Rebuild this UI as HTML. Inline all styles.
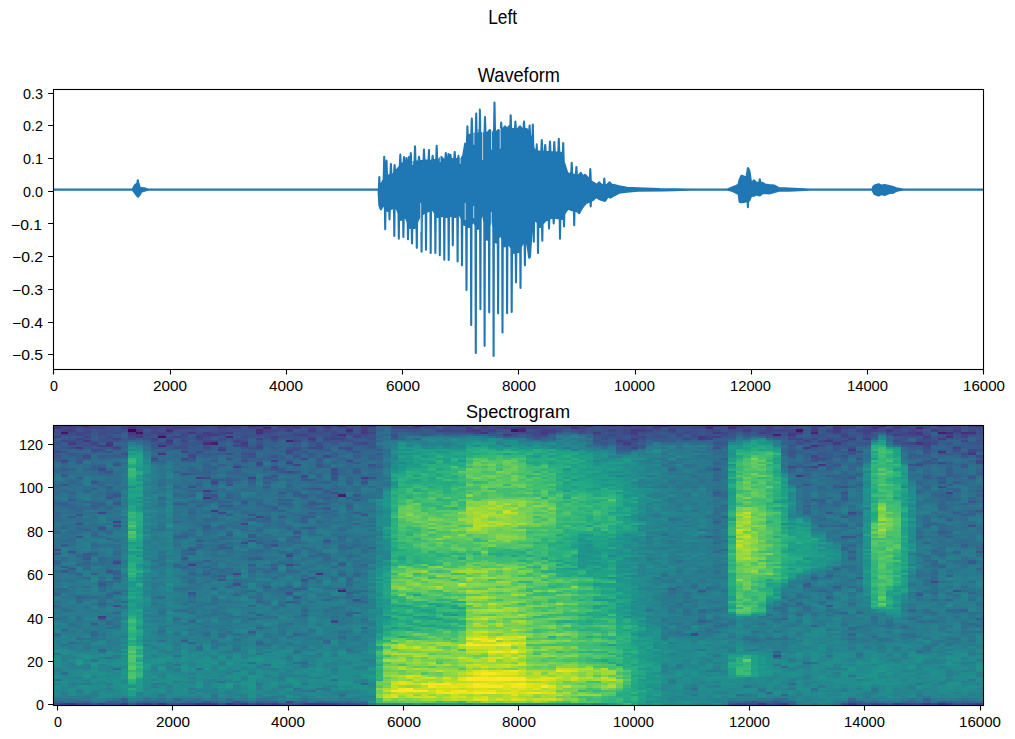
<!DOCTYPE html>
<html><head><meta charset="utf-8"><style>
html,body{margin:0;padding:0;background:#fff;width:1015px;height:739px;overflow:hidden}
svg{display:block}
text{font-family:"Liberation Sans",sans-serif;font-size:100px;fill:#000}
</style></head><body>
<svg width="1015" height="739" viewBox="0 0 1015 739">
<rect width="1015" height="739" fill="#fff"/>
<g transform="matrix(7.5 0 0 2.170543 53 425)" fill="none" stroke-width="1" shape-rendering="crispEdges"><path stroke="#440154" d="M10 2.5h1"/><path stroke="#470d60" d="M14 5.5h1M61 2.5h1"/><path stroke="#471365" d="M1 3.5h1m9 0h1M99 2.5h1"/><path stroke="#481d6f" d="M38 32.5h1M21 8.5h1M96 4.5h1M118 3.5h1"/><path stroke="#482374" d="M38 76.5h1M31 7.5h1M101 3.5h1M62 2.5h1M28 1.5h1m86 0h1"/><path stroke="#482878" d="M23 5.5h1M87 1.5h1m2 0h1M110 0.5h1"/><path stroke="#472d7b" d="M118 128.5h1M14 9.5h1M20 8.5h1M119 5.5h1M38 4.5h1M27 3.5h1m91 0h1m1 0h1M15 2.5h1m11 0h1m11 0h1M62 1.5h1m6 0h1m39 0h1M38 0.5h1m9 0h1"/><path stroke="#46327e" d="M2 128.5h1m11 0h1m4 0h1m3 0h1m70 0h1M35 68.5h1M20 33.5h1M118 12.5h1M101 9.5h1M115 8.5h1M57 3.5h1m64 0h1M0 1.5h1m9 0h1m93 0h1M26 0.5h1m54 0h1m5 0h1"/><path stroke="#453781" d="M21 39.5h1M102 18.5h1M14 13.5h1m107 0h1M3 10.5h1m96 0h1M7 9.5h1M7 8.5h1m17 0h1m78 0h1M4 7.5h1m10 0h1m87 0h1M34 6.5h1M86 5.5h1M21 4.5h1m76 0h1M10 3.5h1m7 0h1m4 0h1m17 0h1m23 0h1m22 0h1m10 0h1m15 0h1M11 2.5h1m44 0h1m20 0h1m33 0h1M16 1.5h1m38 0h1m4 0h1m51 0h1M4 0.5h1m37 0h1m28 0h1m51 0h1"/><path stroke="#443b84" d="M1 128.5h1m7 0h1m2 0h1m7 0h2m3 0h1m8 0h2m61 0h1m8 0h1m5 0h1m10 0h1M6 88.5h1M20 30.5h1M19 24.5h1m21 0h1M99 23.5h1M29 16.5h1M22 11.5h1m83 0h1M2 8.5h1m73 0h1M75 7.5h1M77 6.5h1m8 0h1m21 0h1m9 0h1M11 5.5h1m7 0h1m96 0h1M14 4.5h1m45 0h1m51 0h1m2 0h1M20 3.5h1m51 0h1m4 0h1m36 0h1M31 2.5h1m2 0h1m6 0h1m13 0h1m9 0h2m11 0h1m13 0h1m8 0h1m2 0h1m12 0h1m2 0h1M17 1.5h1m4 0h1m9 0h1m8 0h1m19 0h1m1 0h2m5 0h1m9 0h1m14 0h1m5 0h1M1 0.5h1m10 0h1m6 0h1m2 0h1m4 0h1m2 0h1m1 0h1m8 0h1m12 0h1m21 0h1m41 0h1"/><path stroke="#424086" d="M27 128.5h1m1 0h1m6 0h2m78 0h1m2 0h1M18 64.5h1M8 44.5h1M119 31.5h1M24 19.5h1m76 0h1M31 17.5h1M1 16.5h1M8 10.5h1m111 0h1M6 9.5h1m18 0h1M5 8.5h1m9 0h1M24 7.5h1m77 0h1M3 6.5h1m4 0h1m4 0h1m13 0h1m9 0h1m49 0h1m18 0h1M0 5.5h1m15 0h1m12 0h1m10 0h1m47 0h1M10 4.5h2m8 0h1m12 0h1m31 0h1m39 0h1m13 0h1M22 3.5h1m33 0h1m37 0h1m3 0h1m5 0h1m3 0h1M1 2.5h2m25 0h1m29 0h1m23 0h1m12 0h1m12 0h2M2 1.5h1m1 0h1m4 0h1m1 0h1m1 0h1m1 0h1m2 0h1m5 0h1m5 0h2m2 0h1m1 0h1m11 0h1m8 0h1m1 0h1m45 0h1M2 0.5h1m7 0h1m12 0h1m12 0h1m12 0h1m30 0h1m9 0h2m10 0h1m10 0h1m8 0h1"/><path stroke="#404588" d="M4 128.5h1m1 0h1m11 0h1m14 0h1M31 127.5h1M96 106.5h1M37 90.5h1M24 68.5h1M31 64.5h1M8 63.5h1M31 60.5h1M25 45.5h1M27 42.5h1M6 40.5h1M21 26.5h1M26 24.5h1M33 23.5h1M31 21.5h1M32 18.5h1M123 17.5h1M123 16.5h1M17 15.5h1M101 14.5h1M17 12.5h1m13 0h1m90 0h1M27 10.5h1m6 0h1m42 0h1M116 9.5h1M41 8.5h1m72 0h1m1 0h1M1 7.5h1m15 0h1m14 0h1m67 0h1m4 0h1m15 0h1M19 6.5h1m9 0h1m6 0h1m1 0h1m59 0h2M4 5.5h1m73 0h1m8 0h1m17 0h1m15 0h1M1 4.5h1m15 0h1m1 0h1m12 0h1m31 0h1m12 0h1m35 0h2m6 0h1M3 3.5h2m8 0h3m23 0h1m2 0h1m23 0h1m9 0h1m12 0h1m5 0h1m15 0h1m1 0h1M13 2.5h1m15 0h1m21 0h2m21 0h1m4 0h1m16 0h3m4 0h1m3 0h1m6 0h1M5 1.5h2m5 0h1m13 0h1m12 0h1m6 0h2m4 0h1m5 0h1m6 0h1m12 0h1m3 0h1m2 0h1m5 0h2m13 0h1m1 0h1m11 0h1M0 0.5h1m13 0h1m9 0h1m6 0h1m1 0h1m11 0h2m22 0h1m8 0h1m7 0h1m1 0h1m15 0h1"/><path stroke="#3e4989" d="M0 128.5h1m10 0h1m5 0h1m10 0h1m63 0h1m3 0h1m12 0h1m3 0h2m2 0h1m4 0h1M85 96.5h1M117 72.5h1M25 54.5h1M22 40.5h1m83 0h1M118 28.5h1M20 24.5h1M37 22.5h1M6 20.5h1m30 0h1M29 19.5h1m68 0h1M27 18.5h1m87 0h1M27 17.5h1m90 0h1M39 16.5h1M13 15.5h1m19 0h1m68 0h1M4 14.5h1m13 0h1m17 0h1m86 0h1M26 13.5h1m94 0h1M0 12.5h1m18 0h1M5 11.5h1m25 0h1m90 0h1M2 10.5h1m13 0h1m3 0h1m1 0h1m12 0h1m2 0h2m76 0h1M24 9.5h1m2 0h1m7 0h1M99 8.5h1m17 0h1M2 7.5h1m10 0h1m6 0h2m3 0h1m8 0h1m41 0h2m38 0h1M15 6.5h1m6 0h1m61 0h1m16 0h1m1 0h1m12 0h1M7 5.5h1m2 0h1m9 0h1m4 0h1m8 0h1m2 0h2m59 0h1M3 4.5h1m8 0h1m9 0h1m4 0h1m9 0h1m2 0h2m32 0h1m8 0h1m1 0h1m3 0h1m18 0h1m7 0h1M2 3.5h1m3 0h1m1 0h1m8 0h1m3 0h1m6 0h1m5 0h1m2 0h1m24 0h3m19 0h1m35 0h1M4 2.5h1m17 0h1m13 0h1m16 0h2m2 0h1m6 0h1m2 0h1m2 0h1m5 0h1m10 0h2m1 0h1m3 0h1m17 0h1m2 0h1m2 0h1m3 0h1M1 1.5h1m12 0h1m8 0h1m3 0h1m10 0h1m3 0h1m2 0h1m20 0h2m8 0h2m5 0h1m2 0h1m10 0h1m12 0h1m2 0h2m1 0h1m1 0h1m4 0h1M3 0.5h1m11 0h2m11 0h1m8 0h1m12 0h1m2 0h1m3 0h1m7 0h1m2 0h1m4 0h2m8 0h1m11 0h1m5 0h1m3 0h2m5 0h1m6 0h2"/><path stroke="#3d4e8a" d="M3 128.5h1m9 0h1m1 0h1m8 0h1m14 0h1m51 0h1m15 0h1m2 0h1m10 0h1M8 83.5h1M40 80.5h1M31 77.5h1M120 76.5h1M24 73.5h1M33 71.5h1M2 58.5h1M0 57.5h1M29 55.5h1M26 53.5h1M8 46.5h1m113 0h1M37 31.5h1m67 0h1M18 28.5h1m86 0h1M23 27.5h1M28 24.5h1m8 0h1M17 22.5h1M7 21.5h1M29 20.5h1M25 16.5h1m75 0h1M101 15.5h1M26 14.5h1M9 13.5h1m13 0h1m1 0h1m5 0h1M106 12.5h1M6 11.5h1m25 0h1m6 0h1m80 0h1m2 0h1M17 10.5h1m8 0h1m5 0h1m55 0h1m17 0h1M4 9.5h1m12 0h1m2 0h1m55 0h1m25 0h1M3 8.5h1m10 0h1m2 0h1m6 0h1m10 0h1m4 0h1m34 0h1m37 0h1M3 7.5h1m3 0h1m11 0h1m16 0h1m1 0h2m72 0h1m2 0h1m1 0h1m5 0h1M4 6.5h1m1 0h2m2 0h1m1 0h1m4 0h1m2 0h1m3 0h1m7 0h1m9 0h1m30 0h1m1 0h1m2 0h1m36 0h1M17 5.5h1m10 0h1m1 0h1m2 0h1m2 0h1m5 0h1m2 0h1m18 0h1m8 0h1m6 0h2m3 0h1m10 0h1m9 0h1m1 0h1M2 4.5h1m1 0h1m1 0h1m18 0h1m2 0h1m2 0h1m3 0h1m25 0h1m10 0h1m3 0h1m3 0h1m6 0h1m7 0h1m1 0h1m3 0h1m16 0h1m3 0h1M0 3.5h1m6 0h1m4 0h1m6 0h1m9 0h1m2 0h2m1 0h1m19 0h1m2 0h1m2 0h1m8 0h1m4 0h1m2 0h2m2 0h2m1 0h1m1 0h1m4 0h1m3 0h1m6 0h1m1 0h1m1 0h1m4 0h1m10 0h1M0 2.5h1m5 0h2m1 0h1m4 0h1m1 0h1m1 0h1m2 0h1m1 0h2m5 0h1m6 0h1m4 0h1m16 0h1m3 0h1m5 0h1m3 0h1m1 0h1m4 0h1m3 0h2m5 0h1m1 0h1m11 0h1m4 0h1m8 0h1M3 1.5h1m3 0h1m11 0h3m18 0h1m9 0h1m2 0h2m1 0h1m11 0h1m2 0h1m1 0h3m3 0h1m4 0h1m3 0h2m4 0h1m3 0h2m11 0h1m7 0h1m2 0h1M6 0.5h1m4 0h1m6 0h1m1 0h2m33 0h1m3 0h1m3 0h1m11 0h1m1 0h1m1 0h1m9 0h1m4 0h1m2 0h2m9 0h2m6 0h1"/><path stroke="#3a538b" d="M7 128.5h2m7 0h1m9 0h1m3 0h2m6 0h1m1 0h1m52 0h1m1 0h1m9 0h1m2 0h1m6 0h1M24 127.5h1m71 0h1M6 89.5h1M22 71.5h1M7 67.5h1M18 57.5h1M36 53.5h1M105 51.5h1M32 49.5h1M6 47.5h1M3 45.5h1M3 41.5h1m37 0h1M103 40.5h1M123 39.5h1M8 36.5h1M25 35.5h1M7 33.5h1M8 32.5h1m12 0h1M35 29.5h1M1 27.5h1m98 0h1M5 26.5h1m35 0h1M21 25.5h1m11 0h2M42 24.5h1M29 23.5h1M30 21.5h1m6 0h1M88 20.5h1M8 18.5h1m26 0h1m6 0h1m61 0h1m9 0h1M116 16.5h1M18 15.5h1m4 0h1m83 0h1m9 0h1M0 14.5h1m28 0h1m2 0h1m72 0h1m15 0h1M18 13.5h1m79 0h1m3 0h1m3 0h1m11 0h1M1 12.5h1m3 0h1m1 0h1m32 0h1m57 0h1m8 0h1m8 0h1m3 0h1M0 11.5h1m103 0h1m11 0h1M1 10.5h1m23 0h1m78 0h1M2 9.5h2m1 0h1m36 0h1m34 0h2m19 0h1m5 0h1M0 8.5h1m3 0h1m14 0h1m7 0h1m9 0h1m35 0h1m3 0h1m10 0h1m13 0h2m1 0h1m2 0h1m10 0h1m3 0h1M6 7.5h1m1 0h1m13 0h1m4 0h1m1 0h1m7 0h1m34 0h1m5 0h1m20 0h1m4 0h1m1 0h1M2 6.5h1m15 0h1m4 0h1m1 0h1m50 0h1m23 0h1m3 0h1m7 0h2m3 0h1M12 5.5h2m1 0h1m6 0h1m3 0h1m4 0h2m8 0h1m32 0h2m1 0h1m5 0h1m5 0h1m11 0h1m11 0h2m3 0h1M7 4.5h1m5 0h1m1 0h1m10 0h1m2 0h2m3 0h1m1 0h1m2 0h1m2 0h1m2 0h1m27 0h1m1 0h1m2 0h1m7 0h1m1 0h1m5 0h1m7 0h1m3 0h1m2 0h1m1 0h1m8 0h1M25 3.5h1m10 0h1m1 0h1m1 0h1m11 0h3m5 0h1m13 0h1m5 0h1m9 0h1m6 0h1m18 0h1M3 2.5h1m1 0h1m2 0h1m8 0h1m1 0h2m4 0h2m6 0h1m1 0h1m2 0h1m1 0h1m6 0h2m11 0h1m10 0h2m8 0h1m4 0h1m2 0h1m16 0h1m6 0h1m9 0h1M25 1.5h1m3 0h1m3 0h1m1 0h1m1 0h1m11 0h1m31 0h1m11 0h1m2 0h1m10 0h1m9 0h1m3 0h1M5 0.5h1m1 0h1m1 0h1m3 0h1m3 0h1m7 0h1m8 0h2m16 0h1m3 0h1m1 0h1m1 0h1m1 0h1m1 0h1m1 0h1m3 0h1m1 0h1m9 0h1m1 0h2m7 0h1m2 0h1m17 0h2m1 0h1"/><path stroke="#38588c" d="M5 128.5h1m16 0h1m67 0h1m29 0h1M20 127.5h1m72 0h1M26 95.5h1M5 91.5h1M103 83.5h1M31 81.5h1M32 79.5h1M115 78.5h1M18 77.5h1M86 76.5h1M32 75.5h1M6 73.5h1M8 70.5h1M22 69.5h1M1 67.5h1M1 65.5h1M38 64.5h1M8 62.5h1M4 61.5h1m12 0h1M0 59.5h1m3 0h1M123 58.5h1M22 56.5h1M3 51.5h1m102 0h1M33 47.5h1M30 42.5h1M26 41.5h1M36 38.5h1M23 37.5h1M34 36.5h2M122 35.5h1M2 34.5h1m98 0h1M105 33.5h1M40 32.5h1M30 31.5h1m57 0h1M36 30.5h1M34 29.5h1M104 28.5h1M118 26.5h1M22 25.5h1m14 0h1M33 24.5h1m72 0h1m11 0h1m3 0h1M1 23.5h1M32 21.5h1m7 0h1M30 20.5h1M35 19.5h1m64 0h1m20 0h1M121 18.5h1M40 17.5h1m74 0h2M3 16.5h1m14 0h1m12 0h1M0 15.5h1m3 0h1m20 0h1m9 0h1M6 14.5h1m18 0h1m72 0h1M2 13.5h1m31 0h1m84 0h1M33 12.5h1M17 11.5h1m2 0h1m5 0h1m9 0h1m61 0h1M4 10.5h1m1 0h2m5 0h1m15 0h1m1 0h1m1 0h1m8 0h1m32 0h2m24 0h1m21 0h1M13 9.5h1m1 0h2m1 0h1m86 0h2m6 0h3M13 8.5h1m4 0h1m13 0h1m1 0h1m7 0h1m46 0h1m10 0h1m6 0h1m4 0h1m9 0h1M5 7.5h1m35 0h2m38 0h1m19 0h1m11 0h1M1 6.5h1m7 0h1m1 0h1m2 0h1m13 0h1m2 0h1m1 0h1m5 0h1m1 0h1m32 0h1m6 0h1m3 0h1m19 0h1m13 0h3m1 0h1M2 5.5h2m2 0h1m1 0h1m9 0h1m2 0h1m5 0h1m32 0h1m2 0h1m1 0h1m6 0h1m3 0h1m2 0h1m4 0h1m5 0h1m4 0h1m1 0h1m4 0h2m5 0h1m2 0h1m2 0h1m1 0h1m2 0h1m2 0h1M0 4.5h1m4 0h1m2 0h1m7 0h1m6 0h2m24 0h1m8 0h2m3 0h1m15 0h1m1 0h1m8 0h1m1 0h2m5 0h1m4 0h1m2 0h1m15 0h1M5 3.5h1m3 0h1m6 0h1m7 0h1m1 0h1m3 0h2m19 0h1m15 0h1m3 0h1m1 0h1m12 0h1m15 0h1m6 0h1M12 2.5h1m19 0h1m12 0h2m3 0h1m17 0h1m14 0h1m16 0h1m1 0h1m13 0h1m4 0h1M8 1.5h1m42 0h1m20 0h1m27 0h1m1 0h2M8 0.5h1m20 0h1m9 0h2m6 0h1m13 0h1m30 0h1m6 0h2"/><path stroke="#365c8d" d="M10 128.5h1m21 0h1m8 0h1m69 0h1M106 127.5h1M17 99.5h1M31 78.5h1M8 77.5h1M28 74.5h1m75 0h1M100 73.5h1M34 70.5h1M119 69.5h1M5 68.5h1m2 0h1m11 0h1M2 66.5h1m26 0h1M26 64.5h1M0 63.5h1m121 0h1M122 62.5h1M27 61.5h1M31 59.5h1M23 56.5h1M1 55.5h1m119 0h1M27 54.5h1M19 53.5h1M26 51.5h1m5 0h1M23 50.5h1M118 49.5h1M6 48.5h1M34 47.5h1M20 46.5h1M33 44.5h1M26 43.5h1m92 0h1M2 42.5h1m30 0h2m70 0h1M23 41.5h1m97 0h1M34 40.5h1m5 0h1m79 0h1M29 38.5h1M5 37.5h1m16 0h1m16 0h1M0 36.5h2m4 0h1m9 0h1m13 0h1M34 35.5h1M21 34.5h1m9 0h1m8 0h1m61 0h1m2 0h1M21 33.5h1m11 0h1m2 0h1M20 32.5h1m11 0h2M32 31.5h1M21 30.5h1m98 0h1M7 28.5h1m20 0h1M119 27.5h1M23 26.5h1m4 0h1m10 0h1m80 0h1M23 25.5h2m1 0h1m2 0h1M3 24.5h1m112 0h1M37 23.5h1m65 0h2m11 0h1m2 0h1m2 0h1M18 22.5h1m104 0h1M119 21.5h1M1 20.5h1m38 0h1m62 0h1m15 0h1M5 19.5h2m35 0h1m56 0h1m3 0h1M22 18.5h1m8 0h1m67 0h1M1 17.5h1m1 0h1m99 0h1m13 0h1m1 0h1M13 16.5h1m3 0h1m3 0h1m13 0h1M3 15.5h1m23 0h1m2 0h1m72 0h1m19 0h1M3 14.5h1m4 0h1m25 0h1m5 0h1m61 0h3m9 0h2M0 13.5h1m2 0h2m14 0h3m10 0h1m4 0h1m5 0h1m56 0h1m2 0h1m12 0h1M6 12.5h1m7 0h1m3 0h1m6 0h2m12 0h1m59 0h1m2 0h1m2 0h1m17 0h1M3 11.5h1m4 0h1m9 0h1m2 0h1m5 0h1m7 0h1m39 0h2m24 0h1m16 0h1M0 10.5h1m4 0h1m8 0h2m3 0h1m16 0h1m4 0h1m36 0h1m19 0h1m3 0h1m2 0h1m8 0h2m5 0h2M0 9.5h2m6 0h1m12 0h2m3 0h1m5 0h1m1 0h1m4 0h3m33 0h1m12 0h1m11 0h1m6 0h1m12 0h4M1 8.5h1m4 0h1m9 0h1m55 0h1m25 0h1m2 0h1m19 0h1M0 7.5h1m8 0h1m4 0h1m1 0h1m6 0h1m9 0h1m6 0h1m32 0h2m5 0h1m1 0h1m3 0h1m1 0h2m8 0h1m8 0h2m9 0h1M16 6.5h1m4 0h1m8 0h1m9 0h1m4 0h1m18 0h1m7 0h1m6 0h2m1 0h2m4 0h1m7 0h1m5 0h1m4 0h1M1 5.5h1m3 0h1m3 0h1m14 0h1m10 0h1m25 0h1m20 0h1m16 0h2m3 0h1m2 0h1m14 0h1M18 4.5h1m31 0h1m31 0h1m1 0h1m18 0h1M45 3.5h1m2 0h3m8 0h1m9 0h1m11 0h1m9 0h1m1 0h1m6 0h1m5 0h1m3 0h1m6 0h1M49 2.5h1M111 0.5h1m9 0h1"/><path stroke="#34608d" d="M98 128.5h1M7 127.5h1m1 0h1m17 0h1m79 0h1m10 0h1M9 126.5h1M18 100.5h1m8 0h1M86 90.5h1M97 89.5h1m25 0h1M27 87.5h1m5 0h1m5 0h1M40 86.5h1m64 0h1M121 85.5h1M6 82.5h1m92 0h1M27 81.5h1M36 80.5h1M3 79.5h1m99 0h1M0 78.5h1m6 0h1m10 0h1M39 77.5h1M33 75.5h1m4 0h1m43 0h1M31 74.5h1M101 70.5h1m5 0h1M103 69.5h1M3 68.5h1m34 0h1M3 64.5h1m12 0h1m12 0h1m2 0h1M20 62.5h1M26 61.5h1m79 0h1M4 60.5h1M5 59.5h1m12 0h1M106 58.5h1m13 0h1M18 56.5h2m19 0h1m65 0h1M22 55.5h1M29 53.5h1M16 51.5h2m69 0h1m31 0h1M26 50.5h1M4 48.5h1M1 47.5h1m18 0h1M102 46.5h1m2 0h1m10 0h1M117 45.5h1M88 44.5h1M28 43.5h1m4 0h1M28 42.5h1m60 0h1M106 41.5h1M18 40.5h1m103 0h1M30 39.5h1M118 38.5h1M1 37.5h1m17 0h1m80 0h1M17 36.5h1m7 0h1m1 0h1m8 0h1m84 0h1M4 35.5h1m3 0h1m13 0h1m79 0h1M30 34.5h1m88 0h1M23 33.5h1m15 0h1M7 32.5h1m10 0h1m4 0h1m81 0h1m12 0h2m3 0h1M2 31.5h1m5 0h1m11 0h1m15 0h1M123 30.5h1M5 29.5h1m31 0h1M16 28.5h1m99 0h1M19 27.5h1m1 0h1m82 0h1m2 0h1M26 26.5h1m9 0h1M41 25.5h1m46 0h1m29 0h1M23 24.5h1m5 0h1m9 0h1m65 0h1M35 23.5h1m64 0h1m5 0h1m13 0h1M6 22.5h2m12 0h1m79 0h1m6 0h1m11 0h1M6 21.5h1m9 0h1m3 0h1M2 20.5h1m2 0h1m12 0h1m9 0h1m69 0h1m1 0h1M20 19.5h2m3 0h1m10 0h1m6 0h1m60 0h1M20 18.5h1m3 0h1M8 17.5h1m26 0h1m64 0h1m6 0h1M0 16.5h1m25 0h2m74 0h2m13 0h1M1 15.5h1m26 0h1m9 0h1m3 0h1m46 0h1m15 0h1M2 14.5h1m4 0h1m1 0h1m10 0h1m7 0h1m1 0h1m6 0h1m4 0h1m57 0h1m15 0h1M1 13.5h1m20 0h1m78 0h1m3 0h1m8 0h1m5 0h1M22 12.5h1m7 0h1m1 0h1m2 0h1m67 0h2m12 0h1m3 0h1M1 11.5h1m13 0h1m3 0h1m5 0h1m3 0h1m13 0h1m56 0h1m1 0h2m10 0h1m2 0h1m1 0h1M18 10.5h1m2 0h1m1 0h1m95 0h1M19 9.5h1m8 0h1m1 0h1m5 0h1m52 0h1m29 0h1M22 8.5h1m3 0h1m1 0h2m1 0h1m4 0h1m2 0h1m34 0h1m3 0h1m18 0h1m8 0h1m11 0h1M12 7.5h1m5 0h1m9 0h1m55 0h1M0 6.5h1m4 0h1m20 0h1m8 0h1m53 0h2m6 0h1M39 5.5h1m19 0h1m2 0h1m3 0h1m25 0h1M9 4.5h1m38 0h1m3 0h1m3 0h1m5 0h1m3 0h1m33 0h1m16 0h1M47 3.5h1M51 0.5h1m15 0h1m35 0h1m3 0h1"/><path stroke="#32648e" d="M3 127.5h1m8 0h1m12 0h1m7 0h1m1 0h1m56 0h1m1 0h2m2 0h1M116 126.5h1M97 124.5h1M96 104.5h1M6 103.5h1M5 96.5h1m26 0h1m73 0h1M1 94.5h1M27 93.5h1M101 92.5h1M18 90.5h1M26 89.5h1m87 0h1M99 87.5h1M8 86.5h1m98 0h1M33 85.5h1m52 0h1m27 0h1M0 83.5h1M32 81.5h1m8 0h1M117 80.5h1m1 0h1M24 78.5h1M0 77.5h1m114 0h1m1 0h1m4 0h1M102 76.5h1M21 75.5h1m8 0h1M23 74.5h1m76 0h1M6 72.5h2m25 0h1M39 71.5h1M29 70.5h1M40 69.5h1M18 68.5h1m21 0h1m76 0h1M8 67.5h1m17 0h1m1 0h1m2 0h1M21 66.5h1m82 0h1m18 0h1M17 65.5h1m2 0h1m97 0h1M41 64.5h1m75 0h1M4 63.5h1m13 0h1m19 0h1m78 0h1M0 62.5h1M6 61.5h1m29 0h1M3 60.5h1m30 0h1m4 0h1M8 59.5h1m26 0h1M17 58.5h1m70 0h1m28 0h1M21 57.5h1M33 56.5h1m8 0h1M5 55.5h1m13 0h1m8 0h1m77 0h1M36 54.5h1m79 0h1M31 53.5h1M7 52.5h1m14 0h1M38 51.5h1M5 50.5h1m11 0h1m89 0h1M0 49.5h1m6 0h1m15 0h1m95 0h1M18 48.5h1m1 0h1m4 0h1m1 0h1m10 0h1M3 47.5h1m18 0h1m8 0h1M22 46.5h1m81 0h1M40 45.5h1m75 0h1M16 44.5h1m11 0h1m6 0h1M20 43.5h1M118 42.5h1M0 41.5h1m31 0h1m4 0h1m84 0h1M0 40.5h1m24 0h1m10 0h1m63 0h1m6 0h1M3 39.5h1m33 0h1m62 0h1m21 0h1M2 38.5h1m2 0h1m1 0h1m27 0h1m3 0h1M2 37.5h1m3 0h1m21 0h1m2 0h1m1 0h2m69 0h1m13 0h1M5 36.5h1m25 0h1m7 0h1m62 0h1m1 0h1m13 0h1M0 35.5h1m17 0h1m1 0h1m2 0h1m3 0h1m72 0h1m3 0h1M20 34.5h1m15 0h1m83 0h1m1 0h1M14 33.5h1m20 0h1m1 0h1m65 0h1m15 0h1m2 0h1M35 32.5h1m1 0h1m50 0h1m28 0h1M0 31.5h1m6 0h1M1 30.5h1m2 0h1m13 0h2m11 0h1m73 0h1m9 0h1M7 29.5h1m25 0h1m68 0h1m16 0h2M0 28.5h1m30 0h1m5 0h1m64 0h1m3 0h1m16 0h1M0 27.5h1m5 0h1m24 0h1M2 26.5h1m32 0h1m69 0h1m9 0h1M31 25.5h1m73 0h1M104 24.5h1m12 0h1m2 0h1M20 23.5h1m67 0h1m32 0h1M1 22.5h1m17 0h1m3 0h3m5 0h2m5 0h1m1 0h1m64 0h1M0 21.5h1m18 0h1m3 0h2m73 0h1m6 0h1m17 0h1M0 20.5h1m3 0h1m15 0h2m2 0h1m13 0h1m43 0h1m18 0h1m4 0h1m7 0h1m8 0h1M1 19.5h1m25 0h1m11 0h1m66 0h1m12 0h1M5 18.5h2m22 0h1m6 0h1m6 0h1m59 0h1m2 0h2m8 0h1m1 0h3M25 17.5h1m3 0h1m7 0h1m1 0h1m48 0h1m15 0h1M14 16.5h1m85 0h1m4 0h1m16 0h1M6 15.5h1m14 0h1m4 0h1m2 0h1m2 0h1m7 0h1m2 0h1m56 0h1m13 0h1M1 14.5h1m11 0h1m5 0h1m1 0h1m2 0h1m10 0h1m7 0h1m63 0h1m14 0h1M5 13.5h1m2 0h1m19 0h2m3 0h1m4 0h1m1 0h1m58 0h1m4 0h1M2 12.5h1m6 0h1m3 0h1m6 0h1m2 0h2m12 0h1m37 0h1m21 0h1m2 0h2M2 11.5h1m1 0h1m8 0h2m1 0h1m6 0h2m5 0h1m2 0h2m3 0h1m1 0h3m34 0h1m19 0h1m1 0h1m7 0h1m13 0h1M9 10.5h1m14 0h1m5 0h1m9 0h1m2 0h1m59 0h1M9 9.5h1m13 0h1m5 0h1m1 0h1m5 0h2m34 0h1m29 0h1m4 0h1m8 0h2M8 8.5h2m2 0h1m10 0h1m14 0h1M11 7.5h1m14 0h1m3 0h1m4 0h1m7 0h1m35 0h1m3 0h1m1 0h1m1 0h1m9 0h1m16 0h1m4 0h2m1 0h1M46 6.5h1m18 0h2m42 0h1m12 0h1M43 5.5h1m27 0h1m22 0h1m16 0h1M44 4.5h1m2 0h1m5 0h2m36 0h1M46 3.5h1m21 0h1M43 2.5h1M43 1.5h1M44 0.5h1"/><path stroke="#31688e" d="M0 127.5h1m3 0h1m3 0h1m2 0h1m1 0h1m4 0h1m2 0h1m6 0h2m6 0h1m77 0h1m1 0h1m2 0h1m1 0h2M16 126.5h1m89 0h1M95 123.5h1M41 119.5h1M8 112.5h1M33 109.5h1m66 0h1M115 104.5h1M2 100.5h1m33 0h1M36 99.5h1M38 97.5h1m70 0h1M0 96.5h1m19 0h1M5 95.5h1m17 0h1M7 93.5h1m33 0h1m64 0h1M88 92.5h1m34 0h1M7 91.5h1m23 0h1m90 0h1M87 90.5h1M0 89.5h1m15 0h1M39 86.5h1m77 0h1M119 85.5h2M37 84.5h1m58 0h1m3 0h1M26 83.5h1M83 82.5h1m13 0h1m8 0h1M3 81.5h1m5 0h1m8 0h1m21 0h1M27 80.5h1M4 79.5h2m1 0h1m6 0h1m24 0h1M26 76.5h1m4 0h1m8 0h1M0 75.5h2m26 0h1m58 0h1m16 0h1M6 74.5h1m26 0h1m51 0h1m20 0h1M39 73.5h1M18 72.5h1m5 0h1M8 71.5h1m9 0h1m98 0h1M4 70.5h1m32 0h1m1 0h1m77 0h1M21 69.5h1m11 0h1m4 0h1M0 67.5h1m1 0h1m17 0h1m1 0h1m9 0h1m84 0h1M4 66.5h1m12 0h1m5 0h1m3 0h1M16 65.5h1m12 0h1m7 0h1M118 64.5h1M19 63.5h1m10 0h1M4 62.5h1m1 0h1m29 0h1m79 0h2M35 60.5h2m79 0h1m1 0h1M17 59.5h1m18 0h1m81 0h1M8 58.5h1m18 0h1m2 0h1m1 0h1m8 0h1M27 57.5h1m6 0h1m6 0h1m47 0h1m15 0h1m11 0h1M28 56.5h1m9 0h1m79 0h1m4 0h1M38 55.5h1m1 0h1M23 54.5h1m4 0h1m3 0h1m55 0h1m32 0h1M1 53.5h2m5 0h1m12 0h1m5 0h1m93 0h1M2 52.5h1m24 0h1m10 0h1m66 0h1M22 51.5h1m92 0h1M18 50.5h1m99 0h1M2 49.5h1m2 0h1m28 0h1m80 0h1M3 48.5h1m114 0h1M21 47.5h1m2 0h1m93 0h1M1 46.5h1m26 0h1m2 0h1m71 0h1m3 0h1m10 0h1M8 45.5h1m21 0h1M27 44.5h1M0 43.5h1m20 0h1m3 0h1m1 0h1m74 0h1m13 0h1m4 0h1M0 42.5h1m20 0h1m14 0h1m64 0h1m14 0h1M33 41.5h2M3 40.5h1m27 0h1m91 0h1M18 39.5h1m9 0h2m91 0h1M3 38.5h2m18 0h2m3 0h1m5 0h1M27 37.5h1m61 0h1m12 0h1m16 0h1M2 36.5h1m19 0h1M1 35.5h1m3 0h1m15 0h1m8 0h2m5 0h1m80 0h1m4 0h1M22 34.5h1m1 0h4m72 0h1m17 0h1M8 33.5h1m31 0h2m76 0h1m1 0h1M16 32.5h1m7 0h1m5 0h1m5 0h1m52 0h1M6 31.5h1m16 0h1m10 0h1m3 0h1m50 0h1m25 0h1m1 0h2M7 30.5h1m18 0h1m5 0h1m55 0h1m29 0h1m3 0h1M17 29.5h1m7 0h1m2 0h1m2 0h1m6 0h1m65 0h2m10 0h1m6 0h1M4 28.5h1m21 0h1m7 0h1m5 0h1m1 0h1m56 0h1M3 27.5h1m10 0h1m11 0h1m12 0h1m1 0h1m63 0h1m9 0h1m5 0h1M6 26.5h1m1 0h1m10 0h1m14 0h1m86 0h1M2 25.5h1m25 0h1m10 0h1m59 0h1m4 0h1m11 0h1m4 0h2M24 24.5h1m10 0h1M7 23.5h1m9 0h1m7 0h2m1 0h1m12 0h2m59 0h1m2 0h1m1 0h1M21 22.5h1m7 0h1m4 0h2m6 0h1m56 0h1m20 0h2M1 21.5h1m16 0h1m2 0h1m6 0h1m5 0h1m1 0h1m1 0h1m61 0h1m1 0h1m13 0h1M7 20.5h1m24 0h1m1 0h1m7 0h1m44 0h1m28 0h1M18 19.5h1m7 0h1m1 0h1m1 0h1m1 0h1m8 0h1m72 0h1M1 18.5h1m37 0h1m48 0h1m9 0h1m24 0h1M5 17.5h1m8 0h1m5 0h1m3 0h1m73 0h2m5 0h1m15 0h2M2 16.5h1m17 0h1m9 0h1m2 0h1m3 0h1m3 0h1m65 0h1M2 15.5h1m4 0h1m7 0h1m15 0h1m7 0h1m58 0h1m16 0h2M14 14.5h1m1 0h2m5 0h1m3 0h1m5 0h1m7 0h1m64 0h1m11 0h3M6 13.5h2m8 0h2m6 0h1m10 0h2m4 0h2m54 0h1m9 0h1m15 0h1M3 12.5h2m3 0h1m12 0h1m5 0h3m4 0h1m1 0h1m4 0h2m33 0h1m11 0h2m24 0h1m4 0h1M7 11.5h1m1 0h1m18 0h1m58 0h2m16 0h1m7 0h1m1 0h1M28 10.5h1m60 0h1m7 0h1m15 0h1m3 0h2M33 9.5h1m9 0h1m55 0h1M30 8.5h1m2 0h1m45 0h1m7 0h1m32 0h1M10 7.5h1m100 0h1M48 6.5h1m14 0h1m47 0h1m2 0h1M46 4.5h1m10 0h1m13 0h1M43 3.5h1M44 1.5h1M43 0.5h1"/><path stroke="#2f6c8e" d="M1 127.5h2m11 0h1m4 0h1m3 0h1m8 0h1m5 0h2m1 0h1m48 0h2m5 0h1m11 0h1m10 0h1m2 0h1M96 126.5h2M85 121.5h1M98 119.5h1M37 117.5h1M97 111.5h1M28 110.5h1M32 109.5h1M103 106.5h1M32 104.5h1M19 103.5h1m4 0h1m14 0h1M19 102.5h1M14 99.5h1m6 0h1m71 0h1M3 98.5h1m91 0h1m1 0h1m8 0h1m13 0h1M22 97.5h1m8 0h1M22 96.5h1m1 0h1m89 0h1M14 95.5h1m23 0h1m44 0h1m4 0h1m34 0h1M87 94.5h1m18 0h1M113 93.5h1m7 0h1M8 92.5h1m80 0h1m21 0h1m1 0h1m7 0h1M2 91.5h1m80 0h1m10 0h1M7 90.5h1m107 0h1m1 0h1M22 89.5h1m63 0h1m22 0h1M29 88.5h1m79 0h1M95 87.5h1M18 86.5h1m2 0h1m4 0h1m77 0h1M1 85.5h1m15 0h1m66 0h1m3 0h1m8 0h1m2 0h1m15 0h1M0 84.5h1M6 83.5h1m23 0h1m66 0h1M21 82.5h1m6 0h1m1 0h1M0 81.5h1m5 0h1m16 0h1m4 0h1m5 0h1m49 0h1m17 0h1M3 80.5h1m2 0h1m14 0h1m76 0h1M21 79.5h1m5 0h1m9 0h1M39 78.5h1M25 77.5h1m56 0h1m36 0h1M1 76.5h1m4 0h1m23 0h1m10 0h1m40 0h1m6 0h1m13 0h1m17 0h1M16 75.5h2m13 0h1m5 0h1m69 0h1M4 74.5h1m20 0h1m57 0h1m37 0h1M7 73.5h1m25 0h1M0 72.5h1m38 0h1m82 0h1M24 71.5h2m11 0h1m63 0h1m14 0h1M6 70.5h1m15 0h1M19 69.5h2m3 0h1m90 0h1m1 0h1M23 68.5h1m91 0h2M18 67.5h1m4 0h1M7 66.5h1m14 0h1m3 0h1M4 65.5h1m26 0h1m8 0h1m64 0h1m10 0h1M0 64.5h1m3 0h1m3 0h1m12 0h1m6 0h1M6 63.5h2m112 0h1M17 62.5h1m19 0h1m83 0h1M1 61.5h1m6 0h1m22 0h1m89 0h1M5 60.5h1m11 0h1m3 0h1m5 0h1m12 0h1m65 0h1m16 0h1M2 59.5h1m20 0h1m2 0h1m5 0h1m84 0h1M5 58.5h1m17 0h1m2 0h1m7 0h1m83 0h1M17 57.5h1m8 0h1m5 0h1m5 0h1M21 56.5h1m14 0h1m84 0h1M31 55.5h1m91 0h1M2 54.5h1m2 0h1m23 0h3m1 0h1m85 0h2M0 53.5h1m24 0h1m2 0h1m3 0h1m5 0h1m1 0h1m48 0h1m28 0h1M31 52.5h2m55 0h1M5 51.5h2m20 0h1m3 0h1m9 0h1m46 0h1m28 0h1m4 0h1M16 50.5h1m11 0h1m5 0h2m1 0h1M3 49.5h1m13 0h1m2 0h2m101 0h1M22 48.5h1m8 0h2m1 0h1m51 0h1m1 0h1m16 0h1m17 0h1M8 47.5h1m16 0h1m4 0h1m7 0h1m77 0h1m2 0h1m1 0h1m1 0h1M4 46.5h3m12 0h1m3 0h2m5 0h1m5 0h1m82 0h1M19 45.5h1m3 0h1m64 0h1m16 0h1m1 0h1m14 0h1M0 44.5h1m2 0h1m15 0h2m3 0h2m12 0h1m77 0h1M1 43.5h1m6 0h1m21 0h1m1 0h1m55 0h1m17 0h1M5 42.5h1m12 0h1m100 0h3M18 41.5h1m2 0h1m5 0h2m78 0h1m10 0h1M1 40.5h2m2 0h1m14 0h2m4 0h1m12 0h1m48 0h1m28 0h1m3 0h1M2 39.5h1m3 0h1m1 0h1m13 0h1m2 0h2m9 0h1m5 0h1m42 0h1m2 0h1m18 0h1m11 0h2M1 38.5h1m16 0h1m3 0h1m4 0h1m72 0h1m1 0h1m16 0h1M0 37.5h1m3 0h1m2 0h1m9 0h1m6 0h2m3 0h2m70 0h1M14 36.5h1m4 0h2m2 0h1m9 0h1m66 0h1m2 0h1m18 0h1M3 35.5h1m2 0h1m12 0h1m9 0h1m6 0h1m68 0h1m11 0h1M0 34.5h1m7 0h1m25 0h1m2 0h1m3 0h1m74 0h1m6 0h1M2 33.5h1m21 0h1m75 0h1m16 0h1m5 0h1M2 32.5h1m2 0h1m11 0h1m9 0h1m6 0h1m65 0h1m1 0h1m17 0h1M16 31.5h1m1 0h1m2 0h1m2 0h1m98 0h1M0 30.5h1m1 0h1m19 0h1m1 0h1m3 0h1m5 0h2m1 0h2m1 0h1m2 0h1m56 0h1m6 0h1m11 0h1M0 29.5h1m15 0h1m1 0h3m1 0h1m7 0h1m9 0h1m2 0h1m74 0h1M19 28.5h1m1 0h1m13 0h1m2 0h1m83 0h1M2 27.5h1m15 0h1m9 0h1m15 0h1m58 0h1m12 0h1M3 26.5h1m3 0h1m9 0h1m6 0h1m73 0h1m1 0h1m6 0h1m8 0h1M3 25.5h1m1 0h1m1 0h1m6 0h1m5 0h1m4 0h1m4 0h1m4 0h1m6 0h1m59 0h2m2 0h1m8 0h1m1 0h1m2 0h1M22 24.5h1m2 0h1m6 0h1m7 0h1m47 0h1m10 0h3M8 23.5h1m10 0h1m4 0h1m14 0h1m45 0h1m28 0h2m1 0h2M2 22.5h1m1 0h2m2 0h1m21 0h1m2 0h1m5 0h1m3 0h1m44 0h1m9 0h1m17 0h1M4 21.5h2m11 0h1m9 0h1m1 0h1m13 0h1m59 0h1m14 0h1m1 0h2M17 20.5h1m1 0h1m5 0h2m4 0h1m3 0h1m3 0h1m1 0h1m1 0h1m58 0h1m1 0h1m15 0h2M3 19.5h1m13 0h1m4 0h1m11 0h1m3 0h1m48 0h2m13 0h1m12 0h1M3 18.5h2m11 0h1m8 0h1m4 0h1m9 0h1m48 0h1m10 0h2m3 0h1m11 0h1M9 17.5h1m8 0h2m1 0h1m4 0h1m5 0h1m1 0h1m3 0h1m4 0h1m38 0h1m18 0h1m4 0h1m13 0h1M16 16.5h1m6 0h2m3 0h1m3 0h1m5 0h1m1 0h1m2 0h1m44 0h1m9 0h1m5 0h1m14 0h1M20 15.5h1m3 0h1m12 0h1m50 0h1m30 0h1m1 0h2M22 14.5h1m8 0h1m6 0h1m78 0h1M13 13.5h1m1 0h1m14 0h1m57 0h2m25 0h1m1 0h1M38 12.5h1m4 0h1M37 11.5h1m6 0h1M37 10.5h1m35 0h1m25 0h1m7 0h2M12 9.5h1m58 0h2M81 8.5h3m1 0h2M65 7.5h1M43 6.5h1m51 0h1M46 5.5h1m46 0h1M43 4.5h1m7 0h1m3 0h1m12 0h1m1 0h1M44 3.5h1M44 2.5h1"/><path stroke="#2d708e" d="M15 127.5h3m19 0h1m75 0h1M23 126.5h1M38 124.5h1m52 0h1M34 122.5h1M101 121.5h1M0 117.5h1M1 114.5h1M19 112.5h1M26 109.5h1m74 0h1M96 107.5h1M16 106.5h1M0 105.5h1m95 0h1m10 0h1M6 104.5h1M116 103.5h1M21 102.5h1m94 0h1M1 101.5h1m20 0h1m4 0h2m88 0h1m1 0h1M27 99.5h1m82 0h1M4 98.5h1m19 0h1m13 0h1m53 0h2m2 0h1m13 0h1M40 97.5h1m51 0h1m4 0h1m16 0h1M30 96.5h1m2 0h1m50 0h1m28 0h1M93 95.5h1m2 0h1m24 0h2M18 94.5h1m15 0h1M28 93.5h1m78 0h1M20 92.5h1m89 0h1M17 91.5h1m1 0h1m69 0h2m14 0h1m5 0h1m9 0h1M111 90.5h1m4 0h1M3 89.5h1m4 0h1m32 0h1m46 0h1m7 0h1M23 88.5h2m3 0h1m3 0h2m3 0h1m1 0h1m80 0h1M20 87.5h2m79 0h1m1 0h1M14 86.5h1m7 0h1m61 0h1m1 0h1m10 0h1m1 0h1m1 0h1m14 0h1m3 0h1m1 0h2M2 85.5h1m13 0h1m4 0h1m14 0h1m66 0h1M1 84.5h1m2 0h1m24 0h1m3 0h1m55 0h1m7 0h1M19 83.5h1m78 0h2M7 82.5h1m9 0h1m2 0h1m11 0h1m69 0h1m20 0h1M21 81.5h1m8 0h1M32 80.5h1m52 0h1m29 0h1m6 0h1M6 79.5h1m11 0h1m7 0h1m14 0h1m55 0h1m1 0h1M27 78.5h1m7 0h1m63 0h1m17 0h1m2 0h1M7 77.5h1m19 0h1m2 0h1m9 0h1m43 0h1m18 0h1M0 76.5h1m7 0h2m15 0h1m2 0h2m2 0h1m68 0h1m5 0h1m8 0h2M6 75.5h1m11 0h1m17 0h1m65 0h1m14 0h1M2 74.5h1m27 0h1m5 0h1m50 0h1m29 0h1m1 0h1M19 73.5h1m8 0h1m2 0h1m53 0h1m30 0h2M2 72.5h1m5 0h1m11 0h1m4 0h1m2 0h1m6 0h1m80 0h1m1 0h1M0 71.5h1m1 0h1m32 0h1m70 0h1M3 70.5h1m13 0h1m3 0h1m11 0h1m68 0h2M0 69.5h1m2 0h1m4 0h1m17 0h1m3 0h1m50 0h1m19 0h1m14 0h1M2 68.5h1m18 0h2m7 0h1m10 0h1m61 0h1M29 67.5h1m4 0h1m3 0h1m49 0h1m26 0h1m3 0h1M18 66.5h1m9 0h1m2 0h1m1 0h1m72 0h1M2 65.5h1m4 0h1m11 0h1m6 0h1m6 0h1m72 0h1m10 0h1m3 0h1M5 64.5h3m6 0h1m106 0h1M3 63.5h1m1 0h1m11 0h1m3 0h1m1 0h1m7 0h1m3 0h1m85 0h1m1 0h1M1 62.5h1m1 0h1m3 0h1m5 0h1m17 0h1m8 0h1m42 0h1m35 0h2M3 61.5h1m3 0h1m6 0h1m10 0h1m2 0h2m3 0h1m82 0h1M22 60.5h2m1 0h2M3 59.5h1m17 0h1m5 0h1m2 0h1m75 0h1m8 0h1m4 0h1M0 58.5h1m13 0h1m3 0h1m6 0h1m2 0h1M22 57.5h2m4 0h1m77 0h1m11 0h1m4 0h1M0 56.5h1m4 0h1m2 0h1M0 55.5h1m1 0h1m3 0h3m7 0h1m3 0h2m1 0h1m1 0h1m4 0h1m8 0h1m1 0h1m63 0h1m13 0h1m2 0h1M0 54.5h1m39 0h1m77 0h1m3 0h2M20 53.5h1m99 0h1m1 0h1M0 52.5h2m14 0h1m2 0h1m1 0h1m1 0h1m1 0h2m1 0h2m6 0h1m3 0h1m74 0h1m4 0h3M1 51.5h2m16 0h1m3 0h1m5 0h1m9 0h1m46 0h1m20 0h1m8 0h1m1 0h1M1 50.5h1m18 0h1m18 0h1m41 0h1m33 0h1m3 0h2m1 0h1M18 49.5h1m8 0h1m76 0h1m12 0h1M0 48.5h1m1 0h1m4 0h1m5 0h2m27 0h1m72 0h1m3 0h3M0 47.5h1m3 0h1m9 0h1m12 0h2m10 0h1m66 0h1m13 0h1M2 46.5h2m21 0h1m8 0h1m4 0h1m1 0h2m78 0h1m1 0h1M1 45.5h2m2 0h1m1 0h1m12 0h1m3 0h1m3 0h2m5 0h1m1 0h1m80 0h1m2 0h1M18 44.5h1m11 0h1m1 0h1m3 0h2m1 0h1m2 0h1m58 0h1m2 0h1m16 0h2M2 43.5h3m2 0h1m10 0h1m3 0h1m13 0h1m2 0h2m1 0h1m39 0h1m20 0h1m16 0h1M3 42.5h1m12 0h2m19 0h1m1 0h1m47 0h1m14 0h1m3 0h1m8 0h1M22 41.5h1m7 0h1m4 0h1m52 0h1m11 0h1m1 0h1m1 0h2m10 0h1m3 0h1M4 40.5h1m2 0h1m8 0h1m11 0h1m6 0h1m1 0h1m3 0h1m62 0h1m14 0h1M0 39.5h1m19 0h1m3 0h1m2 0h1m11 0h1m62 0h2m2 0h1m11 0h1M0 38.5h1m5 0h1m26 0h1m54 0h2m31 0h3M3 37.5h1m4 0h1m7 0h1m3 0h1m15 0h1m66 0h1m2 0h1M3 36.5h1m24 0h1m9 0h1m66 0h1m9 0h1m3 0h2M2 35.5h1m13 0h1m21 0h1m1 0h2m59 0h1m13 0h2m2 0h1M3 34.5h1m1 0h3m6 0h1m8 0h1m5 0h1m58 0h1m17 0h1m10 0h1M5 33.5h1m11 0h1m4 0h1m3 0h1m3 0h1m11 0h1m46 0h1m9 0h1m2 0h1M0 32.5h1m5 0h1m22 0h1m11 0h2M4 31.5h1m22 0h2m11 0h1m2 0h1m56 0h1m1 0h1m1 0h1m15 0h1m1 0h1M8 30.5h1m8 0h1m5 0h1m1 0h1m4 0h1m8 0h1m49 0h1m11 0h3m12 0h2M1 29.5h4m9 0h1m6 0h1m2 0h1m1 0h1m5 0h1m3 0h1m2 0h1m48 0h1m11 0h2m13 0h1m6 0h1M2 28.5h1m2 0h2m2 0h1m23 0h1m49 0h1m1 0h1m14 0h2m5 0h1M5 27.5h1m2 0h1m7 0h2m16 0h1m2 0h1m61 0h1m1 0h1m4 0h1m10 0h2m3 0h2M0 26.5h2m12 0h1m3 0h1m3 0h1m6 0h1m1 0h3m3 0h1m48 0h1m12 0h1m3 0h2m12 0h1m1 0h1m2 0h1M8 25.5h1m8 0h3m12 0h1m7 0h1m2 0h1m42 0h1m11 0h1m1 0h1m18 0h1M7 24.5h2m12 0h1m9 0h1m11 0h2m44 0h1m13 0h1m10 0h1m4 0h1M3 23.5h1m1 0h2m11 0h1m4 0h1m7 0h2m5 0h1m1 0h1m2 0h1m45 0h1m33 0h1M3 22.5h1m12 0h1m9 0h1m75 0h2m2 0h1m7 0h2m1 0h1M2 21.5h2m4 0h1m13 0h1m2 0h1m7 0h1m5 0h1m2 0h1m43 0h1m1 0h1m10 0h1m1 0h1m4 0h1m10 0h1M23 20.5h1m3 0h1m5 0h1m2 0h1m81 0h1M0 19.5h1m1 0h1m1 0h1m3 0h1m22 0h1m5 0h1m2 0h1m41 0h1m1 0h1m12 0h1m9 0h1m8 0h1m1 0h1m1 0h1m2 0h1M2 18.5h1m11 0h1m4 0h1m3 0h1m2 0h1m7 0h1m6 0h1m39 0h1m2 0h1m12 0h1m24 0h1M0 17.5h1m1 0h1m3 0h1m6 0h1m2 0h2m4 0h2m6 0h1m5 0h1m4 0h1m47 0h1m12 0h1m11 0h1M5 16.5h2m1 0h1m25 0h1m7 0h1m46 0h1m7 0h1m1 0h1m8 0h1m6 0h1m2 0h1m2 0h1M5 15.5h1m2 0h2m4 0h1m1 0h1m2 0h1m14 0h1m6 0h1m45 0h1m11 0h1m4 0h1m8 0h1m4 0h1m1 0h1M5 14.5h1m9 0h1m70 0h1m1 0h2m9 0h1m8 0h1M27 13.5h1m11 0h1m4 0h1m63 0h1M15 12.5h2m27 0h1m40 0h1m27 0h1m1 0h1M12 11.5h1m76 0h1M83 10.5h1m3 0h1M74 9.5h1m22 0h1m14 0h1M11 8.5h1M71 7.5h1m18 0h1M44 6.5h1m47 0h1M58 5.5h1m32 0h1"/><path stroke="#2c738e" d="M101 128.5h1M22 127.5h1m11 0h1m70 0h1m2 0h1m6 0h1m1 0h1M0 126.5h1m1 0h1m5 0h1m3 0h1m1 0h1m3 0h2m7 0h2m4 0h1m80 0h1m6 0h1M21 125.5h1M21 124.5h1M32 121.5h1m2 0h1m73 0h1M92 120.5h1M27 119.5h1m87 0h1M22 118.5h1M33 111.5h1M16 110.5h1m16 0h1M5 108.5h1M7 107.5h1M88 106.5h1m18 0h1M27 105.5h1M23 104.5h1M4 102.5h1m19 0h1m8 0h1M31 101.5h1M21 100.5h1m7 0h1m1 0h1m6 0h1m80 0h1M5 99.5h1m18 0h1m69 0h1m13 0h1m2 0h1m6 0h1m3 0h1M5 98.5h2m22 0h1m5 0h1m69 0h1m5 0h1m1 0h1m2 0h1m2 0h1M5 97.5h1m22 0h1m6 0h1m54 0h1m4 0h1m19 0h1M6 96.5h1m9 0h1m9 0h1m1 0h1m54 0h1m3 0h1M2 95.5h1m1 0h1m14 0h2m9 0h1m3 0h1m4 0h1m1 0h1m45 0h1m23 0h1m7 0h1M14 94.5h1m7 0h1m7 0h1m72 0h1m4 0h1m9 0h1M8 93.5h1m12 0h1m59 0h1m2 0h1m3 0h1m22 0h1m6 0h1M3 92.5h1m1 0h1m21 0h1m2 0h1m53 0h1m13 0h1m6 0h1m2 0h1m10 0h1m2 0h1M38 91.5h1m43 0h1m2 0h2m1 0h1m20 0h1m13 0h1M1 90.5h1m1 0h1m21 0h1m15 0h1m48 0h1m5 0h1m2 0h1m9 0h1m8 0h1m2 0h1m1 0h1M1 89.5h1m21 0h1m1 0h1m1 0h1m53 0h1m13 0h1m22 0h1M1 88.5h1m1 0h1m15 0h2m4 0h1m60 0h1m1 0h1m5 0h1m2 0h1m16 0h2m2 0h1m3 0h1M22 87.5h2m60 0h1m32 0h1m4 0h1M0 86.5h1m29 0h1m2 0h1m3 0h2M5 85.5h1m8 0h1m3 0h1m18 0h1m41 0h1m2 0h1m4 0h1M9 84.5h1m8 0h1m3 0h1m2 0h1m12 0h1M2 83.5h1m30 0h1m48 0h2m1 0h1m14 0h1m5 0h1m16 0h1M5 82.5h1m7 0h1m25 0h1m74 0h1m3 0h1M8 81.5h1m13 0h1m1 0h1m14 0h1m47 0h2m10 0h1M4 80.5h1m3 0h1m9 0h1m14 0h1m3 0h1m3 0h1m61 0h1m2 0h1m9 0h1m1 0h1M1 79.5h2m10 0h1m16 0h1m7 0h1m45 0h1m15 0h1m14 0h1m4 0h1m1 0h1M2 78.5h3m24 0h2m51 0h1m1 0h1m34 0h1m3 0h1M1 77.5h2m19 0h1m1 0h1m4 0h1m56 0h1m19 0h1m9 0h1M2 76.5h1m1 0h1m12 0h1m21 0h1m43 0h1m38 0h2M29 75.5h1m9 0h1m43 0h1m34 0h1m2 0h2M18 74.5h2m7 0h1m7 0h1m3 0h1m1 0h1m46 0h1m9 0h1m2 0h1m1 0h1M0 73.5h1m17 0h1m4 0h1m3 0h1m76 0h2m8 0h1M17 72.5h1m8 0h2m54 0h1m17 0h1m18 0h1M1 71.5h1m4 0h1m14 0h1m12 0h1m47 0h1m3 0h1M0 70.5h1m12 0h1m4 0h1m5 0h1m16 0h1m38 0h1m7 0h2m25 0h1M9 69.5h1m7 0h2m9 0h1m6 0h2m4 0h1m62 0h1M0 68.5h1m6 0h1m11 0h1m6 0h1m1 0h1m2 0h1m4 0h1m44 0h1m6 0h1m18 0h1m11 0h1M5 67.5h1m15 0h1m2 0h1m10 0h1m4 0h1m42 0h1m2 0h1m16 0h2m1 0h1m16 0h1M6 66.5h1m13 0h1m19 0h1m66 0h1m9 0h1m2 0h1M8 65.5h1m4 0h1m4 0h1m2 0h1m12 0h1m6 0h1m46 0h1m15 0h1M17 64.5h1m1 0h1m3 0h2m5 0h1m3 0h1m1 0h1m3 0h1m47 0h2m16 0h1m9 0h1M14 63.5h1m5 0h1m8 0h1m2 0h1m3 0h1m3 0h1m1 0h1m72 0h1M14 62.5h1m4 0h1m1 0h2m2 0h2m3 0h1m1 0h2m8 0h1m63 0h1m16 0h1M0 61.5h1m23 0h1m9 0h1m2 0h1m1 0h1m1 0h1m80 0h1M0 60.5h1m7 0h1m5 0h1m5 0h1m17 0h1m76 0h1M6 59.5h1m13 0h1m7 0h1m9 0h2m79 0h1m3 0h1M21 58.5h1m2 0h1m4 0h1m1 0h1m3 0h1m2 0h1M2 57.5h1m5 0h1m11 0h1m8 0h1m12 0h1m45 0h1m27 0h1m3 0h1M20 56.5h1m9 0h1m3 0h1m5 0h2m39 0h1m24 0h1M36 55.5h1m80 0h2m1 0h1M1 54.5h1m14 0h1m2 0h1m1 0h2m1 0h1m12 0h3m66 0h2M16 53.5h1m20 0h1m44 0h1m5 0h1m15 0h2m1 0h1m9 0h1M8 52.5h1m8 0h1m2 0h1m3 0h1m16 0h1m62 0h1m1 0h1m10 0h2M18 51.5h1m1 0h1m7 0h1m8 0h1m4 0h1m60 0h1m16 0h1M2 50.5h1m18 0h1m10 0h1m5 0h1m1 0h1m62 0h1m2 0h1m14 0h1M1 49.5h1m4 0h1m23 0h1m7 0h1m49 0h1m14 0h1m17 0h2M5 48.5h1m2 0h1m10 0h1m1 0h1m4 0h1m10 0h1m49 0h1m16 0h1M2 47.5h1m2 0h1m12 0h1m7 0h1m5 0h1m2 0h2m52 0h1m15 0h1m9 0h1M14 46.5h1m11 0h1m2 0h1m5 0h1m48 0h1m4 0h1m30 0h1M14 45.5h1m3 0h1m14 0h1m2 0h1m2 0h1m61 0h4m15 0h1m2 0h1M1 44.5h2m1 0h1m12 0h1m3 0h1m1 0h1m5 0h1m11 0h1m60 0h2m2 0h2m9 0h1m1 0h1M5 43.5h1m10 0h2m1 0h1m15 0h1m2 0h1m44 0h1m17 0h1m5 0h1m7 0h1M1 42.5h1m6 0h2m4 0h1m4 0h1m4 0h3m4 0h2m74 0h1m9 0h1m4 0h1M1 41.5h2m1 0h1m11 0h1m2 0h1m5 0h1m5 0h1m4 0h1m1 0h2m79 0h1M8 40.5h1m10 0h1m3 0h2m2 0h1m4 0h2m68 0h1M1 39.5h1m5 0h1m8 0h1m2 0h1m13 0h3m4 0h2m47 0h1M16 38.5h2m1 0h1m5 0h2m3 0h2m10 0h1m56 0h1m1 0h1m1 0h2m1 0h1M9 37.5h1m4 0h1m3 0h1m7 0h1m8 0h1m1 0h1m45 0h1m31 0h1m1 0h1m2 0h3M18 36.5h1m7 0h1m14 0h2m42 0h1m1 0h2m34 0h1M17 35.5h1m6 0h1m1 0h1m6 0h1m1 0h1m3 0h1m48 0h1m31 0h1M18 34.5h2m12 0h2m5 0h1m49 0h1m9 0h1m4 0h1m2 0h1M16 33.5h1m1 0h1m6 0h1m1 0h2m5 0h1m3 0h1m4 0h1m57 0h1m2 0h1m1 0h2m8 0h1M1 32.5h1m26 0h1m2 0h1m11 0h1m40 0h1m14 0h1m7 0h1m14 0h1M1 31.5h1m3 0h1m7 0h1m3 0h1m4 0h1m8 0h1m3 0h1m6 0h1m56 0h1m16 0h1M3 30.5h1m1 0h2m7 0h1m12 0h1m1 0h1m3 0h1m53 0h1m11 0h1m4 0h1M6 29.5h1m1 0h2m17 0h1m1 0h1m57 0h1m1 0h1m9 0h1m3 0h1m3 0h1M1 28.5h1m1 0h1m4 0h1m8 0h1m6 0h2m1 0h1m4 0h1m3 0h1m2 0h1m41 0h1m5 0h3m13 0h1m11 0h1m3 0h1M32 27.5h1m2 0h2m47 0h1m2 0h2m13 0h1M16 26.5h1m3 0h1m4 0h1m18 0h1m37 0h1m1 0h1m3 0h1m12 0h2m3 0h1M1 25.5h1m4 0h1m8 0h2m10 0h1m8 0h1m1 0h1m48 0h1m26 0h1M1 24.5h2m2 0h2m10 0h2m11 0h1m3 0h1m50 0h2m15 0h1m12 0h1m5 0h1m1 0h1M2 23.5h1m18 0h1m8 0h1m67 0h1m2 0h1M0 22.5h1m21 0h1m4 0h2m7 0h1m4 0h1m40 0h3m4 0h1m11 0h1m2 0h1m13 0h1m3 0h1M9 21.5h1m4 0h1m11 0h1m8 0h1m5 0h1m47 0h1m17 0h1m6 0h1m7 0h1M3 20.5h1m4 0h2m4 0h3m5 0h1m63 0h1m2 0h1m7 0h1m1 0h1m5 0h1m9 0h1m1 0h1m4 0h1M7 19.5h1m8 0h1m2 0h1m3 0h1m9 0h1m10 0h1m72 0h1m4 0h1M0 18.5h1m8 0h1m7 0h2m2 0h1m6 0h1m4 0h1m3 0h2m5 0h1m40 0h1M7 17.5h1m25 0h1m8 0h1m1 0h1m38 0h1M4 16.5h1m2 0h1m7 0h1m3 0h1m2 0h1m58 0h1m32 0h1m5 0h1M22 15.5h1m13 0h1m46 0h3m11 0h1m8 0h1m1 0h1M39 14.5h1m4 0h1m42 0h1m9 0h1m15 0h1M75 13.5h2M86 12.5h2m20 0h1M12 10.5h1m68 0h1m4 0h1M83 9.5h1m3 0h1M84 8.5h1m26 0h1M44 7.5h1m21 0h1m3 0h1M67 6.5h1M44 5.5h1m4 0h1m3 0h1M67 4.5h1"/><path stroke="#2a778e" d="M104 128.5h1M5 127.5h2m3 0h1m15 0h1m13 0h1m69 0h3M1 126.5h1m1 0h2m8 0h1m3 0h1m3 0h1m17 0h1m54 0h2m26 0h1M4 125.5h1m24 0h1m86 0h1M14 124.5h1m70 0h1m6 0h1m22 0h1M3 122.5h1m29 0h1m60 0h1m10 0h1m3 0h1M18 121.5h1m17 0h1m57 0h1m3 0h1M102 120.5h1M33 119.5h1M82 118.5h1M122 117.5h1M106 115.5h1M87 113.5h1M37 112.5h1M27 111.5h1m55 0h1M96 110.5h1M98 108.5h1M31 107.5h1M8 106.5h1M35 105.5h1m86 0h1M39 104.5h2m75 0h1m1 0h1M4 103.5h1m29 0h1m51 0h1m6 0h1m21 0h1M2 102.5h1m27 0h1m75 0h1m1 0h1m1 0h1m1 0h1M4 101.5h1m11 0h1m4 0h1m2 0h1m7 0h1m64 0h1m24 0h1M3 100.5h2m17 0h1m74 0h1m8 0h1m10 0h1m2 0h1M7 99.5h1m21 0h1m10 0h1m65 0h1m10 0h1m2 0h1M17 98.5h1m16 0h1m1 0h2m2 0h1m40 0h1m12 0h1m3 0h1m8 0h2m13 0h1M0 97.5h1m2 0h1m2 0h1m13 0h1m4 0h1m3 0h1m3 0h1m47 0h1m11 0h1m12 0h1m6 0h1m5 0h1m2 0h1M14 96.5h1m3 0h1m4 0h1m1 0h1m12 0h1m43 0h1m3 0h1m12 0h1m8 0h2m11 0h1M1 95.5h1m30 0h1m4 0h1m44 0h1m3 0h1m7 0h1m10 0h1M4 94.5h1m1 0h1m20 0h1m10 0h1m75 0h1m6 0h1M3 93.5h1m10 0h1m4 0h2m1 0h1m7 0h1m52 0h1m3 0h1m24 0h1m1 0h1M2 92.5h1m3 0h1m8 0h1m5 0h3m7 0h1m60 0h1m4 0h1m9 0h1m10 0h1M8 91.5h1m15 0h1m5 0h1m2 0h1m1 0h1m1 0h1m4 0h1m55 0h1m3 0h1m5 0h1m3 0h1m3 0h1M4 90.5h3m1 0h1m7 0h1m3 0h1m2 0h1m8 0h2m4 0h2m41 0h1m3 0h1m2 0h1m13 0h1m2 0h1M18 89.5h1m9 0h1m4 0h1m3 0h2m45 0h1m4 0h1m15 0h3m3 0h1m1 0h1m3 0h1m2 0h1m1 0h1M7 88.5h2m13 0h1m4 0h1m8 0h1m1 0h1m67 0h1m16 0h1M3 87.5h1m3 0h1m4 0h1m1 0h1m10 0h1m2 0h1m3 0h1m3 0h2m47 0h2m10 0h1m7 0h2M6 86.5h2m20 0h1m7 0h1m45 0h1m4 0h1m10 0h1m1 0h1m1 0h1m11 0h2m3 0h1m1 0h1M4 85.5h1m15 0h1m1 0h1m6 0h1m1 0h1m2 0h1m3 0h2m49 0h1m6 0h1m2 0h1m4 0h1m2 0h1m7 0h1M6 84.5h1m12 0h1m7 0h1m2 0h1m10 0h1m40 0h2m4 0h1m12 0h1m1 0h1m10 0h1m5 0h2M4 83.5h1m2 0h1m1 0h1m4 0h1m7 0h1m1 0h1m3 0h2m4 0h1m3 0h1m1 0h1m73 0h1m2 0h1m2 0h1M0 82.5h2m1 0h1m14 0h2m61 0h1M1 81.5h1m15 0h1m1 0h1m62 0h1m2 0h1m12 0h1m2 0h1m4 0h1m10 0h1m5 0h1M1 80.5h2m13 0h1m5 0h2m4 0h1m1 0h1m4 0h1m3 0h1m41 0h1m5 0h1M29 79.5h1m3 0h1m2 0h1m3 0h1m40 0h2m31 0h1m2 0h1M6 78.5h1m1 0h2m9 0h1m3 0h1m2 0h1m6 0h1m2 0h1m65 0h2m2 0h1m7 0h1m7 0h1M17 77.5h1m2 0h1m7 0h1m5 0h1m1 0h1m46 0h1m30 0h1m8 0h1M16 76.5h1m7 0h1m75 0h1m3 0h1m13 0h1M2 75.5h1m4 0h1m5 0h1m5 0h1m4 0h2m59 0h2m1 0h2m10 0h2m1 0h1m11 0h1m7 0h1M0 74.5h1m2 0h1m3 0h1m5 0h1m3 0h1m3 0h1m2 0h1m4 0h1m8 0h1m45 0h1m17 0h1m4 0h1M3 73.5h1m9 0h2m10 0h1m9 0h1m52 0h1m14 0h1m2 0h1m14 0h1M1 72.5h1m29 0h1m2 0h1m2 0h1m2 0h1m40 0h1m2 0h1m1 0h1m12 0h1m5 0h2M3 71.5h2m12 0h1m2 0h1m2 0h1m2 0h1m2 0h1m2 0h1m51 0h1m15 0h1m4 0h1m1 0h1M1 70.5h2m17 0h1m5 0h1m5 0h1m2 0h1m47 0h1m21 0h1m10 0h1M1 69.5h2m13 0h1m10 0h1m1 0h1m2 0h1m1 0h1m4 0h1m47 0h1m17 0h1m15 0h1M1 68.5h1m4 0h1m7 0h1m14 0h1m2 0h3m66 0h1m19 0h1m1 0h1M6 67.5h1m10 0h1m9 0h1m8 0h1m70 0h1m8 0h1m3 0h1M0 66.5h2m6 0h1m4 0h1m5 0h1m4 0h1m7 0h1m4 0h1m3 0h2m44 0h2m16 0h1m9 0h2m1 0h2m1 0h1M0 65.5h1m22 0h1m3 0h1m8 0h1m1 0h1m42 0h1m4 0h1m20 0h1m12 0h1M2 64.5h1m17 0h1m14 0h1m69 0h1m1 0h1m12 0h1m1 0h1M24 63.5h3m14 0h1m41 0h1m32 0h1M2 62.5h1m6 0h1m8 0h1m5 0h1m2 0h1m1 0h1m5 0h1m3 0h1m1 0h1m46 0h1m16 0h1M2 61.5h1m18 0h3m6 0h1m4 0h1m43 0h1m38 0h1M2 60.5h1m3 0h2m7 0h1m3 0h1m4 0h1m3 0h2m2 0h1m4 0h1m4 0h1M14 59.5h1m9 0h2m8 0h1m2 0h1m2 0h2m63 0h1m8 0h1M1 58.5h1m1 0h2m1 0h1m13 0h1m18 0h1m2 0h1m40 0h1m35 0h1M3 57.5h1m1 0h1m3 0h1m9 0h1m4 0h1m5 0h1m2 0h1m1 0h1m3 0h1m81 0h1M2 56.5h1m3 0h1m10 0h1m7 0h1m6 0h1m52 0h1m1 0h2m28 0h1m2 0h1m1 0h1M24 55.5h1m2 0h1m4 0h4m6 0h1m45 0h1m18 0h1m7 0h1M3 54.5h1m3 0h1m1 0h1m8 0h1m1 0h1m13 0h2m5 0h2m39 0h1m2 0h1m19 0h1m9 0h1m1 0h1M4 53.5h1m17 0h2m9 0h1m7 0h2m73 0h1m2 0h1m3 0h1M4 52.5h1m4 0h1m3 0h1m93 0h1m11 0h1M0 51.5h1m12 0h1m7 0h1m2 0h1m5 0h1m3 0h1m1 0h1m3 0h1m38 0h1m2 0h1m21 0h1m16 0h1M0 50.5h1m2 0h1m2 0h2m19 0h1m1 0h2m2 0h1m7 0h2m45 0h1m15 0h2m10 0h2m5 0h1M4 49.5h1m11 0h1m8 0h2m6 0h1m3 0h1m1 0h1m67 0h1m8 0h1M15 48.5h3m5 0h1m9 0h1m2 0h1m64 0h2m19 0h1M7 47.5h1m8 0h1m2 0h1m3 0h1m5 0h1m11 0h1m46 0h1m13 0h1m1 0h1m17 0h1M0 46.5h1m8 0h1m3 0h1m3 0h2m19 0h1m1 0h1m47 0h1m17 0h1M0 45.5h1m3 0h1m1 0h1m9 0h2m4 0h1m11 0h1m3 0h1m3 0h1m72 0h1M5 44.5h1m1 0h1m6 0h1m7 0h1m61 0h1m4 0h1m25 0h1M23 43.5h2m4 0h1m1 0h1m2 0h1m2 0h1m51 0h1m14 0h1m13 0h1M7 42.5h1m12 0h1m1 0h1m6 0h1m8 0h1m1 0h2m42 0h1m3 0h1m15 0h1m18 0h1M5 41.5h4m5 0h1m14 0h1m10 0h1m39 0h1m6 0h1m1 0h1m9 0h1m1 0h1m1 0h1m11 0h1m1 0h1m5 0h1M17 40.5h1m11 0h2m11 0h1m58 0h1m16 0h1M4 39.5h2m11 0h1m5 0h1m7 0h2m50 0h1m15 0h1m4 0h1m12 0h1M8 38.5h1m12 0h1m10 0h1m4 0h1m3 0h1m73 0h1m4 0h1M13 37.5h1m18 0h1m5 0h1m2 0h2m45 0h1m10 0h1m5 0h1m17 0h1M4 36.5h1m2 0h1m13 0h1m2 0h1m4 0h1m2 0h1m4 0h1m2 0h1m42 0h1m5 0h1m9 0h1m1 0h1m14 0h2M9 35.5h1m4 0h1m13 0h1m3 0h1m49 0h1m1 0h1m2 0h1m11 0h1m3 0h1m2 0h2m13 0h1M1 34.5h1m26 0h1m6 0h1m2 0h1m43 0h1m20 0h1m17 0h1M0 33.5h2m1 0h1m2 0h1m22 0h1m1 0h2m49 0h1m5 0h1m32 0h1M3 32.5h1m5 0h1m12 0h1m3 0h1m12 0h1m47 0h1m15 0h2m10 0h2M3 31.5h1m25 0h1m3 0h1m7 0h1m40 0h1m1 0h1m18 0h1m3 0h1m13 0h1M16 30.5h1m24 0h2m63 0h1m14 0h1M83 29.5h1m22 0h1M14 28.5h1m5 0h1m2 0h1m5 0h1m11 0h1m1 0h1m36 0h1m3 0h1m32 0h1m2 0h2M7 27.5h1m1 0h1m10 0h1m1 0h1m1 0h2m3 0h1m3 0h1m4 0h1m3 0h2m37 0h1m1 0h1m1 0h2m2 0h1m8 0h1m21 0h1M9 26.5h1m3 0h1m1 0h1m14 0h1m7 0h1m1 0h1m1 0h2m41 0h1m1 0h1m1 0h1m33 0h1M9 25.5h1m72 0h2m23 0h1m15 0h1M9 24.5h1m4 0h1m1 0h1m10 0h1m8 0h1m1 0h1m42 0h1m16 0h1m8 0h1M0 23.5h1m3 0h1m9 0h1m1 0h1m5 0h1m13 0h1m42 0h1m6 0h2M14 22.5h1m70 0h1M13 21.5h1m68 0h2m1 0h1m1 0h1m9 0h1m6 0h1m10 0h1M83 20.5h1m23 0h1M14 19.5h1m70 0h1m3 0h1m15 0h1M7 18.5h1m5 0h1m68 0h1M4 17.5h1m23 0h1m56 0h3m9 0h1M36 16.5h1m42 0h1m2 0h2m22 0h1M80 15.5h2m4 0h1M82 14.5h1m2 0h1M81 13.5h1m31 0h1M81 12.5h1m1 0h1M78 11.5h1m3 0h2m1 0h1m22 0h1M44 10.5h1m23 0h1m5 0h1m9 0h1M44 9.5h1m34 0h1M43 8.5h1m27 0h1M45 7.5h1m17 0h2M47 6.5h1m12 0h1m8 0h3m19 0h1M54 5.5h1m2 0h1M110 4.5h1"/><path stroke="#297b8e" d="M99 128.5h1M30 127.5h1m73 0h1M7 126.5h1m17 0h1m3 0h1m8 0h1m51 0h1m17 0h2m3 0h1m3 0h1m2 0h1M2 125.5h1m11 0h1m15 0h1m2 0h1m4 0h1m69 0h1m6 0h1M99 124.5h1M1 123.5h1m3 0h1m31 0h2m69 0h2m10 0h1M36 122.5h1M7 121.5h1m19 0h1M13 120.5h1m16 0h1m54 0h1M2 119.5h1m1 0h1m2 0h1M121 118.5h1M21 117.5h1m8 0h1m67 0h1m8 0h1M3 116.5h1m96 0h1M28 115.5h1m71 0h1M0 113.5h1m15 0h1m7 0h1m6 0h1m56 0h1m30 0h1m1 0h1M0 112.5h1m12 0h1m2 0h1m11 0h2m73 0h1M3 111.5h2m10 0h1m25 0h1m57 0h1m4 0h1M2 110.5h1m31 0h1m48 0h1M116 109.5h1m4 0h1M112 108.5h1m10 0h1M21 107.5h1m1 0h1m83 0h1m5 0h1M34 106.5h2m1 0h1m73 0h1M37 105.5h1m44 0h1M15 104.5h1m8 0h2m2 0h1m69 0h1m11 0h1M8 103.5h1m7 0h1m10 0h1m4 0h2m3 0h1m52 0h1m5 0h1M5 102.5h3m20 0h1m6 0h1m1 0h4m56 0h1M2 101.5h2m4 0h1m16 0h1m7 0h1m7 0h1m74 0h1M0 100.5h1m6 0h2m7 0h1m6 0h1m1 0h1m2 0h1m4 0h1m1 0h1m5 0h1m51 0h1m1 0h1m2 0h1m14 0h1m8 0h1M2 99.5h2m15 0h1m13 0h1m4 0h1m46 0h1m6 0h1m4 0h1m1 0h1m7 0h1M18 98.5h1m1 0h1m4 0h1m5 0h1m7 0h1m46 0h1m2 0h1m19 0h1m4 0h1M9 97.5h1m7 0h1m14 0h1m1 0h1m51 0h2m17 0h1m2 0h1m2 0h2m3 0h1m1 0h1m1 0h1M2 96.5h2m15 0h1m9 0h1m4 0h1m1 0h2m1 0h1m41 0h1m8 0h1m14 0h1m5 0h1m3 0h1m6 0h1M6 95.5h1m9 0h1m1 0h1m80 0h1m7 0h2m1 0h1m3 0h1m1 0h1M2 94.5h1m14 0h1m2 0h1m2 0h1m2 0h1m5 0h1m6 0h1m1 0h1m40 0h2m4 0h1m5 0h1m10 0h1m1 0h1m7 0h2M0 93.5h3m2 0h2m11 0h1m4 0h2m6 0h2m6 0h1m46 0h1m8 0h1m1 0h1m10 0h1m7 0h1m5 0h1M7 92.5h1m6 0h1m14 0h1m3 0h1m4 0h1m44 0h1m15 0h1m2 0h1m6 0h1m2 0h1m1 0h1M3 91.5h2m11 0h1m3 0h4m2 0h2m11 0h1m47 0h1m11 0h1m1 0h1m8 0h1m2 0h1m4 0h1M2 90.5h1m10 0h1m8 0h1m3 0h1m1 0h1m2 0h1m50 0h2m5 0h1m3 0h2m11 0h1m7 0h1m4 0h2m1 0h1M19 89.5h2m8 0h1m2 0h1m7 0h1m41 0h2m17 0h1m1 0h1m11 0h1m5 0h1M0 88.5h1m4 0h1m7 0h2m1 0h1m4 0h1m4 0h1m8 0h1m5 0h1m41 0h1m1 0h1m9 0h2m4 0h1m1 0h1m13 0h1M0 87.5h1m1 0h1m1 0h1m1 0h1m1 0h1m10 0h1m6 0h1m2 0h1m8 0h1m69 0h2m5 0h2m2 0h2m2 0h1M1 86.5h4m14 0h2m2 0h1m7 0h2m52 0h1m2 0h2m18 0h1m9 0h1M0 85.5h1m2 0h1m2 0h1m1 0h1m10 0h1m5 0h2m8 0h1m65 0h1m11 0h1m3 0h1m5 0h1M2 84.5h2m4 0h1m4 0h3m1 0h1m2 0h2m2 0h1m1 0h1m8 0h2m5 0h1m41 0h2m1 0h1m11 0h1m16 0h1m1 0h1m4 0h1M1 83.5h1m11 0h1m4 0h1m1 0h2m1 0h1m8 0h1m3 0h1m2 0h1m41 0h1m2 0h1m4 0h1m23 0h1m4 0h1M8 82.5h1m5 0h1m8 0h2m2 0h1m12 0h2m40 0h1m2 0h1m2 0h1m11 0h1m19 0h1m1 0h1M13 81.5h1m2 0h1m8 0h1m63 0h1m6 0h1m8 0h1m1 0h1m8 0h1m1 0h2m2 0h1M0 80.5h1m6 0h1m5 0h1m3 0h1m16 0h1m7 0h1m39 0h1m1 0h1m1 0h1m1 0h2m12 0h1m1 0h1M16 79.5h2m1 0h1m15 0h1m44 0h1m2 0h1m4 0h2m14 0h1m11 0h1m2 0h1m3 0h1M5 78.5h1m11 0h1m2 0h2m3 0h1m2 0h1m9 0h1m2 0h1m39 0h1m4 0h1m10 0h1M5 77.5h2m2 0h1m3 0h1m1 0h1m3 0h1m3 0h1m9 0h1m1 0h1m5 0h1m39 0h1m5 0h1m1 0h1m7 0h1m1 0h4m2 0h1m12 0h1m1 0h2M7 76.5h1m10 0h3m1 0h1m10 0h2m1 0h1m5 0h1m44 0h1m27 0h1M4 75.5h1m3 0h1m11 0h1m2 0h1m16 0h2m39 0h1m2 0h1m12 0h1m7 0h1m13 0h2M5 74.5h1m14 0h1m1 0h1m9 0h1m1 0h1m2 0h1m44 0h1m22 0h1m9 0h2m3 0h1M1 73.5h2m2 0h1m14 0h3m14 0h1m2 0h2m42 0h1m16 0h1m17 0h1m2 0h1M14 72.5h1m4 0h1m1 0h1m1 0h1m63 0h1m10 0h1m2 0h1m2 0h1m16 0h1M9 71.5h1m9 0h1m10 0h1m10 0h1m39 0h1m7 0h1m12 0h3m13 0h1M19 70.5h1m8 0h1m1 0h1m5 0h1m45 0h1m3 0h2m16 0h1m1 0h1m11 0h1m4 0h1M5 69.5h3m6 0h1m8 0h1m13 0h1m46 0h2m2 0h2m10 0h1m6 0h1m6 0h1m7 0h1M39 68.5h1m45 0h2m17 0h1m13 0h1M4 67.5h1m9 0h1m4 0h1m10 0h1m2 0h1m5 0h1m1 0h1m43 0h1m1 0h1m1 0h1m31 0h2M14 66.5h1m1 0h1m17 0h1m1 0h1m1 0h1m44 0h1m5 0h1m32 0h1M3 65.5h1m2 0h1m2 0h1m4 0h1m7 0h1m1 0h1m7 0h1m9 0h1m44 0h1m15 0h1m15 0h1m3 0h1M1 64.5h1m11 0h1m13 0h1m5 0h1m3 0h1m46 0h2m28 0h1m4 0h1m3 0h1M1 63.5h2m6 0h1m5 0h2m5 0h1m4 0h1m5 0h2m4 0h1m40 0h1m1 0h1m22 0h3m10 0h2M5 62.5h1m17 0h1m4 0h1m5 0h1m3 0h1m43 0h1m1 0h2m29 0h1M13 61.5h1m6 0h1m11 0h1m7 0h1m1 0h1m39 0h1m2 0h1m1 0h3m15 0h1m9 0h1m4 0h1m2 0h1M18 60.5h1m11 0h1m2 0h1m7 0h1m40 0h1m3 0h1m1 0h1m16 0h1m1 0h1m9 0h1m2 0h3M7 59.5h1m8 0h1m2 0h1m2 0h1m19 0h1m44 0h2m18 0h1m8 0h1m5 0h1M9 58.5h1m6 0h1m5 0h1m10 0h1m6 0h1m74 0h1m5 0h1M6 57.5h1m9 0h1m23 0h1m43 0h2m36 0h1M1 56.5h1m1 0h2m8 0h1m2 0h1m7 0h1m1 0h2m1 0h1m5 0h1m1 0h1m42 0h1m1 0h2m5 0h1M3 55.5h1m5 0h1m3 0h1m3 0h2m18 0h1m47 0h1m1 0h1m28 0h1M6 54.5h1m1 0h1m3 0h1m1 0h1m69 0h1m1 0h2m1 0h1m14 0h1M5 53.5h1m1 0h1m1 0h1m3 0h2m3 0h1m11 0h1m4 0h1m3 0h1m41 0h1m33 0h1M3 52.5h1m1 0h2m7 0h1m20 0h1m1 0h1m1 0h1m2 0h1m42 0h3m15 0h1m12 0h1m6 0h1M4 51.5h1m2 0h3m15 0h1m63 0h1M4 50.5h1m8 0h1m29 0h1m42 0h1m2 0h1M9 49.5h1m9 0h1m2 0h1m5 0h2m1 0h1m8 0h1m1 0h1m38 0h1m5 0h1m18 0h1m13 0h1M1 48.5h1m7 0h1m14 0h1m3 0h1m1 0h1m8 0h2m43 0h1m18 0h1m2 0h2m8 0h2M17 47.5h1m22 0h1m1 0h1m44 0h1m15 0h1m3 0h1M7 46.5h1m8 0h1m4 0h1m5 0h1m4 0h2m47 0h1m1 0h1m31 0h1m1 0h1M27 45.5h1m3 0h2m8 0h1m43 0h1m20 0h1m12 0h1M6 44.5h1m6 0h1m12 0h1m4 0h1m2 0h1m5 0h1m41 0h1m4 0h1m17 0h1m12 0h1m1 0h1m2 0h1M13 43.5h3m25 0h1m43 0h1m1 0h1m17 0h1m11 0h1m4 0h2M4 42.5h1m18 0h1m11 0h1m6 0h1m37 0h1m5 0h1m16 0h1M17 41.5h1m2 0h1m3 0h1M14 40.5h1m23 0h1m47 0h1M14 39.5h1m23 0h1m62 0h1M9 38.5h1m4 0h1m5 0h1m17 0h1m43 0h1m2 0h1m21 0h1m8 0h2M40 37.5h1m41 0h1M9 36.5h1m74 0h1m21 0h2M7 35.5h1m5 0h1m71 0h1M4 34.5h1m4 0h1m6 0h2m97 0h1M83 33.5h2m1 0h1M4 32.5h1m9 0h1m91 0h1m14 0h1M14 31.5h1m4 0h1m5 0h2m12 0h1m43 0h1m2 0h2m13 0h1m4 0h1M13 30.5h1m71 0h1M13 29.5h1m1 0h1m7 0h1m17 0h2m42 0h1m31 0h1m3 0h1M13 28.5h1m8 0h1m7 0h1m13 0h1m34 0h1m2 0h1M4 27.5h1m10 0h1m11 0h1m2 0h1m9 0h1M27 26.5h1m51 0h1M0 25.5h1m3 0h1m39 0h1m35 0h1m3 0h1m4 0h1m11 0h1M0 24.5h1m3 0h1m78 0h2M27 23.5h1m6 0h1m9 0h1m38 0h1M9 22.5h1m71 0h1m4 0h2M85 20.5h1M9 19.5h1m3 0h1m72 0h1M15 18.5h1m70 0h2M15 17.5h1m63 0h1m33 0h1M9 16.5h1m34 0h1m39 0h1m1 0h2m25 0h1M44 15.5h1M81 14.5h1M12 13.5h1m66 0h1m3 0h2m1 0h2M12 12.5h1m65 0h1m3 0h1m1 0h1M69 11.5h1m4 0h1m4 0h1m4 0h1M72 10.5h1m7 0h1M81 9.5h1m3 0h1M10 8.5h1m33 0h2m3 0h1m30 0h1M46 7.5h1m1 0h1m13 0h1m33 0h1M61 6.5h1M47 5.5h2m3 0h1m17 0h1"/><path stroke="#277f8e" d="M42 128.5h1m46 0h1m13 0h1M89 127.5h1M11 126.5h1m3 0h1m4 0h1m1 0h1m1 0h1m7 0h1m1 0h2m4 0h1m50 0h3m4 0h1m1 0h1m6 0h1m7 0h1m2 0h2m3 0h1M0 125.5h2m1 0h1m1 0h1m13 0h1m8 0h1m62 0h2m4 0h2m22 0h1M1 124.5h1m2 0h2m18 0h2m1 0h1m4 0h1m60 0h1m14 0h1m13 0h1M18 123.5h1m4 0h1m7 0h1m7 0h1m49 0h1m25 0h1M19 122.5h2m11 0h1m52 0h1m15 0h1m13 0h1M84 121.5h1m20 0h1m1 0h1m6 0h1M15 120.5h1m8 0h1m2 0h1m3 0h1m4 0h1m51 0h1m25 0h1M3 119.5h1m9 0h2m85 0h1m17 0h1m4 0h1M16 118.5h1m3 0h1m3 0h1m15 0h2m44 0h1m1 0h1m12 0h1m16 0h1M41 117.5h1m40 0h1m36 0h1M18 116.5h1m6 0h1m4 0h1m4 0h1M14 115.5h1m15 0h4m85 0h1m3 0h1M18 114.5h1m4 0h1m2 0h1m77 0h1m14 0h1m3 0h1M37 113.5h1m43 0h1M4 112.5h1m16 0h1m3 0h1m14 0h1m47 0h1m9 0h1m5 0h2M7 111.5h1m24 0h1m3 0h1m44 0h1m6 0h1m29 0h1M4 110.5h1m1 0h1m15 0h1m77 0h1m3 0h1M2 109.5h1m12 0h1m6 0h1m14 0h1m1 0h1m46 0h1m1 0h1m33 0h1M1 108.5h1m29 0h1m1 0h1m7 0h2m44 0h1m12 0h1m16 0h1M1 107.5h2m3 0h1m1 0h1m16 0h1m95 0h1M1 106.5h1m11 0h1m17 0h1m1 0h1m79 0h1M32 105.5h1m78 0h1m1 0h1m5 0h1m3 0h1M3 104.5h1m10 0h1m7 0h1m4 0h1m62 0h1m6 0h1m19 0h1m4 0h1M2 103.5h2m3 0h1m6 0h1m3 0h1m21 0h2m55 0h1m5 0h1m2 0h1m3 0h1m1 0h1m1 0h1m4 0h1M1 102.5h1m11 0h1m2 0h1m10 0h1m4 0h1m56 0h1m4 0h1m1 0h1m3 0h1m2 0h1m14 0h1m2 0h1m1 0h1M7 101.5h1m4 0h1m5 0h2m10 0h1m3 0h2m2 0h1m1 0h1m52 0h1m1 0h2m9 0h1m3 0h1m10 0h1m1 0h1M17 100.5h1m1 0h1m4 0h1m1 0h1m3 0h1m3 0h1m47 0h1m7 0h1m1 0h1m1 0h1m7 0h1m4 0h4m4 0h1m2 0h1m2 0h1M0 99.5h1m7 0h1m3 0h1m3 0h1m3 0h1m4 0h1m8 0h2m3 0h1m55 0h2m1 0h1m10 0h1m2 0h3m4 0h1M1 98.5h1m5 0h2m7 0h1m2 0h1m1 0h1m5 0h2m3 0h2m56 0h2m26 0h1M2 97.5h1m5 0h1m5 0h3m2 0h1m4 0h1m5 0h1m5 0h2m1 0h1m43 0h3m17 0h1m3 0h1m13 0h1M1 96.5h1m2 0h1m2 0h1m13 0h1m18 0h3m50 0h1m1 0h1m1 0h1m5 0h2m7 0h1m7 0h1M3 95.5h1m3 0h1m5 0h1m8 0h1m4 0h2m4 0h1m2 0h1m44 0h1m3 0h1m3 0h1m7 0h1m2 0h1m5 0h1m2 0h1m3 0h1m1 0h1m2 0h1m1 0h1M3 94.5h1m1 0h1m1 0h1m11 0h1m8 0h1m2 0h1m4 0h2m4 0h1m38 0h1m2 0h1m1 0h1m6 0h1m2 0h2m2 0h1m3 0h1m4 0h1m3 0h1m6 0h1m1 0h1M4 93.5h1m20 0h1m3 0h1m6 0h2m51 0h1m2 0h1m1 0h1m5 0h1m2 0h1m1 0h1m3 0h1m5 0h1m3 0h1m3 0h1M0 92.5h1m3 0h1m13 0h2m4 0h1m1 0h1m8 0h2m5 0h1m38 0h1m5 0h1m2 0h1m3 0h2m4 0h1m15 0h1M6 91.5h1m11 0h1m6 0h1m6 0h1m7 0h2m38 0h1m12 0h1m2 0h1m9 0h1m7 0h2m1 0h1m1 0h1M0 90.5h1m13 0h1m15 0h1m4 0h1m6 0h1m41 0h1m12 0h1m3 0h1m1 0h1m3 0h2m1 0h1M2 89.5h1m4 0h1m9 0h1m6 0h1m10 0h2m2 0h1m45 0h1m1 0h1m2 0h1m1 0h1m1 0h1m4 0h1m16 0h1m2 0h1M2 88.5h1m1 0h1m7 0h1m18 0h1m47 0h1m2 0h1m1 0h1m4 0h1m9 0h1m5 0h1m4 0h1m2 0h1m5 0h1M1 87.5h1m3 0h1m7 0h1m16 0h1m3 0h2m52 0h1m7 0h1m5 0h1m1 0h1m5 0h1m3 0h1m3 0h1m2 0h1M5 86.5h1m11 0h1m7 0h1m1 0h1m1 0h1m4 0h2m47 0h1m19 0h1m5 0h1M28 85.5h1m1 0h1m1 0h1m8 0h1m43 0h1m16 0h1m2 0h1m2 0h1m9 0h1M23 84.5h1m7 0h2m1 0h1m4 0h2m40 0h1m13 0h1m9 0h4m8 0h1m1 0h1M3 83.5h1m1 0h1m11 0h1m17 0h1m1 0h1m3 0h2m44 0h1m8 0h1m8 0h1m15 0h2M2 82.5h1m1 0h1m11 0h1m5 0h1m2 0h2m4 0h1m1 0h4m1 0h1m3 0h1m43 0h2m1 0h1m8 0h1m6 0h1m7 0h1m1 0h2m4 0h1M5 81.5h1m14 0h1m12 0h1m2 0h2m4 0h1m38 0h1m1 0h1m13 0h1m5 0h1m11 0h1m5 0h1M5 80.5h1m3 0h1m4 0h2m3 0h2m3 0h1m1 0h1m2 0h1m8 0h1m41 0h1m2 0h1m15 0h3m5 0h1m6 0h1m5 0h1m2 0h1M0 79.5h1m7 0h1m11 0h1m2 0h2m3 0h1m69 0h1m2 0h2m3 0h1m11 0h1M1 78.5h1m11 0h2m7 0h1m9 0h1m7 0h1m42 0h1m3 0h1m1 0h1m10 0h1M4 77.5h1m9 0h1m1 0h1m9 0h1m11 0h1m46 0h1m12 0h1m8 0h1M3 76.5h1m8 0h2m13 0h1m9 0h1m46 0h1m3 0h1m16 0h1m13 0h1M3 75.5h1m5 0h1m16 0h2m51 0h2m18 0h1m6 0h1m9 0h1M9 74.5h1m6 0h1m23 0h1m48 0h1m24 0h1m3 0h1m3 0h2M4 73.5h1m3 0h2m7 0h1m16 0h1m3 0h1m3 0h1m37 0h1m2 0h1m2 0h1m11 0h1m16 0h1m2 0h1M3 72.5h2m7 0h2m8 0h1m6 0h2m10 0h1m37 0h2m4 0h1m2 0h1m18 0h1m6 0h2m4 0h1M7 71.5h1m5 0h1m17 0h1m4 0h1m43 0h1m4 0h1m2 0h1m10 0h1m15 0h1m4 0h4M7 70.5h1m6 0h1m1 0h1m8 0h1m1 0h1m12 0h1m40 0h1m2 0h2m14 0h1m20 0h1M4 69.5h1m26 0h1m50 0h2m2 0h1m15 0h1m15 0h1m4 0h1M9 68.5h1m6 0h2m7 0h1m1 0h1m9 0h1m45 0h1m3 0h1m1 0h1m15 0h2m13 0h1m1 0h1M3 67.5h1m12 0h1m20 0h1m64 0h1m2 0h1m12 0h1M5 66.5h1m19 0h1m9 0h1m3 0h1m46 0h1M12 65.5h1m2 0h1m9 0h1m2 0h1m6 0h1m3 0h1m43 0h3m3 0h1m25 0h1m6 0h1M9 64.5h1m5 0h1m9 0h1m13 0h1m42 0h1M37 63.5h1m46 0h1m3 0h2M16 62.5h1m62 0h1m6 0h2m19 0h1m10 0h1M5 61.5h1m6 0h1m2 0h2m1 0h2m18 0h1m41 0h1m2 0h1m23 0h1m9 0h1m1 0h1M1 60.5h1m11 0h1m2 0h1m66 0h2m2 0h1m31 0h1M1 59.5h1m7 0h1m2 0h2m15 0h1m3 0h1m44 0h2m2 0h1m6 0h1m31 0h1M7 58.5h1m11 0h1m62 0h1m2 0h3m1 0h1m15 0h1m1 0h1m8 0h1m5 0h1M1 57.5h1m10 0h4m9 0h1m54 0h2m4 0h2m27 0h1M7 56.5h1m23 0h1m46 0h2m4 0h1m22 0h1m7 0h1m3 0h1M4 55.5h1m9 0h1m28 0h1m35 0h1m2 0h2m2 0h1m2 0h1M4 54.5h1m10 0h1m1 0h1m8 0h1m52 0h1m1 0h1m1 0h1M3 53.5h1m8 0h1m4 0h1m6 0h1m54 0h1m3 0h1m19 0h1m2 0h1M15 52.5h1m2 0h1m14 0h1m9 0h1m35 0h1m1 0h1m1 0h1m5 0h1M14 51.5h1m20 0h1m47 0h1m39 0h1M8 50.5h1m10 0h1m2 0h1m1 0h2m5 0h1m4 0h1m45 0h3m2 0h1M8 49.5h1m3 0h3m20 0h2m4 0h1m1 0h1m35 0h2m2 0h1m5 0h1m15 0h1M29 48.5h1m5 0h1m5 0h1m40 0h1M9 47.5h1m2 0h2m23 0h1m5 0h1m36 0h1m1 0h1m3 0h1M37 46.5h1m47 0h1m1 0h1m13 0h1M9 45.5h1m11 0h1m4 0h1m54 0h2m3 0h2m1 0h1M9 44.5h1m5 0h1m69 0h1M6 43.5h1m2 0h1M6 42.5h1m6 0h1m68 0h2m1 0h1M12 41.5h1m29 0h1m36 0h1M9 40.5h1m74 0h1m4 0h1m9 0h1m5 0h1m9 0h1M84 39.5h1m1 0h1m18 0h1m9 0h2M12 38.5h2m26 0h1m40 0h1m1 0h1m2 0h2m17 0h1m2 0h1M21 37.5h1m63 0h3m19 0h1m8 0h1M13 36.5h1m1 0h1m63 0h1m2 0h1M42 35.5h1m37 0h1m2 0h1m5 0h1M12 34.5h2m1 0h1m65 0h1m2 0h1m1 0h2M4 33.5h1m14 0h1m65 0h1m1 0h1m27 0h1M12 32.5h1m12 0h1m53 0h3m1 0h1m2 0h1m14 0h1M12 31.5h1m67 0h1M9 30.5h1m5 0h1m67 0h1M84 29.5h1M86 28.5h1M12 27.5h2m66 0h1m1 0h1m31 0h1M4 26.5h1m73 0h1m2 0h1m1 0h1m30 0h1M13 25.5h1m64 0h1m6 0h1M13 24.5h1m68 0h1m4 0h1M9 23.5h1m70 0h1m3 0h1M13 22.5h1m30 0h1M15 21.5h1M13 20.5h1m30 0h1m34 0h1m4 0h1M80 19.5h2m1 0h1M80 17.5h2m2 0h1m23 0h1M78 16.5h1m6 0h1M79 15.5h1M12 14.5h1m61 0h2m8 0h1M78 13.5h1M77 12.5h1M72 11.5h1m13 0h1M70 10.5h2m7 0h1m2 0h1m2 0h1M47 9.5h1m4 0h1m27 0h1m30 0h1M52 8.5h1m6 0h1m9 0h1m26 0h1M47 7.5h1m1 0h1m18 0h1m40 0h1M62 6.5h1M50 5.5h2m3 0h1m11 0h2M69 4.5h1"/><path stroke="#26828e" d="M86 128.5h2m12 0h1M88 127.5h1m10 0h2M5 126.5h2m3 0h1m19 0h1m5 0h2m44 0h1m4 0h3m11 0h2m1 0h1m5 0h3M12 125.5h1m3 0h3m4 0h1m1 0h1m1 0h1m6 0h1m5 0h1m1 0h1m40 0h1m3 0h1m1 0h1m3 0h1m1 0h2m3 0h1m5 0h1m3 0h1m2 0h1m3 0h1m4 0h2M3 124.5h1m7 0h1m11 0h1m6 0h1m2 0h1m2 0h1m58 0h1m7 0h2m2 0h1m4 0h1m5 0h1m4 0h1M3 123.5h1m7 0h1m3 0h1m4 0h3m1 0h1m3 0h2m10 0h1m43 0h1m3 0h1m10 0h1m13 0h1m8 0h2M0 122.5h1m4 0h1m9 0h1m5 0h1m1 0h1m5 0h1m8 0h3m62 0h2m7 0h1M15 121.5h1m4 0h2m2 0h1m4 0h2m50 0h1m14 0h2m14 0h1m3 0h1m6 0h1M2 120.5h1m17 0h1m16 0h1m46 0h1m2 0h1m5 0h1m2 0h1m1 0h1m10 0h1M0 119.5h1m19 0h1m61 0h1m2 0h2m6 0h1m27 0h1M4 118.5h1m1 0h1m11 0h1m2 0h1m1 0h1m73 0h2m1 0h1m15 0h1M4 117.5h1m8 0h1m6 0h1m2 0h1m1 0h1m87 0h1M2 116.5h1m2 0h1m23 0h1m4 0h1m60 0h1m3 0h1m15 0h1M1 115.5h1m20 0h1m13 0h1m3 0h1m46 0h1m8 0h1m6 0h2m9 0h1M0 114.5h1m29 0h2m5 0h1m51 0h1m25 0h1m4 0h1M1 113.5h1m5 0h1m5 0h1m9 0h1m65 0h1m12 0h1m10 0h2m7 0h1M2 112.5h1m3 0h2m7 0h1m7 0h1m8 0h1m8 0h1m39 0h3m16 0h1m14 0h1m6 0h1M2 111.5h1m10 0h1m7 0h1m18 0h1m44 0h1m14 0h1M1 110.5h1m12 0h2m2 0h1m12 0h1m4 0h2m43 0h1m4 0h1m19 0h1m2 0h1m5 0h1m5 0h1M18 109.5h1m6 0h1m10 0h1m5 0h1m74 0h2M34 108.5h1m3 0h1m45 0h1m17 0h1m3 0h1m4 0h1m4 0h1m1 0h1M3 107.5h1m26 0h1m2 0h2m51 0h1m10 0h1m2 0h1m2 0h1M2 106.5h1m18 0h1m1 0h1m1 0h2m70 0h1m20 0h1m3 0h1M5 105.5h1m9 0h1m7 0h1m1 0h1m5 0h1m55 0h2m14 0h1m11 0h2m1 0h1M4 104.5h1m3 0h1m7 0h1m1 0h1m65 0h1m10 0h1m7 0h1m3 0h1m4 0h2M21 103.5h1m1 0h1m1 0h1m3 0h1m6 0h1m48 0h1m2 0h1m3 0h1m1 0h1m4 0h1m4 0h2m3 0h1m8 0h1m3 0h1M0 102.5h1m2 0h1m4 0h1m9 0h1m22 0h1m46 0h1m1 0h1m4 0h1m3 0h1m15 0h1m1 0h1m2 0h1M0 101.5h1m5 0h1m16 0h1m2 0h1m2 0h1m6 0h1m2 0h1m47 0h1m4 0h1m1 0h1m3 0h2m3 0h3m2 0h2m10 0h1M1 100.5h1m7 0h1m5 0h1m4 0h1m18 0h2m44 0h1m10 0h1m14 0h1m2 0h1M1 99.5h1m2 0h1m8 0h1m1 0h1m2 0h1m4 0h1m2 0h1m1 0h1m1 0h3m8 0h2m44 0h2m1 0h1m12 0h1m1 0h1m15 0h1M0 98.5h1m1 0h1m10 0h3m6 0h1m7 0h1m10 0h1m41 0h3m1 0h2m10 0h1m2 0h1m1 0h1m7 0h1m4 0h1m3 0h1M4 97.5h1m2 0h1m10 0h1m2 0h1m4 0h1m14 0h2m39 0h1m5 0h2m4 0h1m3 0h3m9 0h1M13 96.5h1m1 0h1m15 0h1m56 0h1m3 0h1m1 0h1m15 0h1m5 0h2m1 0h1m3 0h1M21 95.5h1m7 0h1m1 0h1m10 0h1m52 0h1M8 94.5h1m6 0h2m4 0h1m2 0h1m4 0h1m3 0h1m55 0h1m5 0h1m2 0h1m11 0h2m5 0h1m1 0h1m3 0h1M16 93.5h1m9 0h1m6 0h2m55 0h1m2 0h1m2 0h1m4 0h1m2 0h1m5 0h1m6 0h1M1 92.5h1m14 0h2m7 0h1m2 0h1m3 0h1m4 0h1m1 0h1m1 0h1m44 0h1m19 0h1m8 0h1m1 0h1M1 91.5h1m12 0h1m14 0h1m4 0h1m46 0h1m2 0h1m7 0h1m2 0h1m1 0h1m6 0h1m2 0h1m12 0h1M12 90.5h1m4 0h1m9 0h1m1 0h1m6 0h1m3 0h1m50 0h2m2 0h1m2 0h1m5 0h1m7 0h2M4 89.5h1m4 0h1m3 0h2m15 0h2m61 0h1m8 0h1m5 0h1m1 0h1m1 0h1M9 88.5h1m7 0h2m15 0h1m5 0h1m1 0h1m37 0h2m20 0h1m1 0h1m2 0h2m2 0h1m9 0h1M15 87.5h4m5 0h1m6 0h1m9 0h2m39 0h2m6 0h1m7 0h1m1 0h1m6 0h1m5 0h1M13 86.5h1m2 0h1m24 0h1m38 0h1m14 0h2m9 0h1m3 0h1m2 0h1M7 85.5h1m1 0h1m2 0h2m1 0h1m7 0h2m2 0h1m12 0h1m39 0h2m1 0h1m38 0h1M7 84.5h1m4 0h1m3 0h1m11 0h1m50 0h1m18 0h1m5 0h1m8 0h1m1 0h1m6 0h1M25 83.5h1m1 0h1m3 0h1m48 0h1m5 0h1m1 0h1m6 0h1m5 0h2m4 0h1m7 0h2M9 82.5h1m27 0h1m42 0h1m3 0h1m11 0h1m6 0h1m3 0h2m8 0h1M2 81.5h1m1 0h1m2 0h1m6 0h1m11 0h1m8 0h1m50 0h1m13 0h1m3 0h1m9 0h1m5 0h1M31 80.5h1m46 0h1m18 0h1m23 0h1M31 79.5h1m2 0h1m50 0h3m19 0h2m12 0h1M12 78.5h1m2 0h2m63 0h1m4 0h1m2 0h1m9 0h1m2 0h1m3 0h1m1 0h1m8 0h1m1 0h1M3 77.5h1m8 0h1m19 0h1m9 0h1M5 76.5h1m8 0h1m6 0h1m13 0h1m49 0h1m11 0h3M5 75.5h1m8 0h1m7 0h1m12 0h1m6 0h1m35 0h1m19 0h1m15 0h1M1 74.5h1m6 0h1m3 0h1m1 0h2m63 0h1m6 0h1M12 73.5h1m3 0h1m12 0h2m5 0h1m45 0h1m4 0h1m1 0h1m9 0h1m2 0h1m4 0h1m12 0h1M5 72.5h1m3 0h1m5 0h2m15 0h1m5 0h1m44 0h1m5 0h1M14 71.5h1m1 0h1m10 0h2m11 0h1m38 0h1m7 0h1m31 0h1M9 70.5h1m2 0h1m2 0h1m7 0h1m7 0h1m6 0h1m60 0h1m14 0h1m4 0h2m1 0h1M13 69.5h1m28 0h1m34 0h1m21 0h1m6 0h1m13 0h1M4 68.5h1m7 0h1m29 0h1m35 0h3m3 0h1m17 0h1m11 0h1M13 67.5h1m11 0h1m52 0h1m2 0h2m1 0h1M3 66.5h1m11 0h1m62 0h1m5 0h1M5 65.5h1m72 0h1M22 64.5h1m19 0h1m35 0h1m1 0h2m1 0h1m2 0h2m27 0h1M13 63.5h1m14 0h1m56 0h3m16 0h1M43 62.5h1m45 0h1M9 61.5h1m34 0h1m32 0h1m3 0h1m4 0h1M9 60.5h1m34 0h1m34 0h1M43 59.5h1m36 0h1m3 0h2M13 58.5h1m1 0h1m20 0h2m5 0h2m36 0h1m2 0h1M4 57.5h1m2 0h1m23 0h1m4 0h2m39 0h1m5 0h1m23 0h1m11 0h1M9 56.5h1m2 0h1m1 0h1m28 0h1m42 0h1m29 0h1M12 55.5h1m2 0h1m10 0h1m57 0h1M13 54.5h1m64 0h1M6 53.5h1m27 0h1m45 0h1m5 0h2M30 52.5h1m3 0h1m42 0h1m6 0h1M33 51.5h1m46 0h1m3 0h2M14 50.5h2m64 0h1M24 49.5h1m57 0h1m2 0h1m15 0h2M78 48.5h1m4 0h1m1 0h1M15 47.5h1m63 0h1m5 0h1m15 0h1m15 0h1M12 46.5h1m67 0h1m1 0h1M83 45.5h2M80 44.5h1m2 0h1M78 43.5h1m5 0h1M81 42.5h1m16 0h3M13 41.5h1m67 0h1m1 0h4m11 0h1M13 40.5h1m1 0h1m27 0h1m36 0h1m4 0h1m30 0h1M43 39.5h1m35 0h1m1 0h2m4 0h1M79 38.5h1M81 37.5h1m2 0h1m29 0h1M12 36.5h1m73 0h1M81 35.5h1m4 0h1M83 34.5h1m1 0h1M9 33.5h1m3 0h1m1 0h1m64 0h1M19 32.5h1M9 31.5h1m5 0h1m65 0h1m16 0h1M12 30.5h1m68 0h2m1 0h1m1 0h1M44 29.5h1m35 0h3M78 28.5h1m19 0h1M78 27.5h1M12 26.5h1m67 0h1M15 24.5h1M12 23.5h2m1 0h1m59 0h1m5 0h2M15 22.5h1M44 21.5h1m33 0h2m1 0h1m2 0h1m23 0h1M80 20.5h2M15 19.5h1m63 0h1M83 18.5h1M12 17.5h1m65 0h1M45 15.5h1M45 14.5h1m32 0h3M80 13.5h1M74 12.5h1M73 11.5h1m7 0h1M45 10.5h1M11 9.5h1m33 0h1m3 0h1m10 0h1m5 0h1m3 0h1m11 0h1m13 0h1M50 8.5h2m15 0h1m2 0h1M51 7.5h1m15 0h1m1 0h1m21 0h1M52 6.5h1m4 0h1m10 0h1M56 5.5h1m12 0h1"/><path stroke="#24868e" d="M64 128.5h1m7 0h1m29 0h1M79 127.5h1m21 0h1M26 126.5h1m4 0h1m9 0h1m42 0h3m12 0h1m5 0h1M8 125.5h2m1 0h1m1 0h1m1 0h1m6 0h1m9 0h1m3 0h1m4 0h1m43 0h1m13 0h1m1 0h1m1 0h1m3 0h1m1 0h1m8 0h3M0 124.5h1m12 0h1m5 0h1m15 0h1m1 0h1m3 0h1m42 0h1m2 0h1m10 0h1m10 0h1m1 0h1m1 0h1m2 0h2m1 0h3M0 123.5h1m6 0h1m5 0h1m18 0h5m48 0h2m3 0h1m1 0h1m1 0h1m6 0h1m2 0h1m2 0h1m4 0h1m1 0h1m1 0h2M1 122.5h1m4 0h3m9 0h1m5 0h1m2 0h2m8 0h1m3 0h1m40 0h1m1 0h1m1 0h1m1 0h2m7 0h1m1 0h1m2 0h1m3 0h1m3 0h1m2 0h2m2 0h1m4 0h1M1 121.5h1m1 0h1m2 0h1m5 0h1m6 0h1m5 0h1m7 0h2m55 0h2m11 0h2m1 0h1m3 0h1m2 0h1m3 0h1M1 120.5h1m5 0h1m34 0h1m38 0h1m12 0h1m5 0h1m2 0h1m1 0h1m4 0h1m1 0h2m3 0h1M5 119.5h2m11 0h1m12 0h1m3 0h1m6 0h1m54 0h1m16 0h1m2 0h1m4 0h1M2 118.5h1m6 0h1m7 0h1m9 0h2m1 0h1m2 0h1m58 0h1m2 0h1m7 0h1m9 0h1m8 0h1M1 117.5h3m14 0h2m2 0h1m4 0h3m3 0h1m6 0h1m44 0h1m6 0h2m1 0h1m1 0h1m2 0h1m7 0h1m8 0h1m2 0h1M1 116.5h1m12 0h1m7 0h1m9 0h2m49 0h1m1 0h1m6 0h1m1 0h1m1 0h1m1 0h1m5 0h1m14 0h1M2 115.5h1m2 0h1m1 0h1m9 0h1m66 0h1m16 0h1m8 0h1m1 0h1M2 114.5h1m5 0h1m4 0h2m1 0h2m2 0h1m1 0h1m5 0h1m4 0h1m47 0h2m3 0h1m13 0h1m1 0h1m13 0h1M6 113.5h1m8 0h1m3 0h1m1 0h2m3 0h1m2 0h1m4 0h1m51 0h1m11 0h1m1 0h1m19 0h1M1 112.5h1m1 0h1m22 0h2m2 0h2m53 0h1m11 0h1m9 0h1m10 0h2M1 111.5h1m4 0h1m1 0h2m8 0h1m6 0h1m2 0h1m5 0h1m2 0h1m44 0h1m32 0h1m3 0h1m2 0h1M27 110.5h1m4 0h1m5 0h2m2 0h1m41 0h1m3 0h1m24 0h1m2 0h2m4 0h1M1 109.5h1m2 0h1m11 0h2m6 0h1m6 0h1m2 0h1m3 0h1m1 0h1m43 0h1m2 0h1m1 0h1m8 0h1m13 0h1m1 0h1m5 0h1M4 108.5h1m2 0h1m29 0h1m48 0h1m12 0h1m5 0h1m2 0h1m12 0h1M12 107.5h1m3 0h1m2 0h1m15 0h1m49 0h1m1 0h2m9 0h1m7 0h1m1 0h1m1 0h3m1 0h1m2 0h1M14 106.5h1m4 0h2m8 0h1m11 0h2m39 0h2m5 0h1m10 0h1m7 0h1m8 0h1M2 105.5h1m1 0h1m1 0h1m9 0h1m3 0h1m1 0h1m10 0h1m5 0h3m56 0h1m1 0h1m7 0h1M5 104.5h1m3 0h1m10 0h1m12 0h3m1 0h1m51 0h1m2 0h1m9 0h1m1 0h2m15 0h1M5 103.5h1m6 0h1m9 0h1m5 0h1m1 0h1m4 0h1m2 0h1m44 0h2m2 0h1m7 0h1m2 0h1m2 0h1m5 0h2m4 0h1m3 0h1m2 0h2M9 102.5h1m4 0h1m2 0h1m4 0h2m1 0h2m2 0h1m1 0h1m2 0h1m1 0h1m45 0h1m2 0h1m6 0h1m5 0h1m2 0h1m2 0h2m1 0h1m1 0h1m1 0h1m1 0h2m4 0h1m2 0h1M5 101.5h1m11 0h1m19 0h1m44 0h1m6 0h2m10 0h1m5 0h1m3 0h2m1 0h2m2 0h1M5 100.5h1m8 0h1m17 0h1m50 0h1m4 0h1m10 0h1m1 0h1m1 0h1m1 0h1m6 0h1m3 0h1m6 0h1M6 99.5h1m15 0h1m58 0h1m2 0h1m6 0h1m9 0h2m1 0h1m10 0h1m7 0h1M12 98.5h1m10 0h1m2 0h1m15 0h1m58 0h1m1 0h1m11 0h1m7 0h1M1 97.5h1m10 0h2m9 0h1m3 0h1m63 0h1m4 0h1m5 0h1m14 0h1m5 0h1M8 96.5h2m7 0h1m9 0h1m7 0h1m53 0h1m1 0h1m4 0h1m1 0h1m8 0h1m10 0h1M0 95.5h1m23 0h2m9 0h1m4 0h1m43 0h1m5 0h1m7 0h1m4 0h1m8 0h1m4 0h1M0 94.5h1m12 0h1m11 0h1m9 0h1m49 0h1m4 0h3m19 0h1M12 93.5h2m1 0h1m1 0h1m20 0h1m3 0h1m39 0h1m15 0h2m20 0h1M12 92.5h2m20 0h1m5 0h1m39 0h1m1 0h1m13 0h1m6 0h2m15 0h1M0 91.5h1m8 0h1m3 0h1m1 0h1m20 0h1m63 0h1m2 0h1M15 90.5h1m3 0h1m1 0h1m2 0h1m9 0h1m44 0h2M5 89.5h1m6 0h1m8 0h1m57 0h2m17 0h1m1 0h1M15 88.5h1m14 0h1m56 0h1m2 0h1m1 0h1m5 0h1m1 0h1m15 0h1M9 87.5h1m30 0h1m39 0h2m5 0h1m1 0h1M24 86.5h1m18 0h1m37 0h1M95 85.5h1m2 0h1m7 0h1m2 0h1M5 84.5h1m71 0h1m8 0h1m15 0h1M15 83.5h2m62 0h1m24 0h1m3 0h1M15 82.5h1m13 0h1m48 0h2m21 0h1m2 0h1m14 0h1M15 81.5h1m13 0h1m8 0h1m38 0h1m2 0h1m27 0h1m4 0h1M25 80.5h1m79 0h1m7 0h1M9 79.5h1m5 0h1m6 0h1m2 0h1m16 0h1m36 0h1M34 78.5h1m2 0h1m66 0h1m8 0h1m7 0h1M21 77.5h1m15 0h1m42 0h1m7 0h1m15 0h1M15 76.5h1m7 0h1m55 0h3m24 0h1m7 0h1M34 75.5h1M26 74.5h1m70 0h1m1 0h1M26 73.5h1m5 0h1m48 0h1m41 0h1M102 72.5h2m19 0h1M15 71.5h1m22 0h1m3 0h1m40 0h1m14 0h1m15 0h1M5 70.5h1M15 69.5h1m9 0h1m52 0h1M13 68.5h1m1 0h1m66 0h1M79 67.5h2m20 0h1m12 0h1M30 66.5h1m48 0h1m2 0h1m2 0h1m17 0h1M30 65.5h1m49 0h1M43 64.5h1M79 63.5h1M77 62.5h1m3 0h1M78 61.5h1m5 0h1M12 60.5h1m67 0h1m8 0h1M15 59.5h1m28 0h1M12 58.5h1m67 0h1M43 57.5h1m34 0h2m2 0h1M103 56.5h2M80 55.5h2m22 0h1M15 53.5h1m27 0h1m33 0h2m35 0h1M12 52.5h1m69 0h1M12 51.5h1m2 0h1m27 0h1m37 0h1M9 50.5h1m66 0h1m2 0h1M15 49.5h1m68 0h1M81 48.5h1m7 0h1M81 47.5h1m1 0h2M78 46.5h2M13 45.5h1m65 0h2M12 44.5h1m68 0h1m4 0h1m27 0h1M12 43.5h1m66 0h2m5 0h1m13 0h1M15 42.5h1m62 0h2m34 0h1M15 41.5h1m27 0h1m38 0h1M12 40.5h1m66 0h1m2 0h2m3 0h1m10 0h1M9 39.5h1m70 0h1m17 0h1M15 38.5h1m27 0h1m40 0h1M12 37.5h1m2 0h1m27 0h1m36 0h1M81 36.5h1M42 34.5h1m55 0h1m15 0h1M81 33.5h1M13 32.5h1m1 0h1m69 0h1m12 0h1M85 31.5h1M12 29.5h1m73 0h1M12 28.5h1m2 0h1m97 0h2M77 26.5h1m30 0h1M81 25.5h1M79 24.5h2M78 23.5h1M78 22.5h1M80 21.5h1M77 20.5h1M78 18.5h2M46 17.5h1M72 16.5h1m4 0h1M12 15.5h1m60 0h1M83 14.5h1M82 13.5h1m2 0h1M10 11.5h1m34 0h1m25 0h1M11 10.5h1m54 0h1M10 9.5h1m39 0h1m3 0h1m8 0h1m3 0h1m16 0h1m1 0h1M47 8.5h2m4 0h1m8 0h2m1 0h1m2 0h1m21 0h2M52 7.5h1m4 0h1m1 0h1m32 0h1m2 0h1M50 6.5h2m2 0h1m1 0h1m36 0h1M110 5.5h1"/><path stroke="#238a8d" d="M63 128.5h1m18 0h1m2 0h1M82 127.5h1m2 0h1m16 0h2M42 126.5h1m38 0h1m1 0h1m19 0h1M6 125.5h2m16 0h1m12 0h1m1 0h1m42 0h1m1 0h1m5 0h1m3 0h1m9 0h2m6 0h1m1 0h1M2 124.5h1m3 0h1m1 0h1m3 0h1m2 0h4m1 0h1m1 0h1m5 0h2m4 0h1m4 0h1m2 0h1m38 0h2m3 0h1m2 0h2m5 0h1m4 0h1m3 0h2m7 0h1M2 123.5h1m1 0h1m3 0h1m5 0h1m4 0h1m5 0h1m1 0h1m13 0h1m40 0h1m4 0h1m5 0h1m3 0h2m1 0h1m2 0h1m2 0h1m3 0h1m8 0h1m1 0h1M12 122.5h1m3 0h1m13 0h1m50 0h1m1 0h1m6 0h2m1 0h1m1 0h1m12 0h1m7 0h1m2 0h2m2 0h1M0 121.5h1m13 0h1m1 0h1m5 0h1m14 0h1m2 0h1m39 0h1m1 0h1m6 0h1m3 0h1m1 0h1m26 0h1M0 120.5h1m4 0h1m6 0h1m1 0h1m2 0h2m2 0h1m3 0h1m7 0h1m5 0h1m49 0h1m1 0h1m5 0h1m3 0h1m5 0h1m12 0h2M1 119.5h1m14 0h1m5 0h1m5 0h1m1 0h1m50 0h1m2 0h1m2 0h2m2 0h2m1 0h1m6 0h6M0 118.5h1m33 0h4m4 0h1m44 0h1m2 0h1m2 0h2m7 0h1m8 0h1m5 0h1m1 0h1m3 0h1M7 117.5h1m1 0h1m29 0h1m43 0h1m6 0h2m7 0h1m1 0h1m13 0h2m4 0h1M0 116.5h1m27 0h1m9 0h1m1 0h1m41 0h1m14 0h1m3 0h1m1 0h1m2 0h1m3 0h2m1 0h1m2 0h1m4 0h1M3 115.5h1m2 0h1m1 0h1m3 0h1m3 0h1m1 0h1m1 0h2m3 0h1m73 0h1m7 0h1m7 0h2m4 0h1M3 114.5h1m3 0h1m7 0h1m3 0h1m1 0h1m14 0h1m47 0h1m2 0h2m12 0h1m4 0h2m2 0h1m1 0h1m5 0h1M2 113.5h3m3 0h1m5 0h1m3 0h1m9 0h1m1 0h1m1 0h1m3 0h1m60 0h1m1 0h1m3 0h2m6 0h2m2 0h2m6 0h1M24 112.5h1m8 0h1m2 0h1m47 0h1m2 0h1m11 0h1m2 0h1m5 0h1m3 0h2m3 0h1m2 0h1M0 111.5h1m15 0h1m2 0h1m3 0h2m6 0h1m52 0h1m11 0h1m1 0h1m4 0h1m3 0h2m3 0h2m2 0h2m2 0h2M13 110.5h1m7 0h1m2 0h1m5 0h1m10 0h1m43 0h1m13 0h1m2 0h1m2 0h1m2 0h1m9 0h1M27 109.5h2m52 0h1m1 0h1m12 0h1m5 0h1m1 0h1m1 0h1m8 0h1M2 108.5h1m13 0h1m1 0h1m2 0h2m5 0h1m3 0h1m2 0h1m3 0h2m41 0h1m6 0h1m6 0h2m5 0h1m6 0h1m2 0h2m4 0h1m2 0h1M13 107.5h1m4 0h1m9 0h2m2 0h1m3 0h3m2 0h1m40 0h1m12 0h1m3 0h1m2 0h1m19 0h2M0 106.5h1m4 0h1m1 0h1m7 0h1m1 0h2m11 0h1m1 0h1m3 0h1m1 0h1m1 0h1m40 0h1m2 0h1m2 0h1m10 0h1m5 0h1m1 0h1m3 0h1m12 0h1M8 105.5h1m4 0h2m3 0h1m2 0h1m2 0h1m1 0h1m1 0h2m4 0h1m7 0h1m38 0h1m1 0h3m11 0h1m4 0h1m3 0h1m2 0h2m1 0h1m4 0h1m2 0h1M2 104.5h1m16 0h1m1 0h1m7 0h1m1 0h1m48 0h1m2 0h1m1 0h1m1 0h2m5 0h1m4 0h1m6 0h1m2 0h1m1 0h1m2 0h1m4 0h2m2 0h1M1 103.5h1m11 0h1m1 0h1m1 0h1m2 0h1m68 0h1m10 0h1m10 0h1m11 0h1M20 102.5h1m21 0h1m37 0h1m2 0h1m2 0h2m5 0h1M13 101.5h3m69 0h2m1 0h1m2 0h1m8 0h1m12 0h1M6 100.5h1m6 0h1m23 0h1m4 0h1m37 0h1m3 0h1m4 0h1m14 0h1M9 99.5h1m27 0h1m45 0h1m2 0h1m2 0h1m10 0h1m15 0h1M9 98.5h1m72 0h1m17 0h1M101 97.5h1m2 0h1M12 96.5h1m89 0h1M8 95.5h2m2 0h1m4 0h1m74 0h1m8 0h2M9 94.5h1m2 0h1m27 0h1m58 0h1m1 0h1M9 93.5h1m25 0h1m4 0h1m38 0h1m5 0h1m5 0h1m10 0h1M9 92.5h1m69 0h1m5 0h1m7 0h1M12 91.5h1m15 0h1M100 90.5h1M15 89.5h1m18 0h1m7 0h1m61 0h1M93 88.5h1M78 87.5h2m31 0h1M9 86.5h1m2 0h1m29 0h1M42 85.5h1m35 0h1M43 84.5h1m36 0h1M12 83.5h1m106 0h1M95 82.5h1M79 81.5h1M108 80.5h1M12 79.5h1m92 0h1M42 78.5h1m36 0h1M79 77.5h1M108 76.5h1M12 75.5h1m2 0h1M78 74.5h1m1 0h2M78 73.5h2M36 72.5h1M5 71.5h1m6 0h1m65 0h1M42 70.5h1m36 0h1M12 69.5h1m63 0h1m2 0h1M9 67.5h1m5 0h1m26 0h1M9 66.5h1m67 0h1m2 0h2m20 0h1M75 65.5h2m5 0h1M12 64.5h1m63 0h1m27 0h1M78 63.5h1m2 0h1M12 62.5h1m2 0h1m62 0h1m1 0h1m33 0h1M43 61.5h1m32 0h1m37 0h1M74 60.5h1m6 0h1m3 0h1m28 0h1M81 59.5h1m1 0h1m2 0h1M104 58.5h1m9 0h1M102 57.5h1M15 56.5h1m60 0h2M76 55.5h1m1 0h1M80 54.5h1M84 53.5h2M78 52.5h1m1 0h1M77 51.5h2M101 50.5h1M114 49.5h1M43 48.5h1M114 47.5h1M43 46.5h1m42 0h1M15 45.5h1M43 44.5h1m35 0h1M43 43.5h1m37 0h1M12 42.5h1m30 0h1M9 41.5h1m68 0h1M13 39.5h1m1 0h1m28 0h1m69 0h1M78 38.5h1m19 0h1M78 37.5h2M43 36.5h1m36 0h1m27 0h1M12 35.5h1m2 0h1m92 0h1M79 34.5h1M12 33.5h1M114 31.5h1M79 30.5h1M114 29.5h1M108 28.5h1M77 27.5h1m1 0h1M12 25.5h1m66 0h1M12 24.5h1M77 23.5h1m19 0h1M12 22.5h1m64 0h1m1 0h2m16 0h1M75 21.5h1M78 19.5h1m29 0h1M76 18.5h1m3 0h1m27 0h1M45 17.5h1M12 16.5h1m32 0h1m34 0h1M74 15.5h1m7 0h1M76 14.5h2M72 13.5h1m4 0h1M73 12.5h1m5 0h1M49 10.5h2m1 0h1m1 0h1m12 0h1m1 0h1M65 9.5h1m2 0h2M64 8.5h1M54 7.5h1m5 0h1M49 6.5h1m5 0h1m3 0h1m50 0h1"/><path stroke="#218e8d" d="M55 128.5h1m3 0h1m1 0h2m5 0h3m12 0h1M86 127.5h2M20 125.5h1m14 0h1m45 0h1m4 0h1m15 0h1m8 0h1M7 124.5h1m1 0h1m21 0h1m8 0h1m42 0h1m4 0h1m5 0h1m5 0h1m1 0h1m7 0h1M6 123.5h1m2 0h1m2 0h1m3 0h2m8 0h1m3 0h1m52 0h1m7 0h1m10 0h1m2 0h1m5 0h1m6 0h1M2 122.5h1m1 0h1m8 0h1m3 0h1m4 0h1m2 0h1m5 0h1m3 0h1m51 0h1m4 0h1m3 0h1m1 0h1m1 0h1m6 0h1m10 0h1m2 0h1M2 121.5h1m1 0h2m2 0h1m4 0h1m3 0h1m5 0h1m4 0h1m10 0h1m47 0h2m3 0h1m7 0h1m1 0h1m5 0h1m6 0h1m2 0h1m1 0h2M3 120.5h1m2 0h1m1 0h1m7 0h1m11 0h2m2 0h1m1 0h2m2 0h1m43 0h1m3 0h1m3 0h1m4 0h1m3 0h1m4 0h1m1 0h1m1 0h1m2 0h1m4 0h1m1 0h1m4 0h1M9 119.5h1m2 0h1m2 0h1m1 0h1m3 0h1m2 0h1m9 0h1m1 0h2m2 0h1m42 0h1m11 0h2m2 0h1m9 0h1m3 0h1m2 0h1M1 118.5h1m1 0h1m1 0h1m1 0h1m4 0h1m1 0h1m68 0h3m5 0h1m12 0h1m1 0h2m6 0h2m4 0h1M12 117.5h1m1 0h2m1 0h1m14 0h1m2 0h2m1 0h1m42 0h1m2 0h1m1 0h1m1 0h2m4 0h1m1 0h1m5 0h1m2 0h2m2 0h1m1 0h2m1 0h1m3 0h1m4 0h1M4 116.5h1m1 0h3m8 0h1m1 0h3m1 0h1m3 0h1m3 0h1m4 0h1m2 0h1m46 0h1m6 0h1m11 0h1m2 0h1m3 0h1m1 0h1m2 0h2m1 0h1m1 0h2M0 115.5h1m18 0h1m4 0h1m4 0h1m4 0h2m2 0h2m41 0h1m4 0h1m1 0h2m7 0h1m13 0h1m1 0h1m3 0h2m1 0h1m1 0h1M5 114.5h1m18 0h1m2 0h1m1 0h1m2 0h1m1 0h2m2 0h3m1 0h1m53 0h2m1 0h1m3 0h1m4 0h1m4 0h2m6 0h2M12 113.5h1m7 0h1m6 0h1m5 0h1m4 0h4m40 0h1m1 0h1m16 0h1m3 0h1m1 0h2m9 0h1M5 112.5h1m12 0h1m19 0h2m49 0h1m6 0h1m24 0h1M5 111.5h1m14 0h1m5 0h1m2 0h2m4 0h1m3 0h1m46 0h1m2 0h1m11 0h2m8 0h1M0 110.5h1m6 0h2m8 0h1m1 0h1m6 0h1m8 0h1m46 0h1m6 0h1m7 0h1m3 0h1m12 0h1m5 0h1M0 109.5h1m6 0h1m11 0h2m14 0h1m5 0h1m40 0h1m12 0h1m1 0h1m1 0h1m3 0h1m1 0h1m4 0h2m1 0h1m9 0h1M0 108.5h1m5 0h1m1 0h1m3 0h1m2 0h1m7 0h3m3 0h2m5 0h1m46 0h1m1 0h1m2 0h1m18 0h1m12 0h1M0 107.5h1m4 0h1m33 0h2m1 0h1m40 0h2m4 0h1m11 0h1m2 0h2m10 0h1m1 0h1M3 106.5h1m2 0h1m2 0h1m2 0h1m9 0h1m4 0h2m10 0h1m45 0h2m8 0h1m5 0h2m2 0h1m3 0h1m2 0h1m2 0h2m2 0h3M1 105.5h1m1 0h1m3 0h1m9 0h1m1 0h1m10 0h1m63 0h2m8 0h2m8 0h1M1 104.5h1m5 0h1m4 0h2m12 0h1m3 0h1m5 0h1m4 0h1m49 0h1m1 0h1m6 0h2m6 0h1M0 103.5h1m25 0h1m4 0h1m10 0h1m38 0h1m20 0h1M12 102.5h1m2 0h1m68 0h1m17 0h1M9 101.5h1m10 0h1m21 0h1m37 0h2m1 0h2m17 0h1M12 100.5h1m74 0h1m3 0h1m8 0h1M82 99.5h1M78 96.5h2m20 0h2M43 95.5h1m35 0h1m11 0h1m12 0h1M43 94.5h1m58 0h1M80 93.5h1M91 92.5h1M79 91.5h1m11 0h1M78 90.5h1M91 89.5h1M44 88.5h1m31 0h1m14 0h1m20 0h1M77 87.5h1m15 0h1M77 86.5h1m1 0h1M43 85.5h1M78 84.5h1M77 83.5h1M12 82.5h1m30 0h1M12 81.5h1m65 0h1M79 80.5h1M78 79.5h1m34 0h1M43 78.5h1M78 77.5h1m29 0h1M78 76.5h1M108 75.5h1M42 74.5h1m65 0h1M77 73.5h1m19 0h1M42 72.5h1m34 0h2M43 71.5h1m33 0h1M78 70.5h1M80 69.5h1M99 68.5h2M76 67.5h2M12 66.5h1m88 0h1m12 0h1M43 65.5h1M77 64.5h1m1 0h1m23 0h1M12 63.5h1m30 0h2m58 0h1m10 0h1M76 62.5h1m27 0h1m3 0h1M43 60.5h1m26 0h1m32 0h1M77 59.5h1M71 58.5h1m3 0h1m2 0h2m28 0h1M44 57.5h1m59 0h1M108 56.5h1m5 0h1M44 55.5h1m26 0h1m30 0h2M43 54.5h2m69 0h1M44 53.5h1m57 0h1M75 52.5h1m38 0h1M114 51.5h1M44 50.5h1m40 0h1m16 0h1m11 0h1M12 48.5h1m66 0h2m33 0h1M78 47.5h1M100 46.5h1M12 45.5h1m30 0h2m52 0h2M108 44.5h1M44 43.5h1m63 0h1M108 42.5h1M77 41.5h1m36 0h1M44 40.5h1m33 0h1m2 0h1m32 0h1M12 39.5h1M80 38.5h1M98 37.5h1M114 36.5h1M11 35.5h1m31 0h1m34 0h2M78 34.5h1M98 33.5h1M82 32.5h1m25 0h1m5 0h1M78 31.5h2M44 30.5h1m35 0h1m33 0h1M10 28.5h1m66 0h1M108 27.5h1M76 25.5h1M77 24.5h1M76 23.5h1M74 21.5h1m2 0h1M12 20.5h1m65 0h1M45 19.5h1m30 0h2M12 18.5h1m32 0h1M73 16.5h1M45 13.5h2m27 0h1m15 0h1M71 12.5h2M11 11.5h1m35 0h1m22 0h1m9 0h1M53 10.5h1M51 9.5h1m1 0h1m2 0h1M60 8.5h1M50 7.5h1m2 0h1m1 0h1M94 6.5h1"/><path stroke="#20928c" d="M47 128.5h1m1 0h1m8 0h1m1 0h1m4 0h3m11 0h1m1 0h1m2 0h1m3 0h1M80 127.5h2m1 0h1M10 125.5h1m15 0h1m4 0h1m47 0h2m7 0h1M26 124.5h1M42 123.5h1m38 0h1m14 0h1M9 122.5h1m4 0h1m11 0h1m15 0h1m68 0h1M9 121.5h1m21 0h1m6 0h1m2 0h2m40 0h1m2 0h1m12 0h1m11 0h1m7 0h1M4 120.5h1m5 0h1m11 0h1m17 0h2m37 0h1m3 0h1m31 0h1m3 0h1m2 0h1M8 119.5h1m20 0h1m8 0h1m50 0h2m16 0h1m2 0h3m6 0h2M8 118.5h1m4 0h1m1 0h1m3 0h1m5 0h2m2 0h1m1 0h2m48 0h1m7 0h1m6 0h1m2 0h1m5 0h1m2 0h1m1 0h1m1 0h1M5 117.5h2m1 0h1m7 0h1m7 0h1m1 0h1m7 0h1m7 0h1m44 0h1m15 0h2m5 0h1M12 116.5h2m1 0h2m7 0h1m1 0h1m10 0h1m3 0h1m39 0h1m2 0h1m3 0h2m19 0h1M9 115.5h1m3 0h1m1 0h1m7 0h1m2 0h2m9 0h1m44 0h2m1 0h1m9 0h1m2 0h1m3 0h1m2 0h1M4 114.5h1m1 0h1m5 0h1m12 0h1m15 0h1m38 0h1m17 0h1m6 0h1m11 0h1M5 113.5h1m11 0h1m7 0h1m9 0h1m6 0h1m40 0h1m1 0h1m10 0h1m9 0h1m2 0h1m7 0h1M9 112.5h1m7 0h1m2 0h1m1 0h1m11 0h2m50 0h1m8 0h1m5 0h1m7 0h3m2 0h1m1 0h1m6 0h1M17 111.5h1m4 0h1m15 0h1m3 0h1m44 0h1m7 0h1m10 0h1m2 0h1M3 110.5h1m5 0h1m10 0h1m2 0h1m1 0h1m3 0h1m10 0h1m46 0h1m6 0h2m2 0h1m4 0h1m3 0h1m2 0h3m6 0h1m3 0h1M5 109.5h2m1 0h1m3 0h3m6 0h1m7 0h2m54 0h1m21 0h3m9 0h1M9 108.5h1m3 0h1m3 0h1m1 0h2m5 0h1m53 0h2m13 0h1m5 0h1m2 0h1m10 0h1M4 107.5h1m4 0h1m4 0h2m1 0h1m2 0h1m1 0h1m1 0h1m1 0h1m53 0h2m27 0h1m5 0h1m3 0h2M4 106.5h1m19 0h1m69 0h1m4 0h1m14 0h1M12 105.5h1m23 0h1m1 0h1m41 0h1m5 0h1m2 0h3m29 0h1M0 104.5h1m16 0h1m20 0h1m3 0h1m39 0h1m3 0h1M82 103.5h1M81 102.5h1m9 0h1M86 100.5h1M80 98.5h1M80 97.5h1M80 96.5h1M15 95.5h1M79 94.5h2M43 93.5h1M78 92.5h1M43 90.5h1M43 88.5h1m34 0h1M43 87.5h1m68 0h1M15 86.5h1m60 0h1m1 0h1M77 85.5h1M11 84.5h1m64 0h1M11 83.5h1m66 0h1m33 0h1M11 82.5h1m65 0h1M12 80.5h1m30 0h1m52 0h1M77 79.5h1m34 0h1M77 78.5h2m17 0h1M43 77.5h1M77 75.5h1M15 73.5h1m27 0h1M11 72.5h1M108 71.5h1M11 70.5h1m62 0h2m1 0h1m30 0h1M108 68.5h1M43 67.5h1m31 0h1m24 0h1M70 65.5h1m8 0h1m22 0h1M11 64.5h1m32 0h1m25 0h1m4 0h1m32 0h1M71 63.5h2m4 0h1M70 62.5h1m31 0h2M100 61.5h1m1 0h1m1 0h1M11 60.5h1m59 0h1m6 0h1m25 0h1m3 0h1M75 59.5h2M72 58.5h1m4 0h1M71 57.5h1m3 0h1M11 56.5h1m32 0h1M77 55.5h1m30 0h1M75 54.5h1m27 0h1M76 53.5h1m31 0h1M44 52.5h1m31 0h1M76 51.5h1m24 0h2M12 50.5h1m64 0h1M78 49.5h1m7 0h1m21 0h1M98 47.5h1m9 0h1M15 46.5h1m28 0h1M114 45.5h1M44 44.5h1m55 0h1M77 43.5h1m20 0h1M44 42.5h1m32 0h1M44 41.5h1M108 40.5h1M44 38.5h1m69 0h1M77 37.5h1M78 36.5h1M98 35.5h1M43 34.5h1m64 0h1M11 33.5h1m66 0h2m28 0h1m5 0h1M44 32.5h1m31 0h2M108 31.5h1M77 30.5h2M76 29.5h1m1 0h2M45 27.5h1m30 0h1M45 26.5h1M11 25.5h1m57 0h1m3 0h1m34 0h1M78 24.5h1m29 0h1M74 23.5h1m33 0h1M76 22.5h1M45 20.5h1m30 0h1M12 19.5h1M72 18.5h1m2 0h1m1 0h1m35 0h1M72 17.5h1m4 0h1M74 16.5h2M77 15.5h2M72 14.5h1M45 12.5h1m34 0h1M46 11.5h1M10 10.5h1m40 0h1m12 0h2M46 9.5h1m11 0h1M54 8.5h1m6 0h1m4 0h1m27 0h2M56 7.5h1m4 0h1M53 6.5h1m4 0h1"/><path stroke="#1f968b" d="M44 128.5h2m4 0h1m6 0h1m13 0h1m1 0h1M42 127.5h1m41 0h1M80 126.5h1M79 124.5h1M26 121.5h1M9 120.5h1m9 0h1m6 0h1m53 0h1M19 119.5h1m5 0h2m5 0h1m6 0h1m40 0h1m27 0h1M38 118.5h2m69 0h1M31 117.5h1m46 0h1m1 0h1M79 116.5h2m6 0h1m3 0h1m10 0h1m4 0h1M4 115.5h1m36 0h1m52 0h1m13 0h2M83 114.5h1m1 0h1m9 0h1m13 0h1m1 0h1M9 113.5h1m84 0h2M14 112.5h1m64 0h1m14 0h1m11 0h1M14 111.5h1m90 0h1m4 0h1m3 0h1m8 0h1M5 110.5h1M9 109.5h1m13 0h1M3 108.5h1m10 0h1m12 0h1m51 0h1m10 0h1m3 0h1m14 0h1M27 107.5h1m51 0h1M80 106.5h1M9 105.5h1m82 0h2m5 0h1m1 0h1M81 104.5h1M9 103.5h1m69 0h1m11 0h1M78 102.5h1M79 101.5h1M11 99.5h1m66 0h1m1 0h1M78 97.5h1M77 96.5h1M78 95.5h1m1 0h1M11 93.5h1m33 0h1M43 92.5h1M78 91.5h1M9 90.5h1M43 89.5h1M77 88.5h1M53 87.5h1m40 0h1M90 86.5h1m20 0h2M110 85.5h2M43 83.5h1M75 82.5h1m36 0h1M10 81.5h2m31 0h1m51 0h1M10 80.5h1m33 0h1m32 0h1m17 0h1M75 79.5h1M11 78.5h1m96 0h1M76 77.5h2M10 76.5h1m64 0h1m1 0h1M11 75.5h1m31 0h1m31 0h1m20 0h1M113 74.5h1M10 73.5h1m97 0h1M10 72.5h1m64 0h2M75 71.5h2M43 69.5h1m64 0h1m4 0h1M43 68.5h1m31 0h1M12 67.5h1m100 0h1M43 66.5h2m27 0h1m2 0h2m31 0h1M11 65.5h1m61 0h1m34 0h1M73 64.5h1m26 0h2M75 63.5h2m24 0h1m6 0h1M75 62.5h1m25 0h1M70 61.5h3m35 0h1M75 60.5h1m1 0h1M70 59.5h1m1 0h1m31 0h1M10 58.5h2m58 0h1m5 0h1m26 0h1M70 57.5h1m2 0h2m23 0h1m4 0h1M70 56.5h2M70 55.5h1m3 0h1m39 0h1M76 54.5h2m30 0h1M70 53.5h2M70 52.5h1m31 0h1m5 0h1M75 51.5h1m32 0h1M108 46.5h1m5 0h1M99 45.5h1m8 0h1M78 44.5h1m19 0h1M76 42.5h1M108 41.5h1M77 39.5h2m29 0h1M11 38.5h1M98 36.5h1M44 35.5h1m52 0h1m16 0h1M44 34.5h1m35 0h1M44 33.5h1m31 0h1M44 31.5h1m32 0h1M98 30.5h1m9 0h1M98 29.5h1m9 0h1M76 28.5h1m20 0h1M11 27.5h1m61 0h2M97 26.5h1M76 24.5h1M72 22.5h1m1 0h1m33 0h1m4 0h1M12 21.5h1m32 0h1m27 0h1m2 0h1m13 0h1M75 20.5h1M46 19.5h1m27 0h1M74 18.5h1m15 0h1M47 17.5h1m2 0h1m25 0h1M71 16.5h1M46 15.5h2m24 0h1m2 0h1M49 14.5h1m23 0h1m16 0h1M47 13.5h1m22 0h1M51 12.5h1m38 0h1M67 11.5h2m21 0h1M48 10.5h1m10 0h1m2 0h1m28 0h1M48 9.5h1m12 0h2m28 0h1M55 8.5h1m53 0h1M58 7.5h1"/><path stroke="#1f9a8a" d="M43 128.5h1m8 0h1m1 0h1m23 0h1M79 126.5h1M79 123.5h2M11 122.5h1m67 0h2M11 121.5h1m66 0h1M11 120.5h1m11 0h1M11 119.5h1m11 0h1m55 0h1M11 118.5h1M11 117.5h1m67 0h1M9 116.5h1m32 0h1m47 0h1M42 115.5h1m36 0h1m10 0h1M9 114.5h1m69 0h1m14 0h1M110 113.5h1M12 112.5h1m29 0h1m35 0h1M12 111.5h1m81 0h1M12 110.5h1m67 0h1M3 109.5h1m76 0h1m13 0h1M78 107.5h1m15 0h1M78 106.5h2M79 105.5h1M79 104.5h1M81 100.5h1M77 99.5h1m1 0h1M79 98.5h1M11 97.5h1m31 0h1m35 0h1M43 91.5h1M44 89.5h2m5 0h1m25 0h1M49 88.5h1M11 86.5h1M75 85.5h1m36 0h1M10 84.5h1m33 0h1m30 0h1M46 83.5h1m4 0h1m24 0h1M44 82.5h1m31 0h1M44 81.5h1M11 80.5h1m60 0h3m37 0h1M43 79.5h1m32 0h1M113 77.5h1M11 76.5h1m31 0h1m32 0h1m19 0h1m15 0h1M10 74.5h1m32 0h1m31 0h3M72 73.5h1m3 0h1M108 72.5h1M11 71.5h1M98 70.5h1M11 68.5h1m65 0h1m20 0h1M69 66.5h1m28 0h1M77 65.5h1m36 0h1M72 64.5h1m29 0h1M70 63.5h1m28 0h1m2 0h1M44 62.5h1m26 0h1M74 61.5h1m26 0h1m1 0h1M10 59.5h1m60 0h1m2 0h1m27 0h2M74 58.5h1m27 0h1M72 57.5h1M72 56.5h1m2 0h1m25 0h1M75 55.5h1m25 0h1M10 54.5h1m60 0h1m2 0h1M75 53.5h1M74 52.5h1M70 50.5h2m3 0h1m2 0h1M44 49.5h1m31 0h2M44 48.5h1m55 0h1m7 0h1M77 46.5h1m21 0h1M100 45.5h1M77 44.5h1M114 43.5h1M11 39.5h1M11 37.5h1m32 0h1m31 0h1m31 0h1M10 36.5h1m65 0h2m35 0h1M10 35.5h1m85 0h1M10 34.5h1m66 0h1m19 0h1M78 32.5h1m34 0h1M75 31.5h1m14 0h1M76 30.5h1M72 29.5h1m4 0h1M45 28.5h1m29 0h1M113 27.5h1M75 26.5h2M74 25.5h2m14 0h1M45 24.5h1m29 0h1m21 0h1m15 0h1M11 23.5h1m59 0h1M73 22.5h1m1 0h1M11 20.5h1m34 0h1m21 0h1m2 0h1m1 0h1m34 0h1M11 19.5h1m61 0h1m1 0h1M46 18.5h3m24 0h1M73 17.5h1M46 16.5h1m7 0h1M76 15.5h1m32 0h1M47 14.5h1m16 0h1M10 13.5h1m37 0h1m24 0h1M11 12.5h1m36 0h1m3 0h1M53 11.5h2M47 10.5h1m10 0h1m1 0h1m2 0h1m32 0h1m15 0h1M59 9.5h1m4 0h1m25 0h1M46 8.5h1m10 0h2m33 0h1M94 7.5h1"/><path stroke="#1f9e89" d="M46 128.5h1m9 0h1m17 0h1m5 0h1M78 124.5h1M10 122.5h1M79 121.5h1M78 120.5h1M80 118.5h1M80 115.5h1M90 114.5h1M79 113.5h1m13 0h1M80 112.5h1m9 0h1M79 111.5h1M93 110.5h1M93 109.5h1M93 107.5h1M77 106.5h1m12 0h2m1 0h1M76 105.5h1m1 0h1M78 104.5h1M78 103.5h1M78 101.5h1M11 100.5h1m66 0h1M11 98.5h1m31 0h1m34 0h1M44 94.5h1M11 92.5h1M44 91.5h1m32 0h1M44 90.5h1m32 0h1M11 89.5h1m38 0h1m27 0h1M11 88.5h1m36 0h1M52 87.5h1m20 0h1m1 0h1M10 86.5h1m34 0h1M44 85.5h1m4 0h1m26 0h1M90 84.5h1M44 83.5h1m27 0h1m2 0h1M10 82.5h1M76 81.5h1M90 80.5h1M11 79.5h1m78 0h1M111 78.5h1M11 77.5h1m84 0h1m14 0h1M10 75.5h1m65 0h1m35 0h1M11 74.5h1m100 0h1M73 73.5h2m20 0h1m17 0h1M43 72.5h1M43 70.5h2m28 0h1M70 69.5h2M71 68.5h1m4 0h1M71 67.5h1m36 0h1M70 66.5h1m29 0h1M44 65.5h1m26 0h1m29 0h1M71 64.5h1m27 0h1M68 63.5h1m4 0h1M73 62.5h1m25 0h1M76 60.5h1m24 0h2M11 59.5h1m88 0h2m6 0h1M73 58.5h1m26 0h2m11 0h1M76 57.5h1m24 0h1m6 0h1m5 0h1M98 56.5h2m2 0h1M69 55.5h1m29 0h1M11 54.5h1m58 0h1m27 0h1m2 0h1M72 53.5h2M70 51.5h2M74 50.5h1m23 0h1M98 49.5h1M99 48.5h1m13 0h1M75 47.5h1m1 0h1m35 0h1M98 46.5h1M76 45.5h1M76 43.5h1m22 0h1M113 41.5h1M76 40.5h2M75 38.5h1M113 37.5h1M11 36.5h1m32 0h1m45 0h1M76 35.5h1M11 34.5h1m101 0h1M10 33.5h1M90 32.5h1M10 31.5h1m65 0h1m20 0h1M10 30.5h2m56 0h1m21 0h1M69 28.5h1m3 0h1M72 26.5h2M48 25.5h1m23 0h1m4 0h1M11 24.5h1m58 0h1m1 0h1m1 0h1M72 23.5h2m39 0h1M71 22.5h1M113 21.5h1M70 20.5h1m1 0h1m1 0h1m38 0h1M113 19.5h1M66 17.5h1m3 0h2m2 0h2M47 16.5h1m1 0h1m2 0h1m23 0h1M52 15.5h1M50 14.5h1m15 0h1m2 0h1m1 0h1M52 13.5h1m7 0h1m10 0h1M46 12.5h2m22 0h1M49 11.5h3m44 0h1M46 10.5h1m43 0h1m1 0h1m18 0h1M55 9.5h1M56 8.5h1M110 7.5h1"/><path stroke="#1fa187" d="M51 128.5h1m1 0h1M78 127.5h1M78 126.5h1M10 124.5h1m66 0h1m2 0h1M10 123.5h1m67 0h1M78 119.5h1M78 118.5h2M78 115.5h1m14 0h1M80 113.5h1m9 0h1M93 112.5h1M80 111.5h1M75 110.5h1m1 0h1M78 109.5h2M78 108.5h1m14 0h1M80 103.5h1M43 102.5h1M11 101.5h1m62 0h1m2 0h1M77 100.5h1m1 0h1M43 96.5h1M77 95.5h1M76 94.5h1m1 0h1M49 92.5h2M75 89.5h1M11 87.5h1m34 0h2m28 0h1M44 86.5h1m30 0h1M10 85.5h1M53 84.5h2m17 0h1m39 0h1M10 83.5h1m34 0h1m7 0h1m19 0h1m16 0h1m20 0h1M50 82.5h1M112 81.5h1M95 79.5h1M10 78.5h1m64 0h2m35 0h1M73 77.5h2M73 76.5h1M74 74.5h1m21 0h1M75 73.5h1M44 72.5h1m68 0h1M97 71.5h1m15 0h1M76 70.5h1m36 0h1M11 69.5h1m60 0h1m2 0h1m22 0h1M73 68.5h1M44 67.5h1m27 0h3M11 66.5h1m56 0h1M67 64.5h1m30 0h1m14 0h1M74 63.5h1m25 0h1M11 62.5h1m55 0h1m4 0h1m40 0h1M46 61.5h1m26 0h1m1 0h1M69 60.5h1m2 0h1M73 59.5h1m25 0h1M97 58.5h3M100 57.5h1M69 56.5h1m3 0h1M11 55.5h1m60 0h2m24 0h1m1 0h1m12 0h1M72 54.5h1m27 0h1m1 0h1m10 0h1M11 53.5h1m62 0h1m26 0h1M72 52.5h1m27 0h1m12 0h1M44 51.5h1m27 0h2m16 0h1m8 0h1M99 50.5h1M75 49.5h1m24 0h1m12 0h1M77 48.5h1m20 0h1M97 47.5h1m2 0h1M71 46.5h1M76 44.5h1m36 0h1M90 43.5h1M75 42.5h1m21 0h1m15 0h1M74 40.5h2m37 0h1M97 39.5h1M77 38.5h1m19 0h1M90 35.5h1m22 0h1M90 34.5h1M90 33.5h1m21 0h2M97 32.5h1M11 31.5h1m101 0h1M97 30.5h1M71 29.5h1m2 0h2m14 0h1m6 0h1M11 28.5h1M75 27.5h1m21 0h1M68 26.5h1m5 0h1m15 0h1m22 0h1M97 25.5h1M68 24.5h1m2 0h1m1 0h1M48 23.5h1M69 22.5h2M46 21.5h1m23 0h1m25 0h1M112 20.5h1M47 19.5h3m19 0h1m1 0h2m17 0h1M11 18.5h1m57 0h1m1 0h1M11 17.5h1m36 0h1m3 0h1m43 0h1M11 16.5h1m36 0h1m41 0h1M48 15.5h1m2 0h1m16 0h1m1 0h2m24 0h1M46 14.5h1m6 0h2m15 0h1M11 13.5h1m37 0h1m17 0h1m44 0h1M10 12.5h1m38 0h2m15 0h1m1 0h2M48 11.5h1m3 0h1m6 0h1m1 0h1m1 0h1m30 0h1m17 0h1M61 10.5h1M57 9.5h1m35 0h1M110 8.5h1M93 7.5h1"/><path stroke="#21a585" d="M48 128.5h1m26 0h1m1 0h1M76 127.5h1M78 125.5h1M77 120.5h1M77 115.5h1M93 114.5h1M93 111.5h1M78 110.5h2M11 108.5h1m61 0h1M77 107.5h1m12 0h1M76 103.5h1M79 102.5h1M10 99.5h1M77 98.5h1M11 96.5h1M47 94.5h1M47 93.5h1m4 0h1m24 0h2M11 91.5h1m35 0h2m26 0h2M47 90.5h1m4 0h1m18 0h1m3 0h1M49 89.5h1M50 88.5h1m24 0h1M10 87.5h1M50 86.5h1m1 0h1m18 0h1m22 0h1M11 85.5h1m38 0h1m23 0h1M47 84.5h2m60 0h2M47 83.5h1M74 81.5h1M76 80.5h1M44 79.5h1m27 0h1m23 0h1M44 78.5h1m3 0h1M10 77.5h1m101 0h1M44 76.5h1m29 0h1m15 0h1m20 0h1m1 0h1M44 75.5h1m68 0h1M44 74.5h1m28 0h1m21 0h1M44 73.5h1m51 0h1M97 72.5h1M10 71.5h1m33 0h1m50 0h1M10 70.5h1m61 0h1M44 69.5h1m23 0h1m4 0h1M69 68.5h1m2 0h1m1 0h1m15 0h1M67 66.5h1m3 0h1m1 0h1m39 0h1M74 65.5h1m24 0h2M69 64.5h1m4 0h1m22 0h1M11 63.5h1m57 0h1M10 62.5h1m89 0h1M10 61.5h2m53 0h1m47 0h1M61 60.5h1m1 0h1m35 0h2m12 0h1M98 59.5h1m14 0h1M45 57.5h1m53 0h1M10 56.5h1m34 0h1m54 0h1M10 55.5h1M67 54.5h1m1 0h1m3 0h1M99 53.5h1M11 52.5h1m33 0h1m22 0h2m3 0h1m25 0h1M69 51.5h1m30 0h1M67 50.5h1m32 0h1m7 0h1m4 0h1M11 49.5h1m61 0h1m23 0h1m1 0h1M11 48.5h1m60 0h1m2 0h2M11 47.5h1m32 0h1m54 0h1M75 46.5h1m37 0h1M72 45.5h1m5 0h1m34 0h1M99 44.5h1M75 43.5h1M109 41.5h1M97 40.5h1M75 39.5h1M10 38.5h1m79 0h1m5 0h1M10 37.5h1M97 36.5h1M76 34.5h1M68 33.5h1M10 32.5h2m60 0h1M71 30.5h1m41 0h1M10 29.5h2m57 0h1M72 28.5h1m1 0h1M10 27.5h1m57 0h1m3 0h1M11 26.5h1m35 0h1m23 0h1M70 25.5h2m41 0h1M50 24.5h1m61 0h1M51 23.5h1m38 0h1M45 22.5h2m21 0h1m21 0h1M49 21.5h1m18 0h1m3 0h1M47 20.5h1m3 0h1M10 19.5h1M68 18.5h1m1 0h1M49 17.5h1m3 0h1m9 0h2M50 16.5h1m15 0h1m2 0h1m26 0h1M11 15.5h1m55 0h1m22 0h1M10 14.5h2m40 0h1m10 0h1m3 0h1m23 0h1m20 0h1M50 13.5h2m12 0h2m2 0h1M53 12.5h2m12 0h1m28 0h1m12 0h1m2 0h1M62 11.5h1m2 0h1m26 0h1m2 0h1M55 10.5h1m39 0h1M92 9.5h1m2 0h1M93 8.5h1"/><path stroke="#23a983" d="M77 127.5h1M76 126.5h1M75 124.5h1M76 123.5h1M77 122.5h1M77 121.5h1M10 119.5h1m66 0h1M77 118.5h1M11 116.5h1m66 0h1M91 115.5h1M78 114.5h1M78 113.5h1M78 111.5h1m11 0h1M43 110.5h1m46 0h1M74 109.5h1m1 0h1M76 108.5h1M76 107.5h1M11 105.5h1m65 0h1M11 103.5h1m65 0h1M77 102.5h1M10 101.5h1m65 0h1M46 97.5h1m24 0h1m5 0h1M44 96.5h1M11 95.5h1m63 0h1M11 94.5h1m65 0h1M44 93.5h1m1 0h1m28 0h1M51 92.5h1M11 90.5h1m33 0h2m6 0h1m14 0h1M48 89.5h1M72 88.5h1m1 0h1M44 87.5h1m25 0h3m18 0h2M72 86.5h1m1 0h1m18 0h1M48 85.5h1M94 83.5h1M51 82.5h1m38 0h1M54 81.5h1m20 0h1M75 80.5h1m33 0h1M10 79.5h1m62 0h1m37 0h1M90 78.5h1M44 77.5h1m30 0h1m14 0h1M90 75.5h1m18 0h1M72 74.5h1m17 0h1M71 73.5h1M74 71.5h1M90 69.5h1M44 68.5h1m23 0h1m28 0h1m14 0h1M67 67.5h2m29 0h2M72 65.5h1m25 0h1m14 0h1M45 64.5h1M98 63.5h1m14 0h1M66 62.5h1m7 0h1m23 0h1M54 61.5h1m14 0h1M10 60.5h1m35 0h1m26 0h1m24 0h1M59 59.5h1M62 58.5h1M11 57.5h1m34 0h1m50 0h1m15 0h1M68 56.5h1m5 0h1m38 0h1M66 55.5h1M45 54.5h1m51 0h1M69 53.5h1m28 0h1m1 0h1m12 0h1M71 52.5h1M11 51.5h1m62 0h1M72 50.5h2M70 49.5h2M74 47.5h1m1 0h1M11 46.5h1m62 0h1m22 0h1M77 45.5h1M11 44.5h1M71 43.5h1m25 0h1M71 42.5h1m37 0h1M74 41.5h1m22 0h1M11 40.5h1m97 0h1M10 39.5h1m34 0h1m30 0h1M76 38.5h1M90 37.5h1M75 36.5h1M72 35.5h1m2 0h1m1 0h1m31 0h1M75 34.5h1m20 0h1M77 33.5h1m19 0h1m11 0h1M45 32.5h1m29 0h1M72 31.5h1m1 0h1M48 30.5h1m21 0h1m1 0h2m35 0h1M45 29.5h1m21 0h2m1 0h1m42 0h1M46 28.5h1m3 0h1m17 0h1m1 0h2M52 27.5h1m17 0h2M10 26.5h1m37 0h1m1 0h1m1 0h2m15 0h2m41 0h1M10 25.5h1m34 0h1m1 0h1m2 0h1m16 0h1m43 0h2M45 23.5h2m6 0h1m14 0h3m25 0h1M11 22.5h1m39 0h1m15 0h1m28 0h1M50 21.5h1m18 0h1m1 0h1M48 20.5h2m19 0h1m26 0h1M70 19.5h1M10 18.5h1m42 0h2m9 0h1m1 0h1M67 17.5h2m43 0h1M64 16.5h1m47 0h1M49 15.5h2m3 0h1M48 14.5h1m47 0h1m12 0h1M53 13.5h4m5 0h1m6 0h1M55 12.5h1m6 0h1m2 0h1M66 11.5h1m24 0h1M56 10.5h2M94 9.5h1"/><path stroke="#26ad81" d="M76 125.5h1M76 124.5h1M78 122.5h1M10 121.5h1M43 117.5h1m33 0h1M77 116.5h1M77 114.5h1M76 111.5h1M91 110.5h1M77 108.5h1M11 107.5h1m31 0h1M75 106.5h1M11 104.5h1M43 103.5h1M76 102.5h1M73 101.5h1m1 0h1M10 100.5h1m65 0h1M44 99.5h1M74 98.5h1m1 0h1M66 97.5h1m6 0h2M10 96.5h1m64 0h1M44 95.5h1m31 0h1M48 94.5h1m21 0h1m4 0h1M51 93.5h1m1 0h1M44 92.5h1m3 0h1m3 0h1m22 0h1M45 91.5h1m8 0h1m16 0h1M54 90.5h1m15 0h1m1 0h1M47 89.5h1m28 0h1M45 87.5h1m8 0h1M46 86.5h1m1 0h1m2 0h1m1 0h2m18 0h1M73 85.5h1M45 84.5h1m4 0h1m60 0h1M74 83.5h1M94 82.5h1m14 0h1M49 81.5h1m3 0h1M46 80.5h1m23 0h1m40 0h1M45 79.5h1M74 78.5h1m34 0h1M95 76.5h1M73 75.5h2m19 0h1M11 73.5h1m58 0h1m41 0h1M90 72.5h1m4 0h1M73 71.5h1m16 0h1m21 0h1M90 70.5h1m18 0h1m2 0h1M67 69.5h1m29 0h1M113 68.5h1M11 67.5h1m54 0h1m2 0h1m27 0h1M74 66.5h1m22 0h1m1 0h1M10 65.5h1M10 63.5h1m35 0h1m50 0h1M46 62.5h1m1 0h1m13 0h1m6 0h1M45 61.5h1m22 0h1m29 0h2m12 0h1M59 60.5h1m7 0h1M58 59.5h1m7 0h1M61 58.5h1m28 0h1M10 57.5h1m52 0h1m3 0h2M67 56.5h1m29 0h1M45 55.5h1m22 0h1M64 54.5h1m3 0h1m21 0h1M10 53.5h1m56 0h1m22 0h1M98 52.5h1m2 0h1M96 51.5h1m16 0h1M11 50.5h1m57 0h1M45 49.5h1m23 0h1m2 0h1M10 48.5h1m57 0h1m5 0h1m22 0h1M72 47.5h1M76 46.5h1M11 45.5h1m58 0h1m4 0h1M72 44.5h2m21 0h1M11 43.5h1m33 0h1m63 0h1m3 0h1M11 42.5h1m61 0h1m16 0h1M75 41.5h2M90 39.5h1M45 38.5h1m28 0h1m38 0h1M75 37.5h1M45 35.5h1m22 0h1m1 0h2M45 34.5h1m27 0h1m35 0h1M75 33.5h1M68 32.5h1m4 0h1m22 0h1M46 31.5h1m22 0h1m1 0h1m1 0h1m38 0h1M45 30.5h1m6 0h1m22 0h1m36 0h1M52 28.5h1m14 0h1m22 0h1M49 27.5h1m1 0h1m2 0h1m14 0h1m20 0h1M46 26.5h1m2 0h1m1 0h1M96 25.5h1M46 24.5h1m6 0h1m13 0h1m1 0h1M67 23.5h1M48 22.5h1m1 0h1M11 21.5h1m52 0h1M52 20.5h1m14 0h1m22 0h1M54 19.5h1m57 0h1M49 18.5h1m1 0h2m14 0h1M54 17.5h1m10 0h1m3 0h1m39 0h1M63 16.5h1m1 0h1m1 0h1m2 0h1M63 15.5h3M65 14.5h1m45 0h1M57 13.5h1m1 0h1m6 0h1M63 12.5h2m26 0h1M55 11.5h2m1 0h1m1 0h1m32 0h1M93 10.5h2"/><path stroke="#2ab07f" d="M75 125.5h1M75 123.5h1M76 122.5h1M76 121.5h1M10 118.5h1M92 115.5h1M11 113.5h1m31 0h1m33 0h1M11 112.5h1m65 0h1M77 111.5h1M11 110.5h1m64 0h1M77 109.5h1m12 0h1M72 108.5h1m18 0h1M91 107.5h2M76 106.5h1m15 0h1M74 105.5h1M71 104.5h1m1 0h1m2 0h1M75 102.5h1M43 99.5h1m31 0h1M10 97.5h1M76 96.5h1M73 95.5h1M45 94.5h2m24 0h2M54 93.5h1m16 0h1M45 92.5h1m31 0h1M50 91.5h1m19 0h1m2 0h1M49 90.5h1m1 0h1m15 0h1m1 0h1m3 0h1m2 0h1M52 89.5h2m17 0h1M10 88.5h1m36 0h1m25 0h1M50 87.5h1M49 86.5h1M46 85.5h1M46 84.5h1m2 0h1m24 0h1M52 83.5h1M45 82.5h1m2 0h1m3 0h1m21 0h1m36 0h1M46 81.5h1m1 0h1M51 80.5h2M74 79.5h1m34 0h1M73 78.5h1m21 0h1M70 77.5h1m1 0h1M71 76.5h2M95 75.5h1M66 74.5h1m44 0h1M90 73.5h1M72 72.5h1m23 0h1M10 69.5h1m58 0h1M67 68.5h1M10 67.5h1m54 0h1m46 0h1M64 65.5h1M10 64.5h1m36 0h1m2 0h1m39 0h1m5 0h1m15 0h1M45 63.5h1m2 0h2m62 0h1M68 62.5h1m21 0h1m6 0h1M48 61.5h1m18 0h1m29 0h1M48 60.5h1m2 0h2m13 0h1M45 59.5h1m1 0h1m3 0h1m1 0h2m1 0h1m3 0h1m1 0h1m4 0h1M45 58.5h2m3 0h1m8 0h1m6 0h2M60 57.5h1m8 0h1m20 0h1M67 55.5h1M46 54.5h1m19 0h1m32 0h1M68 53.5h1m28 0h1M65 52.5h1m31 0h1M68 51.5h1m29 0h1M47 50.5h1M68 49.5h1m5 0h1M45 48.5h1M67 47.5h1M45 46.5h1m23 0h1M68 45.5h2m20 0h1M45 44.5h1m25 0h1m2 0h1m22 0h1M10 43.5h1m62 0h1M11 41.5h1m58 0h2M71 39.5h1m41 0h1M53 38.5h1m16 0h1m1 0h1M72 37.5h1m24 0h1m11 0h1M45 36.5h1m25 0h1m23 0h1M51 34.5h1m20 0h1m39 0h1M45 33.5h1m1 0h1m17 0h1M47 32.5h1M52 31.5h1m13 0h1m29 0h1m12 0h1M49 30.5h1m17 0h1m6 0h1m21 0h1M48 29.5h1m3 0h1m20 0h1m35 0h1M47 28.5h1M47 27.5h1m19 0h1m28 0h1m12 0h1M49 25.5h1m1 0h1M10 24.5h1m36 0h1m1 0h1m2 0h1m37 0h1m18 0h1M50 23.5h1m12 0h1M47 22.5h1m4 0h1M48 21.5h1m17 0h1m42 0h1M50 19.5h3m13 0h2m28 0h1M50 18.5h1m44 0h2M51 17.5h1m38 0h1m20 0h1M53 16.5h1m14 0h1m26 0h1M69 15.5h1m21 0h1m20 0h1M51 14.5h1m3 0h1m12 0h1M61 13.5h1m47 0h1M57 12.5h1m34 0h1M64 11.5h1M109 10.5h1M109 9.5h2"/><path stroke="#2fb47c" d="M74 127.5h1M74 126.5h1m2 0h1M74 125.5h1m2 0h1M77 123.5h1M10 117.5h1M43 115.5h1M43 114.5h1M92 113.5h1M43 112.5h1m32 0h1M43 109.5h1m31 0h1m15 0h1M74 108.5h1M70 104.5h1m1 0h1m4 0h1M43 100.5h1m31 0h1M76 99.5h1M72 97.5h1m2 0h2M10 95.5h1M50 94.5h1m2 0h1M69 93.5h1m2 0h1M10 92.5h1m35 0h1m6 0h1m22 0h1M10 91.5h1m38 0h1m1 0h2m21 0h1M50 90.5h1M46 89.5h1M45 88.5h2m17 0h1M47 86.5h1M45 85.5h1m8 0h1m35 0h1M52 84.5h1m18 0h1m1 0h1m17 0h1m2 0h1M50 83.5h1m19 0h2m37 0h1M49 82.5h1m42 0h1M110 81.5h2M46 79.5h1m24 0h1m21 0h1M65 77.5h1m1 0h1m27 0h1m13 0h1M70 76.5h1m23 0h1m14 0h1M72 75.5h1m38 0h1M109 74.5h1M67 73.5h1M62 72.5h2m30 0h1M97 70.5h1M74 69.5h1m21 0h1M70 68.5h1M70 67.5h1m38 0h1M10 66.5h1m79 0h1M68 65.5h2m20 0h1m6 0h1m11 0h1m2 0h1M51 64.5h1m16 0h1m40 0h1M50 63.5h2M49 62.5h2m12 0h1M47 61.5h1m1 0h2m39 0h1M45 60.5h1m1 0h1m1 0h1m47 0h1M46 59.5h1m3 0h1m10 0h1m6 0h2m27 0h1m14 0h1M47 58.5h2m11 0h1m3 0h1m3 0h1M47 57.5h2m17 0h1M66 56.5h1M47 55.5h1M65 54.5h1M45 53.5h1m19 0h1M10 52.5h1m37 0h1m18 0h1m22 0h1M45 51.5h1m21 0h1m29 0h1M68 50.5h1M47 49.5h1M48 48.5h1m20 0h1M45 47.5h1m1 0h1m22 0h1m2 0h1M70 46.5h1m19 0h1M45 45.5h1m21 0h1M75 44.5h1M68 43.5h1m1 0h1M72 42.5h1M10 41.5h1m62 0h1M45 40.5h1m23 0h1m20 0h1M73 39.5h2m21 0h1m12 0h1M51 38.5h1m43 0h1M45 37.5h1m4 0h2m22 0h1M49 36.5h1m19 0h1m4 0h1m16 0h1m4 0h1M52 34.5h1m16 0h1m1 0h1M71 33.5h1m24 0h1m13 0h1M49 32.5h1m19 0h1m1 0h1m2 0h1m37 0h1M45 31.5h1m24 0h1m39 0h1M46 30.5h1m22 0h1m25 0h1M46 29.5h1m3 0h2m2 0h1m41 0h1M51 28.5h1m14 0h1m29 0h1m12 0h1m2 0h1M46 27.5h1m3 0h1m2 0h1m58 0h1M54 26.5h1m12 0h1m43 0h1M46 25.5h1m21 0h1m22 0h1M48 24.5h1m5 0h1m10 0h1m30 0h1m14 0h1M47 23.5h1m1 0h1m2 0h1m59 0h1M112 22.5h1M47 21.5h1m5 0h1m13 0h1m27 0h1m16 0h1M50 20.5h1m14 0h1m43 0h1M68 19.5h1m40 0h1m1 0h1M63 18.5h1m47 0h1M51 16.5h1M53 15.5h1m12 0h1M56 14.5h1m4 0h1m30 0h1M58 13.5h1m4 0h1m28 0h2m17 0h1M56 12.5h1m2 0h1M57 11.5h1m53 0h1"/><path stroke="#35b779" d="M54 127.5h1m18 0h1m1 0h1M73 126.5h1M70 122.5h1m1 0h1m2 0h1M76 120.5h1M43 116.5h1M11 115.5h1M11 114.5h1M10 113.5h1M43 111.5h1m47 0h2M92 110.5h1M92 109.5h1M71 108.5h1m3 0h1M71 107.5h1m2 0h1M43 106.5h1M75 105.5h1M67 104.5h1M75 103.5h1M11 102.5h1M72 101.5h1M73 100.5h1M10 98.5h1m37 0h1m26 0h1M47 97.5h1M45 96.5h1M49 95.5h2m21 0h1M10 94.5h1m38 0h1m23 0h2M48 93.5h1m1 0h1m25 0h1M47 92.5h1M46 91.5h1m20 0h1m4 0h1M10 89.5h1m61 0h1M51 88.5h1m13 0h1m5 0h1M48 87.5h2m16 0h4M68 86.5h2M51 85.5h1m20 0h1m21 0h1M51 84.5h1M48 83.5h1M46 82.5h1m15 0h1m10 0h1M47 81.5h1m18 0h1m6 0h1m16 0h1m3 0h1m14 0h1M66 80.5h1m4 0h1m21 0h1M69 79.5h1M64 78.5h2M71 77.5h1M45 76.5h1m17 0h1m4 0h1M63 75.5h1M67 74.5h1m25 0h1M70 72.5h2m1 0h1m35 0h1m2 0h1M53 71.5h1m11 0h1m6 0h1m23 0h1m12 0h1M50 70.5h1m20 0h1M109 69.5h1M10 68.5h1m34 0h1m2 0h1m60 0h1m1 0h1M96 67.5h1M96 66.5h1m12 0h1m1 0h2M49 65.5h1m13 0h1m47 0h1M46 64.5h1M47 63.5h1m15 0h1m1 0h1m1 0h1m22 0h1m18 0h1M47 62.5h1m47 0h1m13 0h1M51 61.5h1m12 0h1m1 0h1M60 60.5h1m1 0h1m1 0h1m25 0h1m5 0h1m15 0h1M48 59.5h2m14 0h1M53 58.5h1m1 0h2m1 0h1M58 57.5h2m1 0h1m3 0h1M47 56.5h1m10 0h1m5 0h1M46 55.5h1m43 0h1m6 0h1M96 54.5h1M56 53.5h1M66 52.5h1M45 50.5h1m44 0h1m6 0h1M63 49.5h1M70 48.5h1M10 47.5h1m57 0h1M67 46.5h1M10 45.5h1m60 0h1m1 0h2M90 44.5h1m18 0h1M67 43.5h1m1 0h1m2 0h1m1 0h1M10 42.5h1m57 0h1m1 0h1m3 0h1m21 0h1M45 41.5h1m23 0h1m20 0h1m5 0h1M10 40.5h1m59 0h2m1 0h1M67 39.5h1m2 0h1M52 38.5h1m15 0h1m2 0h1m1 0h1m35 0h1M49 37.5h1m4 0h1m12 0h1m5 0h1m21 0h1M46 36.5h1m3 0h1m1 0h1m1 0h1m12 0h1m2 0h1m1 0h2m35 0h1M48 35.5h1m3 0h1m1 0h1m12 0h1m5 0h1m37 0h1M53 34.5h1M46 33.5h1m4 0h1m2 0h1m19 0h1M46 32.5h1m1 0h1m3 0h1m11 0h1m30 0h1M49 31.5h1m1 0h1m1 0h1m14 0h1M50 30.5h1m2 0h2m9 0h1m1 0h1m24 0h1M58 29.5h1m52 0h2M49 28.5h1m3 0h1m57 0h1M48 27.5h1m11 0h1m34 0h1M56 26.5h1m8 0h2m28 0h1m13 0h1M53 25.5h1m55 0h1M94 24.5h1M10 23.5h1m53 0h1m1 0h1m42 0h1M10 22.5h1m38 0h1m15 0h1m25 0h1M10 21.5h1m40 0h2m57 0h1M53 20.5h2m11 0h1m24 0h1m19 0h1M91 19.5h1m18 0h1M109 18.5h2m1 0h1M10 17.5h1M55 16.5h1m6 0h1m28 0h1m18 0h1M10 15.5h1m47 0h1m36 0h1m14 0h2M57 14.5h2m1 0h1m1 0h1M91 13.5h1m4 0h1M58 12.5h1m2 0h1m31 0h2M109 11.5h1"/><path stroke="#3bbb75" d="M76 128.5h1M71 126.5h1m3 0h1M73 125.5h1M76 114.5h1m14 0h2M91 112.5h2M11 111.5h1M11 109.5h1m61 0h1M43 108.5h1m26 0h1M73 107.5h1m1 0h1M72 105.5h1M75 104.5h1M72 102.5h3M66 101.5h1m3 0h2M72 100.5h1M70 98.5h1m2 0h1M44 97.5h2M73 96.5h1M45 95.5h1m2 0h1m2 0h1m1 0h1m10 0h1M52 94.5h1m1 0h1m9 0h1m3 0h2M10 93.5h1m38 0h1m18 0h1m1 0h1m2 0h1M70 92.5h1M69 91.5h1M48 90.5h1M70 89.5h1m3 0h1M52 88.5h1m1 0h1m15 0h1M51 87.5h1M70 86.5h1M47 85.5h1m4 0h2M66 84.5h1m3 0h1m22 0h1M68 83.5h1M47 82.5h1m5 0h1m16 0h2m21 0h1M64 81.5h1m6 0h2m19 0h1M45 80.5h1m1 0h1m5 0h1m13 0h1m1 0h1m21 0h1M70 79.5h1M45 78.5h1m1 0h1m4 0h1m13 0h1m25 0h1m17 0h1M47 77.5h1m16 0h1m1 0h1m2 0h1m22 0h2M51 76.5h1M93 75.5h1M68 74.5h1m25 0h1M66 73.5h1m1 0h2m24 0h1m14 0h1M69 72.5h1m4 0h1m18 0h1m16 0h1M94 71.5h1m15 0h1M66 70.5h5M62 69.5h1m32 0h1m16 0h1M53 68.5h1m9 0h1M51 67.5h1m38 0h1M66 66.5h1M45 65.5h1m2 0h1m17 0h2M53 64.5h1m41 0h1m15 0h1M54 63.5h1m56 0h1M45 62.5h1m6 0h2m6 0h1m3 0h1m31 0h1M53 61.5h1m2 0h2m1 0h2m1 0h1m46 0h1M50 60.5h1m3 0h1m1 0h1m1 0h1m6 0h1m2 0h1m26 0h1M52 59.5h1m10 0h1m1 0h1m43 0h1M95 58.5h1m16 0h1M62 57.5h1m1 0h1m31 0h1m15 0h1M46 56.5h1m1 0h1m41 0h1m5 0h1m13 0h1M64 55.5h2M47 54.5h1m14 0h2m48 0h1M48 53.5h2m7 0h1M56 52.5h1m52 0h2M46 51.5h1m17 0h3m44 0h1M50 50.5h1m45 0h1M46 49.5h1m1 0h1m17 0h2m22 0h1m5 0h1M50 48.5h1m39 0h1M48 47.5h1m16 0h1m3 0h1m20 0h1M72 46.5h2m22 0h1M95 45.5h2M10 44.5h1m57 0h3M95 43.5h2M64 42.5h1m2 0h1m1 0h1m25 0h1M67 40.5h1M49 39.5h1m19 0h1M69 38.5h1M69 37.5h3m24 0h1M94 36.5h1m16 0h2M51 35.5h1m22 0h1m20 0h1m16 0h1M46 34.5h1m1 0h1m19 0h1m25 0h1M49 33.5h1m3 0h1m13 0h1m2 0h1m1 0h2m21 0h1m15 0h1M50 32.5h1m2 0h2m7 0h1m3 0h1m3 0h1m38 0h1M47 31.5h1m19 0h1m23 0h1M51 30.5h1M55 29.5h1m4 0h1m1 0h1m32 0h1M48 28.5h1m61 0h1M64 27.5h1M57 26.5h1m35 0h1m2 0h1M54 25.5h1m11 0h1M51 24.5h1m14 0h1m24 0h1m3 0h1M54 23.5h1m56 0h1M53 22.5h1m41 0h1m13 0h1M10 20.5h1m48 0h1m4 0h1m30 0h1M55 19.5h1m7 0h1m31 0h1M55 17.5h1m35 0h1m18 0h1M10 16.5h1m98 0h1M60 15.5h1M95 14.5h1M94 13.5h1m15 0h1M60 12.5h1m34 0h1m15 0h1M110 10.5h1"/><path stroke="#42be71" d="M43 127.5h1m7 0h1m16 0h1M43 126.5h1m28 0h1M70 125.5h2M73 122.5h1M71 121.5h1M76 119.5h1M72 118.5h1m3 0h1M76 116.5h1M91 113.5h1M74 111.5h1M10 109.5h1m60 0h2M68 108.5h1M70 107.5h1M11 106.5h1m32 0h1M10 105.5h1m32 0h1m20 0h1m8 0h1M43 104.5h1m25 0h1M74 103.5h1M70 102.5h2M63 101.5h1m1 0h1m1 0h1m1 0h1M45 100.5h1m24 0h1M53 99.5h1M47 98.5h1m1 0h1m2 0h1m13 0h1m4 0h1M48 97.5h1m4 0h1m14 0h1m1 0h1M46 96.5h1m3 0h2m1 0h1m17 0h1M46 95.5h1m23 0h2m2 0h1M65 94.5h1M69 92.5h1m1 0h1M10 90.5h1m55 0h1m7 0h1M73 89.5h1M53 88.5h1m12 0h1M74 87.5h1M65 85.5h1m4 0h1m22 0h1M64 84.5h1m4 0h1M54 83.5h1m14 0h1M64 82.5h1m7 0h1m18 0h1M45 81.5h1m5 0h1m16 0h1M50 80.5h1m8 0h1m34 0h1M49 79.5h1m1 0h1m40 0h1m1 0h1M49 78.5h1m3 0h2m8 0h1m6 0h1m1 0h1m20 0h2M48 77.5h1m3 0h1m41 0h1M50 76.5h1m18 0h1m21 0h2m17 0h1M64 75.5h2m44 0h1M65 74.5h1m4 0h2m19 0h1m18 0h1M58 71.5h1m9 0h1m1 0h1M94 70.5h3m14 0h1M63 69.5h1m2 0h1M54 68.5h1m55 0h1M64 67.5h1M45 66.5h1m18 0h1M52 65.5h2M48 64.5h1m5 0h1m7 0h1M53 63.5h1m5 0h2m5 0h1M55 62.5h2m1 0h2m1 0h1m32 0h1M52 61.5h1m5 0h1m2 0h1m33 0h2M109 60.5h1M55 59.5h1m34 0h1m5 0h1m14 0h1M52 58.5h1m12 0h1m3 0h1m24 0h1m1 0h1m14 0h1M51 57.5h2m57 0h1M59 56.5h1m3 0h1m1 0h1m43 0h1M50 55.5h1m1 0h1m43 0h1M48 54.5h1m4 0h1m41 0h1m14 0h1M46 53.5h1m5 0h1m13 0h1m28 0h2M46 52.5h2m64 0h1M10 50.5h1m35 0h1m19 0h1m42 0h1M64 49.5h2M47 48.5h1m18 0h1m4 0h1m1 0h1m22 0h1M46 47.5h1m16 0h2m1 0h1m4 0h1m24 0h1M95 46.5h1M46 44.5h1m20 0h1m28 0h1M65 43.5h1M45 42.5h1M67 41.5h1m4 0h1M68 39.5h1m3 0h1m22 0h1m16 0h1M49 38.5h1m4 0h1m12 0h1m43 0h2M68 37.5h1m23 0h1m19 0h1M51 36.5h1M46 35.5h1m2 0h2m15 0h1m2 0h1m24 0h1m15 0h1M49 34.5h1m20 0h1m21 0h2m16 0h2M48 33.5h1M60 32.5h2m1 0h1m46 0h1M54 31.5h2m1 0h1m2 0h1m3 0h1m46 0h1M47 30.5h1m11 0h3m1 0h1m28 0h1m18 0h1M47 29.5h1m1 0h1m6 0h1m7 0h3m43 0h1M54 28.5h1m1 0h1m6 0h3m27 0h1M65 27.5h1M63 26.5h2m45 0h1M52 25.5h1m2 0h1m2 0h1m3 0h1m1 0h2m44 0h1M63 24.5h1m46 0h1M65 23.5h1m44 0h1M54 22.5h1m7 0h1m3 0h1m27 0h1m16 0h1M57 21.5h1m34 0h3M63 20.5h1M57 19.5h1m6 0h1m27 0h1M59 18.5h1m5 0h1m25 0h1M94 17.5h1M55 15.5h1M59 14.5h1m34 0h1m15 0h1M110 11.5h1"/><path stroke="#4ac16d" d="M53 127.5h1m13 0h1m4 0h1M71 122.5h1m2 0h1M71 118.5h1M76 115.5h1M10 114.5h1m64 0h1M74 112.5h1M72 111.5h2m1 0h1M10 110.5h1m35 0h1M51 109.5h1M65 108.5h1m3 0h1M66 107.5h1M74 104.5h1M10 103.5h1m43 0h1m16 0h1m1 0h1M10 102.5h1M43 101.5h1m20 0h1m3 0h1M68 100.5h1m2 0h1M71 99.5h1m2 0h1M44 98.5h1m18 0h1m5 0h1M47 96.5h1m4 0h1m17 0h1M63 95.5h1m3 0h1M51 94.5h1m14 0h1M74 93.5h1M54 92.5h1m17 0h1m1 0h1M53 91.5h1M63 89.5h1M65 87.5h1M92 86.5h1M68 85.5h1m2 0h1M65 84.5h1M49 83.5h1m5 0h1m36 0h2m16 0h1M50 81.5h1m1 0h1m16 0h2m22 0h1M68 80.5h1M50 79.5h1m11 0h1m4 0h2M71 78.5h1M51 77.5h1m7 0h1m8 0h1m41 0h1M62 76.5h1M70 75.5h1m20 0h1M59 74.5h1m4 0h1M63 73.5h1m27 0h1m19 0h1M111 72.5h1M93 71.5h1M45 70.5h1m1 0h1M48 69.5h1m1 0h1m13 0h1m29 0h1m16 0h1M65 68.5h1m30 0h1M50 67.5h1m1 0h1m41 0h1m15 0h2M46 66.5h1m15 0h1M57 65.5h1m37 0h1M56 64.5h1m7 0h1m1 0h1M93 63.5h1M51 62.5h1m13 0h1m44 0h1m1 0h1M63 61.5h1m47 0h1M57 60.5h1M110 59.5h1M49 58.5h1m1 0h1m2 0h1m8 0h1m45 0h1M49 57.5h2m4 0h1m1 0h1m37 0h1m13 0h1M51 56.5h1m3 0h1m1 0h1m2 0h1m1 0h1m32 0h1M54 55.5h3m3 0h1m49 0h2M55 54.5h1M47 53.5h1m3 0h1m11 0h2m47 0h1M64 52.5h1m31 0h1m14 0h1M10 51.5h1m36 0h2m1 0h1m12 0h1m31 0h1m16 0h1M55 50.5h1m7 0h1m31 0h1m16 0h1M51 49.5h2m58 0h2M46 48.5h1m17 0h1m2 0h1m27 0h1m13 0h1M62 47.5h1m32 0h1m16 0h1M47 46.5h1m6 0h1m11 0h1m1 0h1M46 45.5h1m1 0h1m3 0h1M64 44.5h1M51 41.5h1m16 0h1m42 0h2M50 40.5h3m11 0h1m7 0h1m39 0h1M50 39.5h1m60 0h1M91 37.5h1m1 0h1m17 0h1M68 36.5h1m24 0h1M91 35.5h1m1 0h1M50 34.5h1m5 0h1m9 0h2m27 0h1M55 33.5h3m35 0h1M51 32.5h1m5 0h1m34 0h1m18 0h1M48 31.5h1m1 0h1m8 0h1m35 0h1M110 30.5h1M53 29.5h1m5 0h1m1 0h1M55 28.5h1m38 0h1M91 27.5h1m2 0h1m16 0h1M55 26.5h1m35 0h1M95 25.5h1M93 24.5h1M60 23.5h1m31 0h1M58 22.5h1m2 0h1m1 0h1M58 21.5h1m4 0h1m1 0h1m25 0h1M62 20.5h1M53 19.5h1m5 0h1m5 0h1m28 0h1M57 17.5h1m4 0h1m32 0h1M92 16.5h1m18 0h1M59 15.5h1m2 0h1m29 0h1m1 0h1M110 12.5h1"/><path stroke="#52c569" d="M52 127.5h1m17 0h2M72 125.5h1M74 124.5h1M72 123.5h1M72 121.5h1m2 0h1M43 120.5h1M10 116.5h1m64 0h1M10 115.5h1M49 114.5h1M76 113.5h1M54 112.5h1M50 111.5h1M73 110.5h2M44 109.5h1m25 0h1M10 108.5h1m56 0h1M10 107.5h1m58 0h1m2 0h1M70 106.5h2m1 0h2M64 104.5h2m2 0h1M44 102.5h1M67 100.5h1m1 0h1m4 0h1M50 98.5h1m13 0h2m6 0h1M49 97.5h1m1 0h2m14 0h1M47 95.5h1m17 0h1M67 94.5h1M67 93.5h1M63 92.5h1M64 91.5h3m1 0h1M54 89.5h1m7 0h1m6 0h1M69 88.5h1M58 87.5h1M62 86.5h1m28 0h1M64 85.5h1M68 84.5h1M60 83.5h1m6 0h1M54 82.5h1m8 0h1M63 81.5h1m1 0h1m1 0h1m23 0h1M110 80.5h1M48 79.5h1m14 0h1M55 78.5h2M45 77.5h2m3 0h1m40 0h1M67 76.5h1m25 0h1M54 75.5h1m1 0h1m9 0h1m4 0h1M61 73.5h1m31 0h1m16 0h1M49 72.5h1m16 0h1M48 71.5h1m10 0h1m6 0h1m4 0h1m39 0h1M51 70.5h2m40 0h1M45 69.5h1m9 0h1m37 0h1M49 68.5h1m41 0h2M46 67.5h1m12 0h1M49 66.5h1m45 0h1m14 0h1M58 65.5h2M91 64.5h1m1 0h1M61 63.5h1m33 0h2m13 0h1M54 62.5h1m56 0h1M53 60.5h1m1 0h1m54 0h1M57 59.5h1M49 56.5h1m2 0h1M48 55.5h1m10 0h1m1 0h1m47 0h1M49 54.5h2m1 0h1m1 0h1m3 0h1m2 0h1m49 0h1M50 53.5h1m2 0h1m1 0h1m6 0h1m46 0h1m1 0h1M63 52.5h1m31 0h1M49 51.5h1m1 0h1M48 50.5h1m2 0h1m12 0h2m45 0h1M10 49.5h1m38 0h1m4 0h1M49 48.5h1m13 0h1m48 0h1M49 47.5h1M10 46.5h1m35 0h1m3 0h1m4 0h1m9 0h1m46 0h1M47 45.5h1m46 0h1M47 44.5h1M46 43.5h1M49 42.5h1m1 0h2m59 0h1M50 41.5h1m44 0h1M65 40.5h1m2 0h1m26 0h2M66 39.5h1M50 38.5h1m14 0h1m28 0h1M46 37.5h1m1 0h1m3 0h1m41 0h1M47 36.5h1m5 0h1m10 0h1M47 35.5h1m5 0h1M54 34.5h1m9 0h1m9 0h1m16 0h1M52 33.5h1m7 0h1m8 0h1m21 0h1m2 0h1M56 32.5h1m2 0h1m5 0h1m1 0h1M58 31.5h1m2 0h2m29 0h1m1 0h1M55 30.5h2m5 0h1m31 0h1M63 29.5h1m27 0h1m2 0h1M91 28.5h1M56 27.5h1m6 0h1m2 0h1M61 26.5h2M60 25.5h1m31 0h3M59 24.5h1m4 0h1M56 23.5h1m5 0h1m28 0h1m3 0h1M56 22.5h2m6 0h1m27 0h1M62 21.5h1m48 0h1M92 20.5h2M56 19.5h1m3 0h1m1 0h1M55 18.5h1m6 0h1m29 0h1M59 17.5h1m1 0h1m30 0h1M56 16.5h1m1 0h2M57 15.5h1m3 0h1M93 14.5h1M95 13.5h1"/><path stroke="#5ac864" d="M44 127.5h3m19 0h1M70 126.5h1M69 125.5h1M73 124.5h1M73 123.5h2M70 119.5h1M76 117.5h1M72 115.5h1m1 0h1M10 112.5h1M10 111.5h1m53 0h1m1 0h1M72 110.5h1M51 108.5h1m14 0h1M68 107.5h1M10 106.5h1m61 0h1M50 105.5h1m17 0h1m1 0h2M10 104.5h1M45 103.5h1m23 0h2m1 0h1M52 102.5h1m11 0h1M44 100.5h1M52 99.5h1m16 0h1m3 0h1M45 98.5h1m21 0h2M54 96.5h1m17 0h1m1 0h1M69 95.5h1M64 92.5h1m2 0h1m5 0h1M58 90.5h1m6 0h1M60 89.5h1m3 0h1M63 88.5h1m3 0h2M57 87.5h1M67 86.5h1M63 85.5h1m2 0h1m25 0h1M56 84.5h1m10 0h1M61 83.5h2m3 0h1M49 80.5h1m8 0h1m5 0h2m26 0h1M52 79.5h1m1 0h1m11 0h1m24 0h1M50 78.5h1m18 0h1m21 0h1M53 77.5h1m4 0h1m1 0h1M46 76.5h1M48 75.5h1m8 0h1m9 0h1m1 0h1M64 73.5h2M45 72.5h2m7 0h1m6 0h1m5 0h2m22 0h1M69 71.5h1m22 0h1M46 70.5h1m17 0h2m25 0h1m18 0h1M49 69.5h1m11 0h1m29 0h1m18 0h1M59 68.5h1m4 0h1m1 0h1M45 67.5h1m49 0h1M48 66.5h1m2 0h1m11 0h1M47 65.5h1m48 0h1m13 0h1M52 64.5h1m5 0h1m6 0h1m44 0h1M52 63.5h1m2 0h1m6 0h1m1 0h1M57 62.5h1M55 61.5h1m54 0h1M94 60.5h1M110 58.5h1M53 57.5h1m2 0h1M50 56.5h1m3 0h1m1 0h1m4 0h1m49 0h2M49 55.5h1m1 0h1m1 0h1m8 0h2m48 0h1M59 54.5h2m33 0h1m14 0h1M54 53.5h1m6 0h1m48 0h1M49 52.5h1m2 0h3m2 0h1m36 0h1M55 51.5h1m1 0h1m36 0h1m14 0h1M52 50.5h2m3 0h1M53 49.5h1m40 0h2M65 48.5h1m27 0h1M52 47.5h2M48 46.5h1m60 0h1M49 45.5h1m1 0h1m14 0h1m42 0h1m2 0h1M50 44.5h2m42 0h1m15 0h1m1 0h1M49 43.5h1m3 0h1m10 0h1m47 0h1M53 42.5h1m12 0h1m27 0h1m16 0h1M46 41.5h1m19 0h1m26 0h1M48 40.5h1m4 0h1M51 39.5h4m39 0h1M48 38.5h1M53 37.5h1M66 36.5h1m25 0h1M47 34.5h1m17 0h1M50 33.5h1m7 0h1m2 0h1m1 0h1m2 0h1M58 32.5h1m35 0h1M65 31.5h1M65 30.5h1m27 0h1M57 29.5h1m35 0h1M59 28.5h1m1 0h1M92 27.5h2m16 0h1M58 26.5h3m33 0h1M56 25.5h2m5 0h1M57 24.5h1m2 0h1m1 0h1M93 23.5h1M55 22.5h1m3 0h1M54 21.5h2m5 0h1M57 20.5h1m36 0h1m15 0h1M58 19.5h1M93 18.5h1M58 17.5h1M93 16.5h1M56 15.5h1"/><path stroke="#65cb5e" d="M48 127.5h3m5 0h1M69 123.5h1m1 0h1M67 122.5h1M70 121.5h1M71 120.5h1M71 119.5h1M43 118.5h1m24 0h1M44 116.5h1M51 114.5h1M44 113.5h1m1 0h1m28 0h1M66 112.5h1m8 0h1M48 111.5h1m16 0h1m4 0h1M66 110.5h1m3 0h2M68 109.5h1M52 108.5h1m10 0h2m27 0h1M47 107.5h1m1 0h1m14 0h2M56 106.5h2M52 105.5h1m14 0h1M66 104.5h1M66 103.5h1M68 102.5h1M46 99.5h1m3 0h2m18 0h1m1 0h1M46 98.5h1m4 0h1m1 0h1M64 97.5h1m4 0h1M49 96.5h1m14 0h1M52 95.5h1m1 0h1m7 0h1M59 93.5h1m4 0h2M55 90.5h1m4 0h1m3 0h1M61 89.5h1m3 0h1m2 0h1M61 86.5h1M67 85.5h1m1 0h1m21 0h1M55 84.5h1m36 0h1M91 83.5h1M61 82.5h1m3 0h2m43 0h1M56 81.5h2M48 80.5h1m14 0h1M61 79.5h1m3 0h1m44 0h1M51 78.5h1M49 77.5h1m4 0h1M47 76.5h3m3 0h1m11 0h1M55 75.5h1m6 0h1m5 0h1M47 74.5h1m12 0h1m2 0h1m28 0h1M46 73.5h1m4 0h1M57 72.5h2m5 0h1M52 71.5h1m1 0h1m12 0h1M92 70.5h1M46 69.5h1m11 0h1m33 0h1M56 68.5h1m1 0h1m2 0h1m31 0h2M61 67.5h1m29 0h1M50 66.5h1m43 0h1M54 65.5h1m10 0h1m25 0h2M49 64.5h1m7 0h1m2 0h2m1 0h1m30 0h1M57 63.5h2m32 0h1M111 60.5h1M93 58.5h1M94 57.5h1M57 55.5h1m37 0h1M56 54.5h1M59 53.5h1M50 52.5h1m7 0h1M53 51.5h1m2 0h1M56 50.5h1m5 0h1m31 0h1m15 0h1M50 49.5h1m10 0h2M52 48.5h1m6 0h1m51 0h1M61 47.5h1m31 0h1m15 0h1m1 0h1M62 46.5h2M53 45.5h1m11 0h1m27 0h1M52 44.5h1m13 0h1M48 43.5h1m3 0h1M47 42.5h1m2 0h1m14 0h1M48 41.5h2m3 0h1m11 0h1M46 40.5h1m2 0h1m13 0h1M46 39.5h3m15 0h1M46 38.5h1m17 0h1M63 37.5h1m2 0h1M63 36.5h1M64 35.5h1m27 0h1M63 34.5h1M59 33.5h1m2 0h1M91 32.5h1m1 0h1M56 31.5h1m6 0h1M57 30.5h1M58 28.5h1m1 0h1m31 0h1m2 0h1M57 27.5h2M59 25.5h1M55 24.5h1m2 0h1M59 23.5h1M60 22.5h1m49 0h1M56 21.5h1M56 20.5h1m1 0h1m1 0h1M93 19.5h1M57 18.5h1m2 0h2m32 0h1M93 17.5h1M61 16.5h1m32 0h1"/><path stroke="#6ece58" d="M47 127.5h1m11 0h1m9 0h1M67 125.5h1M43 123.5h1M43 122.5h1M74 121.5h1M75 120.5h1M43 119.5h2m24 0h1m2 0h2m1 0h1M51 115.5h1m23 0h1M46 114.5h1m3 0h1M61 112.5h1m1 0h2M49 111.5h1m2 0h2m9 0h1M44 110.5h2m21 0h1M53 109.5h1m10 0h2m1 0h1m1 0h1M44 107.5h1m22 0h1M45 106.5h1m21 0h1M51 105.5h1m14 0h1m2 0h1M46 104.5h1m1 0h1M68 103.5h1M51 102.5h1M50 101.5h1M54 100.5h1m11 0h1M49 99.5h1m4 0h1M54 98.5h1M50 97.5h1m3 0h1m10 0h1M48 96.5h1m10 0h1m9 0h1M66 95.5h1m1 0h1M63 94.5h1M58 93.5h1M60 92.5h1m1 0h1M67 89.5h1M56 87.5h1M55 86.5h1m8 0h1m1 0h1M57 84.5h1m1 0h1m3 0h1M68 82.5h2M55 81.5h1m2 0h2M60 80.5h3M47 79.5h1m5 0h1m6 0h1m3 0h1M58 78.5h3m6 0h2M62 77.5h2M61 76.5h1M45 75.5h1m3 0h1m2 0h2m38 0h1M48 74.5h1m3 0h1m4 0h2M45 73.5h1m3 0h2m11 0h1m29 0h1M48 72.5h1m6 0h1m9 0h1m26 0h1M45 71.5h1m5 0h1m4 0h1m3 0h1m1 0h3M54 70.5h1m6 0h1M56 69.5h1M51 68.5h2m7 0h1m1 0h1M58 67.5h1M47 66.5h1m5 0h2m1 0h1m8 0h1m25 0h1M55 65.5h2M56 63.5h1m35 0h1M93 60.5h1M93 59.5h2M54 57.5h1m56 0h1M53 56.5h1m40 0h1M94 55.5h1M51 54.5h1m5 0h1M55 52.5h1M54 51.5h1m3 0h1m51 0h1M49 50.5h1m8 0h1M58 49.5h3m31 0h1m16 0h1M51 48.5h1m42 0h1M51 47.5h1m7 0h1m34 0h1M49 46.5h1m1 0h2m11 0h1M54 45.5h1M49 44.5h1m3 0h2m10 0h1m27 0h1m17 0h1M47 43.5h1m15 0h1m2 0h1M46 42.5h1m7 0h1M52 41.5h1m1 0h1m8 0h2M66 40.5h1m26 0h2m15 0h2M91 39.5h1M47 38.5h1m14 0h1M47 37.5h1m13 0h1M48 36.5h1m16 0h1m44 0h1M65 35.5h1M55 34.5h1m1 0h1M64 33.5h1M93 31.5h1M58 30.5h1M92 29.5h1M62 28.5h1M55 27.5h1m3 0h1m1 0h2M92 26.5h1M61 24.5h1m30 0h1M55 23.5h1m1 0h1m36 0h1M60 21.5h1M55 20.5h1m5 0h1M61 19.5h1M56 18.5h1m1 0h1M56 17.5h1m3 0h1M57 16.5h1m2 0h1"/><path stroke="#77d153" d="M55 127.5h1m7 0h1M45 126.5h1m1 0h1M68 125.5h1M68 121.5h2M44 120.5h1m27 0h1M68 119.5h1M69 118.5h1m4 0h1M44 117.5h1M47 114.5h1m17 0h1M45 113.5h1M44 112.5h1m15 0h1m4 0h1m6 0h1M54 111.5h1M47 110.5h1M46 109.5h1m5 0h1m2 0h1m5 0h1m1 0h1M47 108.5h1m1 0h2m2 0h1M45 107.5h1M57 105.5h1m5 0h1M47 104.5h1m3 0h1M52 103.5h1m14 0h1M53 102.5h1m9 0h1M46 100.5h1m1 0h1m4 0h1m11 0h1M63 99.5h2M65 96.5h1M60 94.5h1M55 93.5h3m4 0h2M58 92.5h1m2 0h1m3 0h1m2 0h1M55 91.5h1m5 0h1m1 0h1M63 90.5h1M66 89.5h1M55 88.5h1M55 87.5h1m3 0h1m1 0h1m2 0h1M63 86.5h1m1 0h1M62 85.5h1M57 83.5h1m6 0h2M57 82.5h1M59 79.5h1M57 78.5h1M57 77.5h1m3 0h1M59 76.5h1M50 75.5h1M53 74.5h1m2 0h1m4 0h1M50 72.5h1m2 0h1m2 0h1M46 71.5h2m9 0h1M48 70.5h2m12 0h2M54 69.5h1M47 68.5h1m2 0h1m6 0h1M47 67.5h1m12 0h1m2 0h1m28 0h1M52 66.5h1m8 0h1m30 0h2M46 65.5h1m3 0h1m9 0h1m1 0h1m30 0h1M55 64.5h1m3 0h1m32 0h1M92 62.5h2M58 55.5h1m34 0h1M94 53.5h1M62 52.5h1m28 0h1M62 51.5h1M61 50.5h1m31 0h1M54 48.5h1m3 0h1m1 0h2M54 47.5h1m3 0h1M53 46.5h1m6 0h1m49 0h2M64 45.5h1M48 44.5h1m14 0h1M51 43.5h1m6 0h1m34 0h2M48 42.5h1m14 0h1m27 0h1m1 0h1M94 41.5h1M47 40.5h1m11 0h1M62 39.5h2m1 0h1m27 0h1m16 0h1M63 38.5h1m27 0h1m1 0h1M110 37.5h1M55 36.5h1M63 35.5h1M58 34.5h2m2 0h1M57 28.5h1M61 25.5h1M56 24.5h1M58 23.5h1m2 0h1M93 22.5h1"/><path stroke="#81d34d" d="M61 127.5h1m3 0h1M68 126.5h1M64 125.5h1M69 124.5h1M70 123.5h1M68 122.5h2M73 121.5h1M44 118.5h1m25 0h1M47 117.5h1M50 115.5h1m19 0h1m2 0h1M44 114.5h1m25 0h1m1 0h1M48 113.5h1M56 112.5h1m1 0h1M47 111.5h1m3 0h1m10 0h1m5 0h2M49 110.5h1m3 0h1m15 0h1M45 109.5h1m20 0h1M59 108.5h1M48 107.5h1m2 0h1m4 0h1m6 0h1M46 106.5h2m5 0h1m1 0h1m7 0h1M53 105.5h2M49 104.5h2M44 103.5h1m1 0h1m17 0h1M61 102.5h1m3 0h1m3 0h1M47 101.5h3M45 99.5h1m2 0h1m10 0h1m7 0h1M63 97.5h1M58 96.5h1m7 0h1m1 0h1M60 95.5h2M58 94.5h1M60 93.5h2m4 0h1M55 92.5h1m10 0h1M57 91.5h1m2 0h1M56 90.5h2m1 0h1M59 89.5h1M63 87.5h1M58 86.5h3M62 84.5h1M59 83.5h1m3 0h1M60 81.5h1m1 0h1M54 80.5h1m2 0h1M46 78.5h1M52 76.5h1m1 0h1m9 0h1M47 75.5h1M45 74.5h1m3 0h1M47 73.5h1m4 0h2m4 0h3M47 72.5h1m4 0h1M50 71.5h1m10 0h1M53 70.5h1m5 0h2M52 69.5h2m5 0h2M46 68.5h1m8 0h1m39 0h1M48 67.5h1m13 0h1M59 66.5h1M61 65.5h1m32 0h1M94 63.5h1M91 62.5h1M94 61.5h1M95 59.5h1M57 58.5h1M58 53.5h1M60 52.5h2M93 51.5h1M60 50.5h1M55 49.5h2m53 0h1M50 47.5h1m9 0h1m30 0h1m18 0h1M92 46.5h1m1 0h1M50 45.5h1m4 0h1m7 0h1m47 0h1M62 44.5h1M50 43.5h1m11 0h1m48 0h1M61 42.5h1m48 0h1M62 41.5h1m47 0h1M62 40.5h1M59 39.5h1m1 0h1m30 0h1M66 38.5h1M55 37.5h2m3 0h1m4 0h1M57 36.5h1m1 0h1m1 0h1M57 35.5h1m2 0h1M60 34.5h2M92 33.5h1M59 21.5h1M93 15.5h1"/><path stroke="#8bd646" d="M58 127.5h1m1 0h1m1 0h1M46 126.5h1m1 0h1m20 0h1M43 125.5h1M43 124.5h1m4 0h1m1 0h1m13 0h1m3 0h1M44 123.5h1M43 121.5h1M47 120.5h1m21 0h2M67 119.5h1M73 118.5h1m1 0h1M45 117.5h1m25 0h1M45 116.5h1M52 115.5h2m12 0h1M45 114.5h1m2 0h1m3 0h1M47 113.5h1m1 0h1M45 112.5h1m5 0h3M44 111.5h1m22 0h1M48 110.5h1m15 0h2m2 0h1M49 109.5h1m4 0h1M62 108.5h1M54 106.5h1m9 0h1m3 0h2M44 105.5h1m17 0h1m2 0h1M45 104.5h1m6 0h3m8 0h1M47 103.5h1M49 102.5h1m16 0h2M44 101.5h1M47 100.5h1m15 0h2M61 99.5h1m4 0h1m1 0h1M62 96.5h2M59 94.5h1M62 91.5h1M62 88.5h1M60 87.5h1M56 86.5h1M55 85.5h1M58 84.5h1M58 83.5h1M60 82.5h1M55 80.5h2M58 76.5h1m1 0h1m5 0h1M59 75.5h3M46 74.5h1m3 0h1m3 0h2m6 0h1m6 0h1M55 73.5h1m1 0h1M51 72.5h1M49 71.5h1m41 0h1M56 70.5h1M47 69.5h1m17 0h1M53 67.5h1M57 66.5h1M51 65.5h1M93 61.5h1M92 60.5h1M91 58.5h1M93 56.5h1M93 54.5h1M60 53.5h1M51 52.5h1m7 0h1m33 0h1M52 51.5h1m6 0h3M54 50.5h1m4 0h1m31 0h1M57 49.5h1m35 0h1M53 48.5h1m3 0h1m4 0h1M57 47.5h1M93 46.5h1M61 45.5h1M61 44.5h1M59 43.5h1m1 0h1m29 0h1M55 42.5h1m2 0h1m3 0h1M47 41.5h1M54 40.5h1m36 0h1M58 39.5h1M60 38.5h1m31 0h1M58 37.5h1m5 0h1M56 36.5h1M55 35.5h2m2 0h1m1 0h1M55 32.5h1"/><path stroke="#95d840" d="M57 127.5h1m6 0h1M44 126.5h1m6 0h1M46 125.5h1M52 124.5h1m17 0h3M67 123.5h1M48 120.5h1m24 0h1M74 119.5h1M48 118.5h1m2 0h1m15 0h1M46 117.5h1m3 0h1m24 0h1M72 116.5h1M44 115.5h1m26 0h1M53 114.5h1m9 0h1m5 0h1M54 113.5h1m16 0h1M47 112.5h1m2 0h1m4 0h1m1 0h1m1 0h1M45 111.5h1m25 0h1M51 110.5h1m11 0h1M47 109.5h1m8 0h1m1 0h3M48 108.5h1M46 107.5h1m3 0h1m1 0h1M50 106.5h3m6 0h1m1 0h1m3 0h2M49 105.5h1m5 0h1M48 103.5h1m4 0h1m11 0h1M51 101.5h1M49 100.5h2M47 99.5h1m17 0h1M60 96.5h1m6 0h1M55 94.5h3m4 0h1M58 91.5h1M61 90.5h1M58 89.5h1M56 88.5h1m2 0h3M57 86.5h1M56 82.5h1m2 0h1M61 81.5h1M58 79.5h1M62 78.5h1M55 77.5h2M46 75.5h1m4 0h1m6 0h1M48 73.5h1m7 0h1M60 72.5h1M51 69.5h1m5 0h1M49 67.5h1m43 0h1M55 66.5h1m2 0h1M91 61.5h1M91 60.5h1M91 59.5h1M91 57.5h1m1 0h1M92 56.5h1M92 55.5h1M92 53.5h2M55 47.5h1m36 0h1M61 46.5h1M58 45.5h1m32 0h1m18 0h1M60 44.5h1M54 43.5h2m1 0h1m2 0h1m31 0h1M55 41.5h1m4 0h2M55 39.5h1M57 38.5h1m52 0h1M62 37.5h1M62 36.5h1M62 35.5h1"/><path stroke="#a0da39" d="M49 126.5h2M51 125.5h1m6 0h2m2 0h2m1 0h2M55 124.5h1m1 0h3m5 0h1M67 121.5h1M46 120.5h1m20 0h1M66 119.5h1M49 118.5h1m13 0h2M49 117.5h1m1 0h1m15 0h1m2 0h1M46 116.5h1m4 0h1m1 0h1m20 0h1M45 115.5h1m3 0h1m4 0h1m13 0h1M67 114.5h1m3 0h1m1 0h2M50 113.5h1m1 0h2m11 0h2m3 0h1m1 0h3M49 112.5h1m12 0h1M61 111.5h1M50 110.5h1m3 0h1M48 109.5h1m8 0h1M45 108.5h1m8 0h1m2 0h1M53 107.5h1m8 0h1M58 106.5h1M48 105.5h1m7 0h1M44 104.5h1M45 102.5h1M45 101.5h1m7 0h1M52 100.5h1M55 99.5h1m6 0h1M58 97.5h1M55 96.5h1m1 0h1m3 0h1M55 95.5h1m3 0h1M56 85.5h1m3 0h2M61 84.5h1M56 83.5h1M67 82.5h1M55 79.5h1M56 76.5h2M59 72.5h1M55 71.5h1M57 70.5h2M54 67.5h4M60 66.5h1M92 59.5h1M92 58.5h1M91 54.5h1M92 52.5h1M59 46.5h1M92 45.5h1M55 44.5h1m1 0h1m33 0h1M110 43.5h1M56 42.5h1m2 0h2M56 41.5h1m35 0h1M55 40.5h1m1 0h1M56 39.5h2M56 38.5h1m2 0h1m1 0h1M57 37.5h1"/><path stroke="#aadc32" d="M52 126.5h1m10 0h1m3 0h1M55 125.5h1M46 124.5h1m4 0h1m2 0h1m11 0h1M45 123.5h1m3 0h1m18 0h1M64 122.5h1M44 121.5h1m20 0h1M66 118.5h1M53 117.5h1m14 0h1m3 0h1M48 116.5h1m19 0h1m1 0h1M55 115.5h1m7 0h3m3 0h1M63 113.5h1M70 112.5h1M46 111.5h1m9 0h1M52 110.5h1M50 109.5h1M44 108.5h1m1 0h1m13 0h2M55 107.5h1m4 0h1M46 105.5h2m11 0h1M49 103.5h1m1 0h1m3 0h3m5 0h1M47 102.5h1m2 0h1m3 0h1m4 0h1m2 0h1M52 101.5h1M51 100.5h1M60 99.5h1M58 95.5h1M61 94.5h1M56 92.5h2m1 0h1M62 90.5h1M55 89.5h2M57 88.5h2M62 87.5h1M57 85.5h1M60 84.5h1M55 82.5h1M56 79.5h1M61 78.5h1M51 74.5h1M92 61.5h1M92 57.5h1M91 56.5h1M92 54.5h1M92 50.5h1M55 48.5h2m35 0h1m17 0h1M58 46.5h1m32 0h1M56 45.5h2m4 0h1M59 44.5h1M58 41.5h2m31 0h1M56 40.5h1m1 0h1M55 38.5h1m2 0h1M59 37.5h1M58 36.5h1m1 0h1M58 35.5h1"/><path stroke="#b5de2b" d="M54 126.5h2m2 0h1m1 0h1M52 125.5h1m7 0h2M56 124.5h1m3 0h1m1 0h1m4 0h1M47 123.5h2M66 122.5h1M50 121.5h1m3 0h1M49 120.5h1m24 0h1M53 118.5h2m6 0h1m3 0h1M52 117.5h1m20 0h1M46 115.5h1m15 0h1m4 0h1M54 114.5h1m11 0h1m1 0h1M55 113.5h1m8 0h1M46 112.5h1m1 0h1m20 0h1m1 0h1m1 0h1M55 111.5h1m2 0h2M57 110.5h2M55 108.5h2M57 107.5h1M48 106.5h2M45 105.5h1m15 0h1M50 103.5h1M58 100.5h1M62 98.5h1M56 96.5h1M56 91.5h1m2 0h1M58 85.5h2M57 79.5h1M55 76.5h1M55 70.5h1M91 51.5h1M91 49.5h1M56 47.5h1M56 46.5h1M59 45.5h2M56 44.5h1m1 0h1m33 0h1M56 43.5h1M57 42.5h1m34 0h1M57 41.5h1M61 40.5h1"/><path stroke="#c0df25" d="M53 126.5h1m10 0h2M47 125.5h1m8 0h1M44 124.5h1m4 0h1m13 0h1M50 123.5h1M44 122.5h1m14 0h2m1 0h2m1 0h1M45 121.5h1m2 0h2m8 0h1m7 0h1M45 120.5h1m22 0h1M48 119.5h1M45 118.5h1m4 0h1m1 0h1m2 0h1M48 117.5h1M63 116.5h2m6 0h1M62 114.5h1m1 0h1M51 113.5h1M67 112.5h2M60 111.5h1M55 110.5h1m3 0h1m1 0h1M62 109.5h1M60 105.5h1M55 104.5h3M62 103.5h1M46 102.5h1m13 0h1M46 101.5h1m14 0h2M56 100.5h2M56 99.5h1M55 97.5h1M58 82.5h1M91 55.5h1M91 53.5h1M92 51.5h1M57 46.5h1M92 40.5h1"/><path stroke="#cae11f" d="M62 126.5h1m3 0h1M44 125.5h1m3 0h2m3 0h1M47 124.5h1m5 0h1M46 123.5h1M50 122.5h1M51 121.5h3m1 0h2m2 0h1m1 0h1m1 0h1M45 119.5h1m19 0h1M47 118.5h1m8 0h1m3 0h1m1 0h1M69 117.5h1m4 0h1M49 116.5h1m17 0h1m5 0h1M48 115.5h1m11 0h2M60 110.5h1M54 107.5h1M60 106.5h1m1 0h1M58 105.5h1M62 104.5h1M58 103.5h3M48 102.5h1m6 0h4M58 98.5h1m2 0h1M56 97.5h1m2 0h3M56 95.5h1M57 89.5h1M54 73.5h1M91 48.5h1M60 40.5h1M60 39.5h1"/><path stroke="#d5e21a" d="M59 126.5h1M50 125.5h1m3 0h1m2 0h1M45 124.5h1M62 123.5h1m3 0h1M52 122.5h1m2 0h1M57 121.5h1M64 120.5h1M47 119.5h1m5 0h1m10 0h1M57 118.5h3M66 117.5h1M47 116.5h1m2 0h1m1 0h1m16 0h1M47 115.5h1m8 0h1m1 0h2M55 114.5h1M58 113.5h2m2 0h1m6 0h1M57 111.5h1M56 110.5h1m5 0h1M58 108.5h1M58 107.5h1M54 101.5h1M59 100.5h1m2 0h1M60 98.5h1M57 97.5h1M57 95.5h1"/><path stroke="#dfe318" d="M56 126.5h2m3 0h1M45 125.5h1M61 124.5h1M59 123.5h1m1 0h1m3 0h1M57 122.5h1m3 0h1M60 121.5h1m1 0h1m1 0h1M51 120.5h2m1 0h1m5 0h1m2 0h1m2 0h1M46 119.5h1m7 0h2m2 0h2m3 0h1M46 118.5h1M63 117.5h3M54 116.5h1m10 0h2M60 114.5h2M56 113.5h1m11 0h1M59 107.5h1m1 0h1M60 104.5h1M61 103.5h1M60 100.5h1M62 97.5h1"/><path stroke="#eae51a" d="M51 123.5h1m2 0h2m4 0h1m2 0h1M51 122.5h1m1 0h1m2 0h1m1 0h1M53 120.5h1m1 0h1M49 119.5h1m10 0h1M54 117.5h1M57 115.5h1M56 114.5h1m2 0h1M57 113.5h1m2 0h1m6 0h1M55 100.5h1m5 0h1M57 99.5h1M55 98.5h1m1 0h1"/><path stroke="#f4e61e" d="M52 123.5h2m10 0h1M46 121.5h1M50 120.5h1m10 0h2M50 119.5h2m5 0h1m3 0h1M58 116.5h1M61 113.5h1M58 104.5h1M57 101.5h2M58 99.5h1"/><path stroke="#fde725" d="M56 123.5h3M45 122.5h5m4 0h1M47 121.5h1M56 120.5h4m5 0h1M52 119.5h1m3 0h1m5 0h1M55 117.5h8M55 116.5h3m1 0h4M57 114.5h2M59 104.5h1m1 0h1M55 101.5h2m2 0h2M56 98.5h1m2 0h1"/></g>
<clipPath id="cw"><rect x="53.5" y="89.5" width="930" height="280"/></clipPath><path clip-path="url(#cw)" d="M50.00 189.54 132.70 189.54 133.30 188.14 134.80 185.24 136.00 184.34 137.20 183.54 137.30 183.54 137.80 180.24 138.30 183.54 138.60 183.54 139.50 186.54 140.10 188.14 141.30 188.04 144.30 188.34 147.80 189.54 378.50 189.54 378.80 189.31 378.90 189.24 379.30 177.04 379.80 187.39 383.70 179.35 384.20 156.74 384.70 177.29 385.35 175.95 386.00 175.83 386.50 160.54 387.00 175.65 388.70 175.35 390.40 175.04 390.90 163.94 391.40 174.86 392.75 174.62 394.10 173.07 394.60 165.04 395.10 171.91 397.45 169.21 399.80 166.40 400.30 154.44 400.80 165.20 402.15 163.59 403.50 163.40 404.00 157.04 404.50 163.26 405.25 163.15 406.00 163.04 406.50 158.04 407.00 162.90 407.75 162.79 408.50 162.68 409.00 157.04 409.50 162.54 409.90 162.48 410.30 162.42 410.80 153.04 411.30 162.28 412.90 162.05 414.50 161.82 415.00 146.24 415.50 161.68 417.00 161.47 418.50 161.29 419.00 156.74 419.50 161.18 421.50 160.94 423.50 160.81 424.00 149.54 424.50 160.74 426.50 160.61 428.50 160.48 429.00 150.04 429.50 160.41 430.80 160.32 432.10 160.23 432.60 155.74 433.10 160.16 434.65 160.06 436.20 159.96 436.70 145.74 437.20 159.89 438.85 159.78 441.00 156.74 443.40 159.48 445.30 159.35 445.80 153.04 446.30 159.29 447.15 159.23 448.00 159.17 448.50 154.04 449.00 159.10 449.50 159.07 450.00 159.07 450.50 154.84 451.00 159.06 452.60 159.04 454.20 159.04 454.70 151.94 455.20 159.04 456.60 159.04 458.00 159.04 458.50 155.74 459.00 159.04 459.95 159.04 461.40 158.64 463.30 155.14 465.20 143.44 466.30 146.44 466.90 144.33 467.40 126.34 467.90 140.82 469.60 134.84 471.30 134.43 471.80 118.44 472.30 134.18 474.00 133.77 475.70 133.66 476.20 113.44 476.70 133.59 478.00 133.51 479.30 133.42 479.80 109.64 480.30 133.35 482.40 133.21 484.50 133.07 485.00 116.94 485.50 133.01 487.40 132.88 489.80 130.04 492.15 132.56 494.00 132.44 494.50 102.64 495.00 132.37 496.40 132.28 498.30 130.04 499.75 132.06 500.70 131.20 501.20 122.54 501.70 130.30 503.10 129.04 505.00 126.34 507.00 129.04 509.00 126.34 509.85 129.04 510.20 129.04 510.70 115.34 511.20 129.04 513.05 129.04 514.90 129.04 515.40 121.64 515.90 129.04 517.70 129.04 520.00 126.34 522.00 129.04 523.50 129.04 524.00 121.64 524.50 129.04 526.80 129.04 529.10 133.64 529.60 125.44 530.10 135.64 531.20 137.84 532.30 142.02 532.80 124.44 533.30 145.83 534.70 151.15 536.10 151.24 536.60 144.34 537.10 151.31 539.20 151.45 541.30 151.59 541.80 140.04 542.30 151.66 543.50 151.74 544.70 151.82 545.20 144.94 545.70 151.88 547.60 152.01 549.50 152.14 550.00 141.54 550.50 152.21 552.15 152.32 553.80 152.43 554.30 141.94 554.80 152.49 556.55 152.61 558.30 152.73 558.80 138.74 559.30 152.80 561.00 152.91 562.70 158.29 563.20 143.04 563.70 161.46 567.45 173.34 571.20 174.12 571.70 162.74 572.20 174.33 574.05 174.72 575.90 175.10 576.40 167.04 576.90 175.31 578.60 175.66 580.80 172.84 582.90 176.56 585.00 174.74 587.65 177.55 589.80 179.67 590.30 169.04 590.80 180.66 592.40 182.24 594.50 183.24 596.85 185.04 599.20 182.34 601.75 185.04 603.80 185.04 604.30 178.54 604.80 185.04 606.95 185.04 609.60 182.34 612.00 185.04 614.00 185.04 619.00 186.24 627.00 187.84 638.00 188.34 660.00 189.14 690.00 189.54 727.50 189.54 732.70 187.14 736.00 186.04 738.60 184.24 739.60 179.74 741.50 175.64 744.50 176.84 746.50 177.54 747.90 167.94 749.40 170.94 751.40 184.64 753.80 180.24 756.30 182.74 759.30 182.74 759.80 179.24 760.30 182.74 762.20 182.74 765.20 184.64 769.00 185.14 774.50 185.64 779.00 188.14 788.80 188.64 810.00 189.54 872.50 189.54 873.00 187.14 874.50 185.44 878.60 184.24 881.50 185.64 884.50 185.14 889.40 186.14 892.40 186.84 896.30 188.14 899.30 188.84 903.20 189.54 986.00 189.54 L986.00 189.76 903.20 189.76 899.30 190.26 896.30 190.96 892.40 192.96 889.40 192.96 884.50 194.96 881.50 193.96 878.60 195.46 874.50 193.96 873.00 191.46 872.50 189.76 810.00 189.76 788.80 190.66 779.00 190.66 774.50 191.96 769.00 193.46 765.20 192.96 762.20 193.46 759.80 195.46 756.30 194.46 753.80 195.96 751.40 195.46 749.40 200.36 748.20 200.73 747.90 207.26 747.60 200.91 744.50 201.86 741.50 202.26 739.60 201.86 738.60 193.96 732.70 190.96 727.50 189.76 690.00 189.76 665.00 190.46 638.00 190.66 627.00 191.66 619.00 192.76 614.00 195.46 610.30 197.66 608.00 196.36 605.00 200.96 602.00 199.96 599.00 198.96 596.00 196.96 593.00 199.96 591.00 200.82 590.70 206.56 590.40 201.07 586.00 202.96 583.00 206.56 581.00 209.56 579.30 213.16 576.50 210.96 574.50 210.60 574.20 225.16 573.90 210.49 571.00 209.96 568.90 208.46 566.00 210.96 564.30 214.36 564.00 226.46 563.70 215.56 562.00 218.96 560.30 218.68 560.00 238.76 559.70 218.58 556.00 217.96 554.00 217.96 553.70 223.56 553.40 217.96 551.00 217.96 549.30 218.81 549.00 228.36 548.70 219.11 545.00 220.96 542.60 223.84 542.30 240.66 542.00 224.56 540.00 226.96 538.30 223.98 538.00 252.96 537.70 222.94 536.00 219.96 534.10 221.86 533.80 241.66 533.50 222.46 532.00 223.96 530.00 256.76 529.20 257.76 527.00 241.66 525.20 242.38 524.90 265.36 524.60 242.62 522.50 243.46 520.80 247.07 520.50 287.96 520.20 248.35 518.50 251.96 516.30 252.45 516.00 282.36 515.70 252.58 514.00 252.96 512.00 249.40 511.70 312.06 511.40 248.34 509.50 244.96 507.40 245.55 507.10 313.16 506.80 245.72 504.50 246.36 502.80 241.09 502.50 332.46 502.20 239.23 500.50 233.96 498.40 237.97 498.10 313.36 497.80 239.12 496.00 242.56 493.90 230.15 493.60 355.96 493.30 226.60 491.50 215.96 489.50 226.54 489.20 312.36 488.90 229.71 487.00 239.76 484.90 226.32 484.60 345.86 484.30 222.48 482.50 210.96 480.70 218.16 480.40 309.26 480.10 220.56 478.00 228.96 476.10 225.88 475.80 352.96 475.50 224.90 473.50 221.66 471.50 224.02 471.20 324.96 470.90 224.72 469.00 226.96 466.80 225.90 466.50 289.96 466.20 225.62 464.00 224.56 462.30 220.48 462.00 265.36 461.70 219.04 460.00 214.96 457.90 215.80 457.60 261.56 457.30 216.04 455.00 216.96 453.10 216.54 452.80 245.36 452.50 216.40 450.50 215.96 449.00 216.34 448.70 259.96 448.40 216.49 446.50 216.96 444.60 216.54 444.30 259.66 444.00 216.40 442.00 215.96 440.10 216.38 439.80 255.26 439.50 216.52 437.50 216.96 435.70 214.16 435.40 252.96 435.10 213.23 433.00 209.96 431.00 210.40 430.70 252.96 430.40 210.54 428.50 210.96 426.30 211.94 426.00 249.76 425.70 212.20 424.00 212.96 421.90 215.06 421.60 251.66 421.30 215.66 419.00 217.96 417.10 222.18 416.80 247.86 416.50 223.52 414.50 227.96 412.30 227.96 412.00 243.46 411.70 227.96 410.00 227.96 408.30 223.80 408.00 239.16 407.70 222.34 405.50 216.96 403.70 218.16 403.40 236.86 403.10 218.56 401.00 219.96 399.10 214.89 398.80 238.76 398.50 213.29 396.50 207.96 394.60 208.17 394.30 235.96 394.00 208.24 392.00 208.46 389.80 209.68 389.50 219.46 389.20 210.02 387.50 210.96 385.50 208.29 385.20 229.26 384.90 207.49 383.00 204.96 381.00 209.36 380.20 207.96 379.30 204.96 378.50 189.76 147.80 189.76 144.30 190.86 141.30 191.46 140.10 194.36 139.00 195.46 138.10 196.76 137.20 195.96 136.00 194.36 134.80 192.56 133.30 190.86 132.70 189.76 50.00 189.76Z" fill="#1f77b4" stroke="#1f77b4" stroke-width="2.08" stroke-linejoin="round"/><path d="M412.7 150V165M420.7 203V232M430.7 148V160M440.2 146V162M460.2 150V163.7M473.9 128V144.8M478.3 110V129M482.6 120V160M491.5 126V149.7M500.2 128V148.6M535.2 128V149M465.2 203V220M473.7 206V218M491.3 212V228" stroke="#fff" stroke-width="0.75" opacity="0.9"/>
<path d="M48.1 93.5H53.5M48.1 125.5H53.5M48.1 158.5H53.5M48.1 191.5H53.5M48.1 223.5H53.5M48.1 256.5H53.5M48.1 289.5H53.5M48.1 322.5H53.5M48.1 354.5H53.5M53.5 369.5V374.4M170.5 369.5V374.4M286.5 369.5V374.4M402.5 369.5V374.4M518.5 369.5V374.4M635.5 369.5V374.4M751.5 369.5V374.4M867.5 369.5V374.4M983.5 369.5V374.4M48.1 444.5H53.5M48.1 487.5H53.5M48.1 531.5H53.5M48.1 574.5H53.5M48.1 617.5H53.5M48.1 661.5H53.5M48.1 704.5H53.5M57.5 705.5V710.4M172.5 705.5V710.4M288.5 705.5V710.4M403.5 705.5V710.4M518.5 705.5V710.4M634.5 705.5V710.4M749.5 705.5V710.4M864.5 705.5V710.4M980.5 705.5V710.4" stroke="#000" stroke-width="1.11" fill="none"/><rect x="53.5" y="89.5" width="930" height="280" fill="none" stroke="#000" stroke-width="1.11"/><rect x="53.5" y="425.5" width="930" height="280" fill="none" stroke="#000" stroke-width="1.11"/>
<text transform="matrix(0.17365 0 0 0.20274 488.200 23.797)">Left</text>
<text transform="matrix(0.18186 0 0 0.20274 477.800 81.797)">Waveform</text>
<text transform="matrix(0.18182 0 0 0.18681 466.000 418.077)">Spectrogram</text>
<text transform="matrix(0.14388 0 0 0.14085 23.000 98.859)">0.3</text>
<text transform="matrix(0.14388 0 0 0.14085 23.000 130.859)">0.2</text>
<text transform="matrix(0.14388 0 0 0.14085 23.000 163.859)">0.1</text>
<text transform="matrix(0.14388 0 0 0.14085 23.000 196.859)">0.0</text>
<text transform="matrix(0.15736 0 0 0.14085 11.000 229.859)">−0.1</text>
<text transform="matrix(0.15736 0 0 0.14085 12.000 261.859)">−0.2</text>
<text transform="matrix(0.15736 0 0 0.14085 12.000 294.859)">−0.3</text>
<text transform="matrix(0.15736 0 0 0.14085 12.000 327.859)">−0.4</text>
<text transform="matrix(0.15736 0 0 0.14085 12.000 359.859)">−0.5</text>
<text transform="matrix(0.14286 0 0 0.14085 50.000 390.859)">0</text>
<text transform="matrix(0.15315 0 0 0.14085 153.000 390.859)">2000</text>
<text transform="matrix(0.15315 0 0 0.14085 269.000 390.859)">4000</text>
<text transform="matrix(0.15315 0 0 0.14085 386.000 390.859)">6000</text>
<text transform="matrix(0.15315 0 0 0.14085 502.000 390.859)">8000</text>
<text transform="matrix(0.14748 0 0 0.14085 614.000 390.859)">10000</text>
<text transform="matrix(0.14748 0 0 0.14085 730.000 390.859)">12000</text>
<text transform="matrix(0.14748 0 0 0.14085 847.000 390.859)">14000</text>
<text transform="matrix(0.15108 0 0 0.14085 963.000 390.859)">16000</text>
<text transform="matrix(0.14286 0 0 0.14085 36.000 709.859)">0</text>
<text transform="matrix(0.14414 0 0 0.14085 27.000 666.859)">20</text>
<text transform="matrix(0.14414 0 0 0.14085 27.000 623.859)">40</text>
<text transform="matrix(0.14414 0 0 0.14085 27.000 579.859)">60</text>
<text transform="matrix(0.14414 0 0 0.14085 27.000 536.859)">80</text>
<text transform="matrix(0.14371 0 0 0.14085 19.000 492.859)">100</text>
<text transform="matrix(0.14371 0 0 0.14085 19.000 449.859)">120</text>
<text transform="matrix(0.14286 0 0 0.14085 54.000 726.859)">0</text>
<text transform="matrix(0.15315 0 0 0.14085 156.000 726.859)">2000</text>
<text transform="matrix(0.15315 0 0 0.14085 271.000 726.859)">4000</text>
<text transform="matrix(0.15315 0 0 0.14085 387.000 726.859)">6000</text>
<text transform="matrix(0.15315 0 0 0.14085 502.000 726.859)">8000</text>
<text transform="matrix(0.14748 0 0 0.14085 613.000 726.859)">10000</text>
<text transform="matrix(0.14748 0 0 0.14085 729.000 726.859)">12000</text>
<text transform="matrix(0.14748 0 0 0.14085 844.000 726.859)">14000</text>
<text transform="matrix(0.15108 0 0 0.14085 959.000 726.859)">16000</text>
</svg>
</body></html>
